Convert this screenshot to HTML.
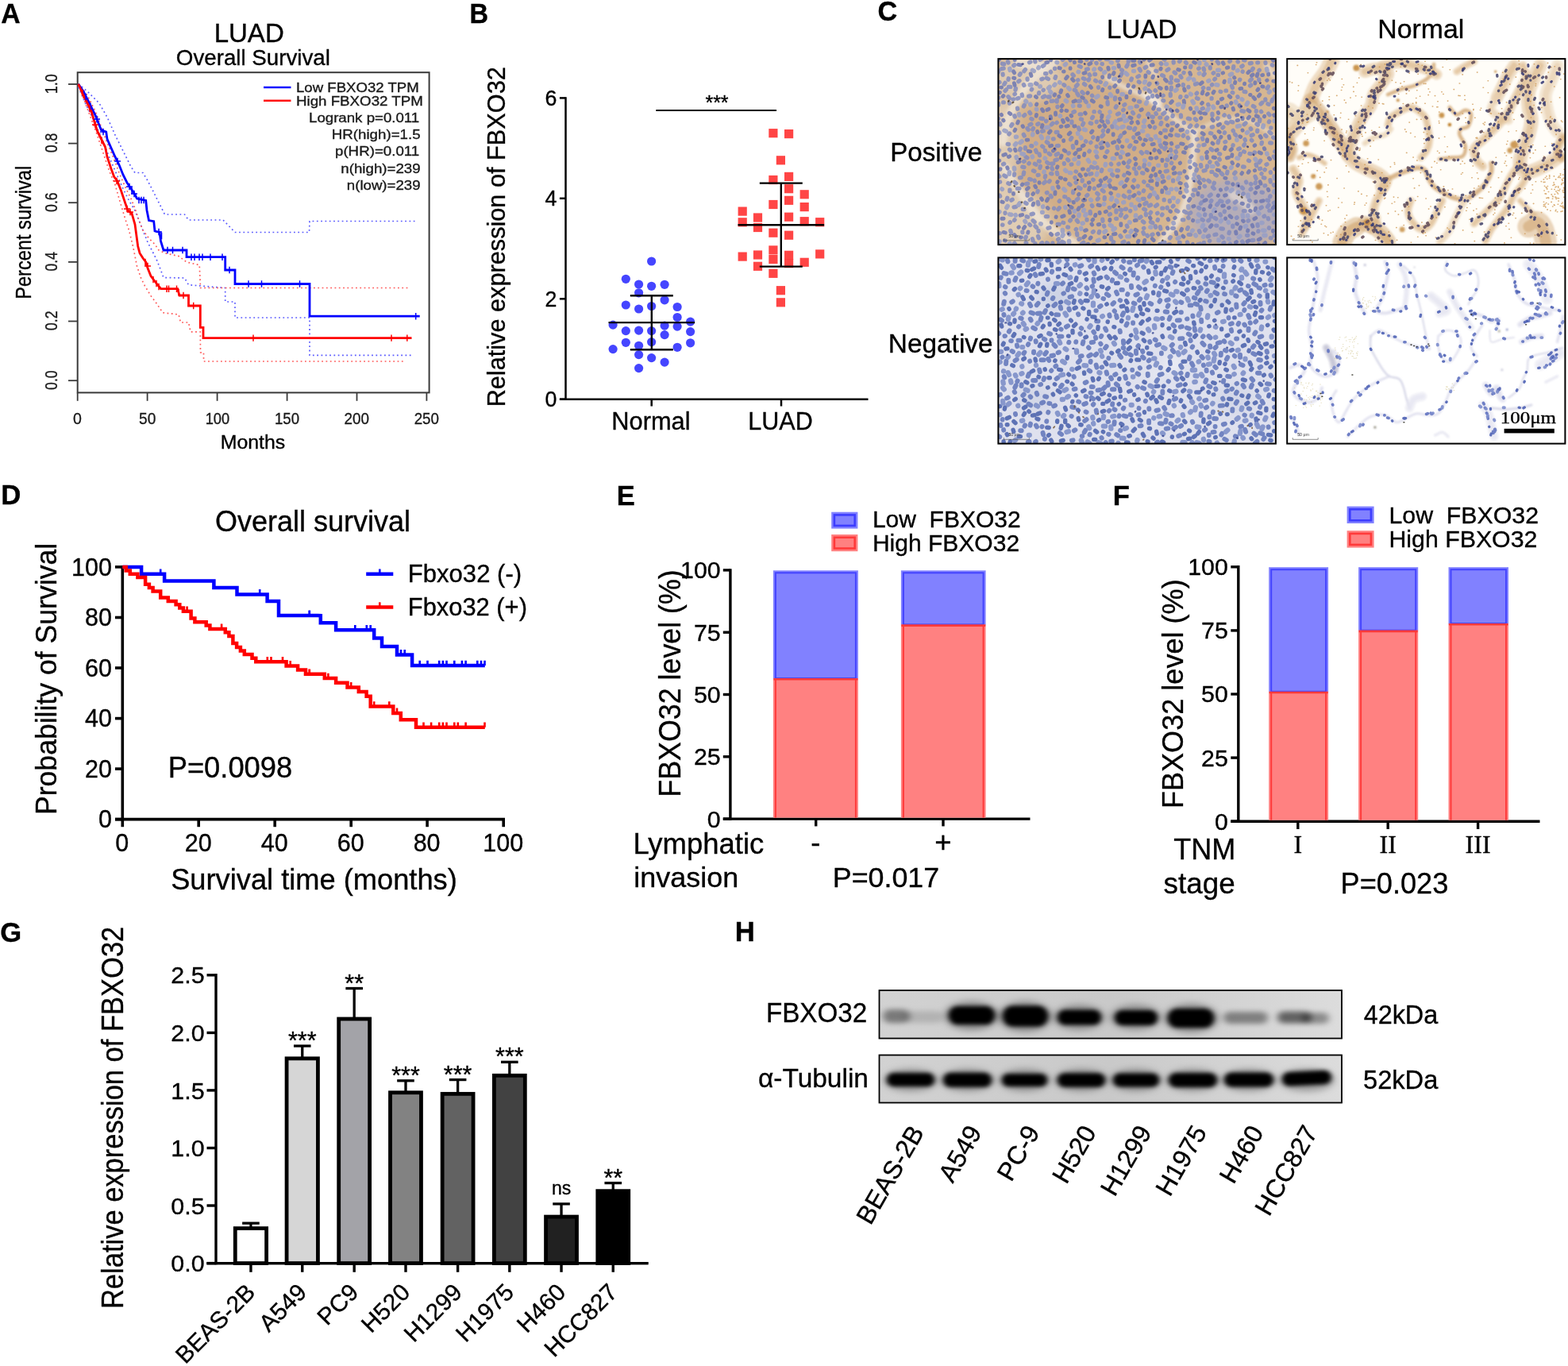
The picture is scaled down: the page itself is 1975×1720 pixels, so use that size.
<!DOCTYPE html>
<html lang="en"><head><meta charset="utf-8"><title>FBXO32 in LUAD - figure</title>
<style>
html,body{margin:0;padding:0;background:#fff;}
body{width:1975px;height:1720px;overflow:hidden;}
svg{display:block;}
text{white-space:pre;}
</style></head><body>
<svg width="1975" height="1720" viewBox="0 0 1975 1720" role="img" aria-label="FBXO32 expression in LUAD, panels A to H">
<rect width="1975" height="1720" fill="#fff"/>
<g id="panelA">
<text transform="translate(1.36,28.90) scale(0.9578,1)" font-family='"Liberation Sans", sans-serif' font-size="35.22" font-weight="bold" fill="#000" stroke="#000" stroke-width="0.35" >A</text>
<text transform="translate(269.66,52.60)" font-family='"Liberation Sans", sans-serif' font-size="33.03" font-weight="normal" fill="#000" stroke="#000" stroke-width="0.35" >LUAD</text>
<text transform="translate(221.85,82.00)" font-family='"Liberation Sans", sans-serif' font-size="27.72" font-weight="normal" fill="#000" stroke="#000" stroke-width="0.35" >Overall Survival</text>
<rect x="97.70" y="91.20" width="442.90" height="403.20" fill="none" stroke="#3a3a3a" stroke-width="2.0" />
<line x1="86.00" y1="106.00" x2="97.70" y2="106.00" stroke="#3a3a3a" stroke-width="1.8" stroke-linecap="butt" />
<text transform="translate(72.30,118.36) rotate(-90) scale(0.8450,1)" font-family='"Liberation Sans", sans-serif' font-size="21.45" font-weight="normal" fill="#1a1a1a" stroke="#1a1a1a" stroke-width="0.35">1.0</text>
<line x1="86.00" y1="180.60" x2="97.70" y2="180.60" stroke="#3a3a3a" stroke-width="1.8" stroke-linecap="butt" />
<text transform="translate(72.30,192.31) rotate(-90) scale(0.8257,1)" font-family='"Liberation Sans", sans-serif' font-size="21.45" font-weight="normal" fill="#1a1a1a" stroke="#1a1a1a" stroke-width="0.35">0.8</text>
<line x1="86.00" y1="255.20" x2="97.70" y2="255.20" stroke="#3a3a3a" stroke-width="1.8" stroke-linecap="butt" />
<text transform="translate(72.30,266.91) rotate(-90) scale(0.8257,1)" font-family='"Liberation Sans", sans-serif' font-size="21.45" font-weight="normal" fill="#1a1a1a" stroke="#1a1a1a" stroke-width="0.35">0.6</text>
<line x1="86.00" y1="329.90" x2="97.70" y2="329.90" stroke="#3a3a3a" stroke-width="1.8" stroke-linecap="butt" />
<text transform="translate(72.30,341.60) rotate(-90) scale(0.8194,1)" font-family='"Liberation Sans", sans-serif' font-size="21.45" font-weight="normal" fill="#1a1a1a" stroke="#1a1a1a" stroke-width="0.35">0.4</text>
<line x1="86.00" y1="404.50" x2="97.70" y2="404.50" stroke="#3a3a3a" stroke-width="1.8" stroke-linecap="butt" />
<text transform="translate(72.30,416.21) rotate(-90) scale(0.8320,1)" font-family='"Liberation Sans", sans-serif' font-size="21.45" font-weight="normal" fill="#1a1a1a" stroke="#1a1a1a" stroke-width="0.35">0.2</text>
<line x1="86.00" y1="479.20" x2="97.70" y2="479.20" stroke="#3a3a3a" stroke-width="1.8" stroke-linecap="butt" />
<text transform="translate(72.30,490.91) rotate(-90) scale(0.8225,1)" font-family='"Liberation Sans", sans-serif' font-size="21.45" font-weight="normal" fill="#1a1a1a" stroke="#1a1a1a" stroke-width="0.35">0.0</text>
<line x1="97.70" y1="494.40" x2="97.70" y2="504.80" stroke="#3a3a3a" stroke-width="1.8" stroke-linecap="butt" />
<line x1="185.60" y1="494.40" x2="185.60" y2="504.80" stroke="#3a3a3a" stroke-width="1.8" stroke-linecap="butt" />
<line x1="273.60" y1="494.40" x2="273.60" y2="504.80" stroke="#3a3a3a" stroke-width="1.8" stroke-linecap="butt" />
<line x1="361.60" y1="494.40" x2="361.60" y2="504.80" stroke="#3a3a3a" stroke-width="1.8" stroke-linecap="butt" />
<line x1="449.50" y1="494.40" x2="449.50" y2="504.80" stroke="#3a3a3a" stroke-width="1.8" stroke-linecap="butt" />
<line x1="537.40" y1="494.40" x2="537.40" y2="504.80" stroke="#3a3a3a" stroke-width="1.8" stroke-linecap="butt" />
<text transform="translate(92.12,533.90) scale(0.9647,1)" font-family='"Liberation Sans", sans-serif' font-size="20.30" font-weight="normal" fill="#1a1a1a" stroke="#1a1a1a" stroke-width="0.35" >0</text>
<text transform="translate(175.03,533.90) scale(0.9424,1)" font-family='"Liberation Sans", sans-serif' font-size="20.30" font-weight="normal" fill="#1a1a1a" stroke="#1a1a1a" stroke-width="0.35" >50</text>
<text transform="translate(258.63,533.90) scale(0.9029,1)" font-family='"Liberation Sans", sans-serif' font-size="20.30" font-weight="normal" fill="#1a1a1a" stroke="#1a1a1a" stroke-width="0.35" >100</text>
<text transform="translate(345.90,533.90) scale(0.9187,1)" font-family='"Liberation Sans", sans-serif' font-size="20.30" font-weight="normal" fill="#1a1a1a" stroke="#1a1a1a" stroke-width="0.35" >150</text>
<text transform="translate(433.56,533.90) scale(0.9291,1)" font-family='"Liberation Sans", sans-serif' font-size="20.30" font-weight="normal" fill="#1a1a1a" stroke="#1a1a1a" stroke-width="0.35" >200</text>
<text transform="translate(521.66,533.90) scale(0.9260,1)" font-family='"Liberation Sans", sans-serif' font-size="20.30" font-weight="normal" fill="#1a1a1a" stroke="#1a1a1a" stroke-width="0.35" >250</text>
<text transform="translate(277.71,564.90) scale(1.0275,1)" font-family='"Liberation Sans", sans-serif' font-size="24.20" font-weight="normal" fill="#000" stroke="#000" stroke-width="0.35" >Months</text>
<text transform="translate(38.60,376.79) rotate(-90) scale(0.8762,1)" font-family='"Liberation Sans", sans-serif' font-size="26.96" font-weight="normal" fill="#000" stroke="#000" stroke-width="0.35">Percent survival</text>
<line x1="332.00" y1="110.00" x2="366.50" y2="110.00" stroke="#1414ff" stroke-width="2.4" stroke-linecap="butt" />
<line x1="332.00" y1="126.80" x2="366.50" y2="126.80" stroke="#ff1414" stroke-width="2.4" stroke-linecap="butt" />
<text transform="translate(373.01,115.50) scale(1.1420,1)" font-family='"Liberation Sans", sans-serif' font-size="16.30" font-weight="normal" fill="#1a1a1a" stroke="#1a1a1a" stroke-width="0.35" >Low FBXO32 TPM</text>
<text transform="translate(373.00,132.70) scale(1.1486,1)" font-family='"Liberation Sans", sans-serif' font-size="16.30" font-weight="normal" fill="#1a1a1a" stroke="#1a1a1a" stroke-width="0.35" >High FBXO32 TPM</text>
<text transform="translate(389.01,154.40) scale(1.1459,1)" font-family='"Liberation Sans", sans-serif' font-size="16.30" font-weight="normal" fill="#1a1a1a" stroke="#1a1a1a" stroke-width="0.35" >Logrank p=0.011</text>
<text transform="translate(417.80,175.40) scale(1.1474,1)" font-family='"Liberation Sans", sans-serif' font-size="16.30" font-weight="normal" fill="#1a1a1a" stroke="#1a1a1a" stroke-width="0.35" >HR(high)=1.5</text>
<text transform="translate(421.98,196.40) scale(1.1488,1)" font-family='"Liberation Sans", sans-serif' font-size="16.30" font-weight="normal" fill="#1a1a1a" stroke="#1a1a1a" stroke-width="0.35" >p(HR)=0.011</text>
<text transform="translate(429.28,217.80) scale(1.1476,1)" font-family='"Liberation Sans", sans-serif' font-size="16.30" font-weight="normal" fill="#1a1a1a" stroke="#1a1a1a" stroke-width="0.35" >n(high)=239</text>
<text transform="translate(436.79,238.80) scale(1.1450,1)" font-family='"Liberation Sans", sans-serif' font-size="16.30" font-weight="normal" fill="#1a1a1a" stroke="#1a1a1a" stroke-width="0.35" >n(low)=239</text>
<path d="M98.7 105.7 L110.0 115.0 L125.0 130.0 L135.0 147.5 L145.0 170.0 L155.0 190.0 L165.0 210.0 L170.0 217.5 L180.0 217.5 L186.0 227.5 L192.5 240.0 L200.0 255.0 L207.5 270.0 L232.5 270.0 L237.5 277.0 L281.0 277.0 L296.0 292.5 L389.5 292.5 L390.0 278.5 L522.5 278.5" fill="none" stroke="#5a5aff" stroke-width="1.7" stroke-dasharray="1.8 3.5" stroke-linejoin="round"/>
<path d="M98.7 110.0 L107.5 130.0 L117.5 150.0 L127.5 172.5 L137.5 197.5 L145.0 215.0 L155.0 237.5 L162.5 252.5 L170.0 265.0 L175.0 277.5 L180.0 290.0 L186.0 305.0 L192.5 317.5 L197.5 327.5 L202.5 340.0 L206.0 349.5 L232.5 350.0 L237.5 358.7 L283.7 362.5 L283.7 380.0 L296.0 380.0 L296.0 400.0 L390.0 400.0 L390.0 447.3 L518.0 447.3" fill="none" stroke="#5a5aff" stroke-width="1.7" stroke-dasharray="1.8 3.5" stroke-linejoin="round"/>
<path d="M98.7 105.7 L110.0 120.0 L120.0 140.0 L127.5 160.0 L135.0 180.0 L142.5 197.5 L150.0 217.5 L157.5 235.0 L165.0 250.0 L170.0 262.5 L175.0 277.5 L180.0 290.0 L187.5 300.0 L195.0 307.5 L200.0 315.0 L207.5 318.7 L225.0 322.5 L235.0 330.0 L251.2 333.7 L252.5 362.5 L513.7 362.5" fill="none" stroke="#ff5a5a" stroke-width="1.7" stroke-dasharray="1.8 3.5" stroke-linejoin="round"/>
<path d="M98.7 107.5 L107.5 130.0 L115.0 150.0 L122.5 170.0 L130.0 192.5 L137.5 215.0 L145.0 232.5 L150.0 250.0 L157.5 275.0 L162.5 290.0 L167.5 310.0 L172.5 335.0 L177.5 350.0 L182.5 360.0 L190.0 372.5 L197.5 382.5 L205.0 393.7 L225.0 396.0 L227.5 406.0 L237.5 406.0 L240.0 417.8 L252.3 417.8 L252.5 443.8 L256.5 443.8 L256.5 455.0 L510.3 455.0" fill="none" stroke="#ff5a5a" stroke-width="1.7" stroke-dasharray="1.8 3.5" stroke-linejoin="round"/>
<path d="M98.7 105.7 L105.0 115.0 L112.5 130.0 L120.0 145.0 L125.0 157.5 L127.5 163.7 L133.7 166.0 L135.0 175.0 L145.0 197.5 L150.0 207.5 L155.0 220.0 L160.0 230.0 L165.0 237.5 L170.0 245.0 L172.5 250.0 L183.7 252.5 L185.0 265.0 L187.5 277.5 L193.7 278.7 L195.0 291.0 L201.0 292.5 L202.5 303.7 L206.0 315.0 L235.0 315.0 L235.0 323.7 L283.7 323.7 L283.7 340.0 L296.0 340.0 L296.0 357.5 L390.0 357.5 L390.0 398.2 L528.7 398.2" fill="none" stroke="#0000ff" stroke-width="2.8" stroke-linejoin="miter"/>
<path d="M98.7 105.7 L105.0 120.0 L110.0 130.0 L115.0 140.0 L118.7 152.5 L122.5 165.0 L127.5 175.0 L132.5 185.0 L135.0 197.5 L140.0 212.5 L143.7 222.5 L147.5 227.5 L152.5 240.0 L157.5 255.0 L161.0 265.0 L166.0 268.7 L170.0 282.5 L172.0 297.5 L173.7 310.0 L176.0 318.7 L180.0 325.0 L183.7 330.0 L186.0 337.5 L190.0 347.5 L193.7 352.5 L197.5 357.5 L202.5 363.5 L223.7 363.7 L226.0 372.0 L237.5 372.0 L237.5 385.0 L252.3 385.0 L252.3 412.3 L256.0 412.3 L256.0 425.6 L518.5 425.6" fill="none" stroke="#ff0000" stroke-width="2.8" stroke-linejoin="miter"/>
<path d="M211.0 310.8V319.2M217.5 310.8V319.2M230.0 310.8V319.2M241.0 319.5V327.9M245.0 319.5V327.9M251.0 319.5V327.9M255.0 319.5V327.9M265.0 319.5V327.9M280.0 319.5V327.9M289.0 335.8V344.2M313.0 353.3V361.7M329.5 353.3V361.7M377.5 353.3V361.7M523.7 394.0V402.4M108.0 117.8V126.2M114.0 129.8V138.2M122.0 145.8V154.2M130.0 161.8V170.2M148.0 198.8V207.2M163.0 230.8V239.2M166.0 235.8V244.2M169.0 239.8V248.2M175.0 247.8V256.2M178.0 247.8V256.2M181.0 247.8V256.2M200.0 287.8V296.2M203.5 292.8V301.2" fill="none" stroke="#0000ff" stroke-width="1.5" />
<path d="M210.0 359.5V367.9M212.5 359.5V367.9M222.5 359.5V367.9M225.0 363.8V372.2M231.0 367.8V376.2M243.7 380.8V389.2M319.0 421.4V429.8M493.0 421.4V429.8M512.8 421.4V429.8M104.0 112.8V121.2M113.0 132.8V141.2M120.0 152.8V161.2M128.0 172.8V181.2M147.0 223.8V232.2M160.0 258.8V267.2M164.0 262.8V271.2M183.0 325.8V334.2M186.0 330.8V339.2M193.0 347.8V356.2M197.0 352.8V361.2M200.0 356.8V365.2" fill="none" stroke="#ff0000" stroke-width="1.5" />
<path d="M118.0 150.0H126.0M126.0 166.0H134.0M144.0 203.0H152.0M159.0 235.0H167.0M165.0 244.0H173.0M196.0 292.0H204.0" fill="none" stroke="#0000ff" stroke-width="1.4" />
<path d="M116.0 157.0H124.0M143.0 228.0H151.0M156.0 263.0H164.0M160.0 267.0H168.0M182.0 335.0H190.0" fill="none" stroke="#ff0000" stroke-width="1.4" />
</g>
<g id="panelB">
<text transform="translate(591.38,28.70) scale(0.9418,1)" font-family='"Liberation Sans", sans-serif' font-size="34.64" font-weight="bold" fill="#000" stroke="#000" stroke-width="0.35" >B</text>
<line x1="712.50" y1="122.20" x2="712.50" y2="503.90" stroke="#000" stroke-width="2.5" stroke-linecap="butt" />
<line x1="704.90" y1="502.70" x2="1093.50" y2="502.70" stroke="#000" stroke-width="2.5" stroke-linecap="butt" />
<line x1="704.90" y1="123.40" x2="712.50" y2="123.40" stroke="#000" stroke-width="2.5" stroke-linecap="butt" />
<text transform="translate(701.40,132.90)" text-anchor="end" font-family='"Liberation Sans", sans-serif' font-size="26.80" font-weight="normal" fill="#000" stroke="#000" stroke-width="0.35">6</text>
<line x1="704.90" y1="249.80" x2="712.50" y2="249.80" stroke="#000" stroke-width="2.5" stroke-linecap="butt" />
<text transform="translate(701.40,259.30)" text-anchor="end" font-family='"Liberation Sans", sans-serif' font-size="26.80" font-weight="normal" fill="#000" stroke="#000" stroke-width="0.35">4</text>
<line x1="704.90" y1="376.30" x2="712.50" y2="376.30" stroke="#000" stroke-width="2.5" stroke-linecap="butt" />
<text transform="translate(701.40,385.80)" text-anchor="end" font-family='"Liberation Sans", sans-serif' font-size="26.80" font-weight="normal" fill="#000" stroke="#000" stroke-width="0.35">2</text>
<line x1="704.90" y1="502.70" x2="712.50" y2="502.70" stroke="#000" stroke-width="2.5" stroke-linecap="butt" />
<text transform="translate(701.40,512.20)" text-anchor="end" font-family='"Liberation Sans", sans-serif' font-size="26.80" font-weight="normal" fill="#000" stroke="#000" stroke-width="0.35">0</text>
<line x1="820.70" y1="502.70" x2="820.70" y2="511.50" stroke="#000" stroke-width="2.5" stroke-linecap="butt" />
<line x1="984.00" y1="502.70" x2="984.00" y2="511.50" stroke="#000" stroke-width="2.5" stroke-linecap="butt" />
<text transform="translate(770.34,540.50)" font-family='"Liberation Sans", sans-serif' font-size="30.80" font-weight="normal" fill="#000" stroke="#000" stroke-width="0.35" >Normal</text>
<text transform="translate(942.36,540.50)" font-family='"Liberation Sans", sans-serif' font-size="30.51" font-weight="normal" fill="#000" stroke="#000" stroke-width="0.35" >LUAD</text>
<text transform="translate(635.70,512.36) rotate(-90) scale(0.9631,1)" font-family='"Liberation Sans", sans-serif' font-size="31.88" font-weight="normal" fill="#000" stroke="#000" stroke-width="0.35">Relative expression of FBXO32</text>
<line x1="826.30" y1="139.00" x2="978.00" y2="139.00" stroke="#000" stroke-width="2.2" stroke-linecap="butt" />
<text transform="translate(903.00,137.50)" text-anchor="middle" font-family='"Liberation Sans", sans-serif' font-size="25.00" font-weight="normal" fill="#000" stroke="#000" stroke-width="0.35">***</text>
<g fill="#ff3b3b" fill-opacity="0.95">
<rect x="968.3" y="162.1" width="11.2" height="11.2"/>
<rect x="988.0" y="163.0" width="11.2" height="11.2"/>
<rect x="977.8" y="196.2" width="11.2" height="11.2"/>
<rect x="988.0" y="216.8" width="11.2" height="11.2"/>
<rect x="968.3" y="220.9" width="11.2" height="11.2"/>
<rect x="988.0" y="232.1" width="11.2" height="11.2"/>
<rect x="1007.6" y="239.2" width="11.2" height="11.2"/>
<rect x="988.0" y="246.7" width="11.2" height="11.2"/>
<rect x="968.3" y="251.9" width="11.2" height="11.2"/>
<rect x="1007.6" y="255.0" width="11.2" height="11.2"/>
<rect x="929.6" y="260.5" width="11.2" height="11.2"/>
<rect x="948.9" y="268.4" width="11.2" height="11.2"/>
<rect x="988.0" y="267.6" width="11.2" height="11.2"/>
<rect x="929.6" y="274.2" width="11.2" height="11.2"/>
<rect x="1007.6" y="273.1" width="11.2" height="11.2"/>
<rect x="1027.1" y="274.1" width="11.2" height="11.2"/>
<rect x="948.9" y="280.9" width="11.2" height="11.2"/>
<rect x="968.3" y="287.6" width="11.2" height="11.2"/>
<rect x="988.0" y="290.6" width="11.2" height="11.2"/>
<rect x="968.3" y="309.3" width="11.2" height="11.2"/>
<rect x="948.9" y="315.4" width="11.2" height="11.2"/>
<rect x="929.6" y="317.5" width="11.2" height="11.2"/>
<rect x="988.0" y="315.7" width="11.2" height="11.2"/>
<rect x="1027.1" y="314.3" width="11.2" height="11.2"/>
<rect x="968.3" y="321.0" width="11.2" height="11.2"/>
<rect x="988.0" y="326.0" width="11.2" height="11.2"/>
<rect x="1007.6" y="324.7" width="11.2" height="11.2"/>
<rect x="948.9" y="329.7" width="11.2" height="11.2"/>
<rect x="968.3" y="338.7" width="11.2" height="11.2"/>
<rect x="977.8" y="360.1" width="11.2" height="11.2"/>
<rect x="977.8" y="375.2" width="11.2" height="11.2"/>
</g>
<g fill="#3b3bff" fill-opacity="0.95">
<circle cx="820.6" cy="329.0" r="5.6"/>
<circle cx="788.3" cy="351.3" r="5.6"/>
<circle cx="804.6" cy="358.0" r="5.6"/>
<circle cx="820.6" cy="360.3" r="5.6"/>
<circle cx="837.1" cy="358.3" r="5.6"/>
<circle cx="804.6" cy="368.8" r="5.6"/>
<circle cx="837.1" cy="377.8" r="5.6"/>
<circle cx="788.3" cy="384.0" r="5.6"/>
<circle cx="820.6" cy="385.5" r="5.6"/>
<circle cx="853.1" cy="386.5" r="5.6"/>
<circle cx="804.6" cy="389.0" r="5.6"/>
<circle cx="853.1" cy="399.5" r="5.6"/>
<circle cx="869.6" cy="405.1" r="5.6"/>
<circle cx="772.1" cy="409.1" r="5.6"/>
<circle cx="837.1" cy="410.1" r="5.6"/>
<circle cx="853.1" cy="411.1" r="5.6"/>
<circle cx="788.3" cy="416.6" r="5.6"/>
<circle cx="804.6" cy="416.1" r="5.6"/>
<circle cx="820.6" cy="416.6" r="5.6"/>
<circle cx="869.6" cy="417.6" r="5.6"/>
<circle cx="837.1" cy="421.6" r="5.6"/>
<circle cx="788.3" cy="431.3" r="5.6"/>
<circle cx="820.6" cy="430.6" r="5.6"/>
<circle cx="869.6" cy="431.8" r="5.6"/>
<circle cx="804.6" cy="435.3" r="5.6"/>
<circle cx="853.1" cy="437.3" r="5.6"/>
<circle cx="772.1" cy="439.6" r="5.6"/>
<circle cx="804.6" cy="446.6" r="5.6"/>
<circle cx="820.6" cy="450.6" r="5.6"/>
<circle cx="837.1" cy="456.1" r="5.6"/>
<circle cx="804.6" cy="463.6" r="5.6"/>
</g>
<line x1="983.80" y1="230.60" x2="983.80" y2="335.60" stroke="#000" stroke-width="2.4" stroke-linecap="butt" />
<line x1="956.80" y1="230.60" x2="1010.80" y2="230.60" stroke="#000" stroke-width="2.4" stroke-linecap="butt" />
<line x1="956.80" y1="335.60" x2="1010.80" y2="335.60" stroke="#000" stroke-width="2.4" stroke-linecap="butt" />
<line x1="929.50" y1="283.20" x2="1038.10" y2="283.20" stroke="#000" stroke-width="2.4" stroke-linecap="butt" />
<line x1="820.80" y1="372.30" x2="820.80" y2="440.30" stroke="#000" stroke-width="2.4" stroke-linecap="butt" />
<line x1="793.80" y1="372.30" x2="847.80" y2="372.30" stroke="#000" stroke-width="2.4" stroke-linecap="butt" />
<line x1="793.80" y1="440.30" x2="847.80" y2="440.30" stroke="#000" stroke-width="2.4" stroke-linecap="butt" />
<line x1="766.50" y1="406.10" x2="875.10" y2="406.10" stroke="#000" stroke-width="2.4" stroke-linecap="butt" />
</g>
<g id="panelC">
<defs><clipPath id="cC1"><rect x="1257.4" y="74.1" width="349.5" height="234.0"/></clipPath><clipPath id="cC2"><rect x="1621.2" y="74.1" width="350.2" height="234.0"/></clipPath><clipPath id="cC3"><rect x="1257.4" y="324.4" width="349.5" height="234.2"/></clipPath><clipPath id="cC4"><rect x="1621.2" y="324.4" width="350.2" height="234.2"/></clipPath><filter id="bl05"><feGaussianBlur stdDeviation="0.65"/></filter><filter id="bl1"><feGaussianBlur stdDeviation="1.3"/></filter><filter id="bl2"><feGaussianBlur stdDeviation="2"/></filter><filter id="bl6" x="-30%" y="-30%" width="160%" height="160%"><feGaussianBlur stdDeviation="7"/></filter></defs>
<text transform="translate(1105.60,26.20)" text-anchor="start" font-family='"Liberation Sans", sans-serif' font-size="34.20" font-weight="bold" fill="#000" stroke="#000" stroke-width="0.35">C</text>
<text transform="translate(1394.05,47.60)" font-family='"Liberation Sans", sans-serif' font-size="33.11" font-weight="normal" fill="#000" stroke="#000" stroke-width="0.35" >LUAD</text>
<text transform="translate(1735.29,47.60)" font-family='"Liberation Sans", sans-serif' font-size="33.82" font-weight="normal" fill="#000" stroke="#000" stroke-width="0.35" >Normal</text>
<text transform="translate(1121.25,202.50)" font-family='"Liberation Sans", sans-serif' font-size="33.13" font-weight="normal" fill="#000" stroke="#000" stroke-width="0.35" >Positive</text>
<text transform="translate(1118.83,443.60)" font-family='"Liberation Sans", sans-serif' font-size="33.38" font-weight="normal" fill="#000" stroke="#000" stroke-width="0.35" >Negative</text>
<g clip-path="url(#cC1)">
<rect x="1257.40" y="74.10" width="349.50" height="234.00" fill="#d6b691" stroke="none" stroke-width="0" />
<g filter="url(#bl6)">
<ellipse cx="1557" cy="269" rx="60" ry="45" fill="#a9a9c6" opacity="0.75"/>
<ellipse cx="1377" cy="194" rx="110" ry="85" fill="#cda780" opacity="0.6"/>
<ellipse cx="1277" cy="279" rx="45" ry="40" fill="#e2d3bd" opacity="0.8"/>
<ellipse cx="1292" cy="99" rx="45" ry="28" fill="#e0d0ba" opacity="0.8"/>
<ellipse cx="1262" cy="184" rx="22" ry="60" fill="#e4d6c2" opacity="0.7"/>
</g>
<g filter="url(#bl2)">
<path d="M1329.5 77.2C1326.4 79.4 1316.8 85.2 1311.0 90.2C1305.1 95.1 1299.9 99.7 1294.4 106.8C1288.8 113.9 1282.2 124.4 1277.7 132.7C1273.3 141.0 1270.0 149.0 1267.6 156.7C1265.1 164.4 1263.7 175.2 1262.9 178.9" fill="none" stroke="#efe6da" stroke-width="11.25" stroke-linecap="round" stroke-linejoin="round" opacity="0.76" />
<path d="M1266.6 212.2C1268.5 215.2 1273.4 223.9 1277.7 230.6C1282.0 237.4 1287.6 245.7 1292.5 252.8C1297.4 259.9 1301.1 266.7 1307.3 273.1C1313.5 279.6 1321.8 286.1 1329.5 291.6C1337.2 297.2 1349.5 303.9 1353.5 306.4" fill="none" stroke="#efe6da" stroke-width="11.25" stroke-linecap="round" stroke-linejoin="round" opacity="0.76" />
<path d="M1394.2 97.6C1397.8 99.6 1408.3 105.6 1416.3 109.6C1424.3 113.6 1434.5 117.1 1442.2 121.6C1449.9 126.1 1455.1 130.8 1462.5 136.4C1469.9 141.9 1479.6 149.8 1486.6 154.9C1493.5 159.9 1501.2 164.9 1504.1 166.9" fill="none" stroke="#eee6dc" stroke-width="6.25" stroke-linecap="round" stroke-linejoin="round" opacity="0.7200000000000001" />
<path d="M1504.1 166.9C1508.0 164.9 1518.7 157.8 1527.2 154.9C1535.7 151.9 1545.7 149.0 1554.9 149.3C1564.2 149.6 1574.0 152.9 1582.7 156.7C1591.3 160.6 1602.7 169.8 1606.7 172.4" fill="none" stroke="#eadfce" stroke-width="5.0" stroke-linecap="round" stroke-linejoin="round" opacity="0.68" />
<path d="M1504.1 166.9C1503.8 172.0 1503.0 187.7 1502.3 197.4C1501.5 207.1 1500.9 215.8 1499.5 225.1C1498.1 234.3 1496.6 244.2 1493.9 252.8C1491.3 261.4 1487.8 269.7 1483.8 276.8C1479.8 283.9 1473.8 290.1 1469.9 295.3C1466.1 300.6 1462.2 306.1 1460.7 308.3" fill="none" stroke="#f0e9df" stroke-width="8.75" stroke-linecap="round" stroke-linejoin="round" opacity="0.76" />
<path d="M1445.9 119.7 L1458.8 129.0" fill="none" stroke="#f6f1ea" stroke-width="11.25" stroke-linecap="round" stroke-linejoin="round" opacity="0.76" />
<path d="M1553.1 245.4C1555.6 247.0 1564.2 251.6 1567.9 254.7C1571.6 257.7 1574.0 262.4 1575.3 263.9" fill="none" stroke="#e9e0d6" stroke-width="12.5" stroke-linecap="round" stroke-linejoin="round" opacity="0.6400000000000001" />
<path d="M1283.3 79.1 L1311.0 82.8" fill="none" stroke="#f1e9de" stroke-width="12.5" stroke-linecap="round" stroke-linejoin="round" opacity="0.7200000000000001" />
<path d="M1445.9 79.1 L1455.1 95.7" fill="none" stroke="#efe6da" stroke-width="6.25" stroke-linecap="round" stroke-linejoin="round" opacity="0.6400000000000001" />
<path d="M1595.6 82.8 L1606.7 97.6" fill="none" stroke="#efe6da" stroke-width="7.5" stroke-linecap="round" stroke-linejoin="round" opacity="0.6400000000000001" />
</g>
<g filter="url(#bl05)" opacity="0.88">
<path d="M1407.2 184.7l0.6 2.2M1584.6 78.8l-0.8 0.0M1308.2 220.4l-1.1 0.1M1354.0 223.6l0.3 0.5M1534.0 148.7l-0.5 0.8M1507.1 189.4l2.0 0.4M1425.4 98.9l-0.7 1.9M1512.5 207.6l0.4 2.1M1573.5 252.0l0.8 0.7M1369.1 73.1l-0.2 2.1M1313.3 99.2l-1.4 0.5M1593.3 213.6l-0.3 0.4M1499.7 158.1l-1.4 1.7M1391.3 248.5l-0.1 2.4M1523.7 303.3l-0.2 0.3M1559.1 231.9l-0.0 1.3M1323.6 218.6l1.4 0.2M1411.0 296.8l1.0 1.3M1454.7 160.3l-0.4 0.6M1487.4 144.9l0.1 2.3M1399.4 299.0l0.2 2.3M1483.6 184.6l-1.0 0.4M1508.3 175.2l-0.9 0.3M1412.0 170.5l-1.3 1.9M1358.5 236.1l2.5 1.2M1321.2 193.2l1.6 1.3M1349.8 173.5l-1.3 2.2M1599.9 226.6l0.4 2.5M1334.7 252.9l-0.5 0.6M1469.9 201.1l0.9 0.5M1493.8 232.1l1.1 2.6M1358.5 160.8l0.9 2.5M1369.0 276.3l-0.0 0.7M1447.0 113.9l1.7 1.5M1304.0 306.6l-0.1 0.6M1312.7 305.8l-1.3 0.9M1299.1 250.7l-1.9 1.0M1524.2 84.6l0.1 1.4M1266.0 267.9l0.1 0.7M1411.1 264.0l1.4 0.4M1402.7 304.6l-0.9 2.3M1565.5 210.0l1.7 0.2M1558.8 121.7l0.3 0.6M1541.8 305.6l-0.8 0.4M1502.4 245.2l0.5 0.8M1445.7 233.5l0.5 0.1M1592.6 272.1l-0.6 0.4M1596.9 130.8l1.2 0.6M1524.4 167.7l1.5 0.3M1516.4 305.4l0.1 1.2M1466.9 141.9l-2.0 1.7M1446.5 143.4l-0.8 1.0M1465.9 74.5l1.2 0.5M1525.2 270.7l0.3 2.2M1466.2 251.5l0.0 0.4M1567.1 115.4l1.8 0.3M1340.3 205.7l0.1 0.7M1276.7 125.0l-0.7 0.1M1356.9 117.8l1.3 2.1M1599.6 179.9l1.9 0.3M1495.4 305.0l0.7 1.8M1361.4 150.0l1.2 0.3M1318.3 178.9l1.7 1.1M1468.2 185.8l-1.3 1.8M1344.6 200.7l1.1 1.2M1598.5 286.7l-0.2 0.6M1526.8 106.6l-0.4 0.3M1589.8 129.3l-1.8 1.6M1290.3 132.2l-0.9 1.8M1429.7 161.4l-1.1 2.2M1509.6 222.5l1.3 2.2M1543.7 178.4l-0.8 0.4M1326.5 127.2l-2.5 0.1M1596.0 206.8l-1.1 0.4M1375.5 74.3l0.0 1.0M1553.1 182.8l-0.1 0.3M1308.7 116.7l-0.2 1.2M1468.7 207.4l-0.1 1.5M1457.1 104.5l0.5 0.7M1464.8 262.2l-1.0 0.0M1383.3 249.9l-1.0 1.1M1388.4 179.3l-2.1 1.7M1439.9 292.4l0.8 2.0M1272.4 279.8l-0.5 0.6M1526.9 143.2l0.1 2.2M1597.5 109.0l-1.5 2.1M1374.9 218.7l-2.3 0.6M1423.1 247.5l-0.8 1.7M1432.3 133.8l-1.2 0.0M1575.9 237.8l-0.8 0.7M1274.9 156.5l-1.2 1.9M1569.0 155.0l-1.9 1.7M1293.1 272.8l1.5 0.4M1334.3 261.8l-1.5 1.8M1506.1 239.1l-2.5 0.1M1385.0 140.8l0.3 0.3M1527.5 235.7l1.8 1.8M1542.6 166.8l-0.3 0.6M1350.0 152.8l-0.1 2.0M1511.6 306.9l-2.6 0.9M1412.8 92.9l-1.3 2.5M1318.7 204.4l1.7 1.2M1296.3 205.5l-0.4 0.5M1575.2 161.9l0.5 0.7M1314.3 164.9l-1.9 0.4M1600.3 216.7l0.2 0.7M1386.2 73.8l-0.8 1.0M1443.7 84.2l-1.5 1.0M1473.2 252.5l0.2 1.4M1597.2 274.7l0.3 1.2M1593.7 170.2l1.2 1.3M1564.7 304.1l0.8 1.4M1542.4 266.0l-0.2 0.7M1584.9 290.9l-0.1 0.5M1294.5 231.1l-2.0 0.4M1349.9 206.9l-0.6 0.2M1406.2 133.8l-0.9 1.4M1496.3 286.5l-0.8 1.8M1507.4 123.6l1.7 0.7M1493.4 78.4l1.0 1.1M1553.8 83.7l-0.3 2.3M1553.1 164.4l0.3 0.4M1331.3 154.3l-0.5 0.4M1399.3 206.4l0.4 0.5M1389.6 164.2l-0.3 0.7M1505.3 149.7l1.5 1.5M1514.0 276.4l1.4 0.8M1525.9 252.5l-0.7 1.3M1600.1 246.8l-0.5 1.0M1593.7 233.7l-0.7 0.2M1257.7 123.0l-0.2 0.3M1552.8 284.1l0.0 1.5M1537.0 115.3l0.9 0.2M1416.1 220.3l-0.3 0.5M1569.5 228.9l0.3 0.8M1522.6 297.1l-1.4 0.8M1525.0 187.5l1.9 1.4M1589.1 218.6l-0.2 0.3M1462.8 154.4l-0.8 2.0M1457.6 257.9l-2.1 1.6M1455.9 142.6l0.4 0.8M1464.0 270.1l-0.5 0.7M1301.4 214.9l1.5 0.8M1423.7 265.4l-0.1 0.3M1388.3 239.5l1.9 1.5M1510.2 86.0l-0.6 0.4M1589.1 242.2l1.4 0.1M1360.1 300.7l-1.2 0.6M1471.9 87.1l-1.9 1.3M1513.3 255.0l-0.9 1.3M1534.5 94.4l-0.5 0.0M1450.1 236.9l0.9 0.6M1323.2 246.4l1.1 1.4M1542.3 144.8l-0.4 0.5M1262.3 80.3l2.4 0.4M1319.1 242.5l-0.7 0.3M1530.5 99.2l-0.8 0.8M1394.8 190.6l-0.7 0.8M1389.6 169.9l-1.7 1.8M1545.2 237.4l-0.7 0.5M1290.2 203.0l-0.7 0.4M1578.2 169.8l-2.0 0.7M1568.0 175.6l0.4 1.1M1461.6 148.1l-0.8 0.1M1465.2 120.2l-0.6 0.3M1549.5 307.1l-1.1 1.3M1314.3 113.2l-0.2 0.3M1444.9 296.2l0.7 1.0M1373.2 155.0l1.5 0.5M1556.0 217.1l-1.3 1.5M1405.9 265.0l-0.0 2.0M1312.6 184.0l1.3 1.0M1578.3 133.5l1.7 1.0M1476.6 287.3l1.8 0.1M1587.7 202.3l-1.5 2.3M1477.6 226.9l-0.0 1.0M1477.3 145.2l-0.3 1.2M1521.9 227.4l1.6 1.2M1605.7 190.8l0.9 0.5M1288.2 263.5l1.8 0.2M1271.4 129.5l0.2 0.6M1329.6 96.6l-0.6 1.7M1357.2 106.6l-1.8 1.8M1545.2 230.1l1.9 0.1M1582.1 207.0l0.5 1.9M1437.3 191.6l1.3 1.5M1269.2 181.4l1.4 0.3M1463.9 221.5l0.6 1.6M1316.6 228.9l-1.9 1.7M1310.4 209.3l-0.5 2.2M1605.0 296.6l2.1 0.9M1415.9 304.3l-1.9 1.1M1312.2 74.0l-2.0 1.1M1478.1 77.4l0.1 1.7M1331.3 217.2l0.5 2.2M1438.6 217.7l1.3 0.4M1400.6 219.5l1.3 1.2M1477.7 155.2l-1.7 0.2M1604.3 197.0l1.4 2.1M1428.5 226.9l-0.4 0.5M1308.0 290.5l0.1 0.9M1595.8 252.1l1.8 0.6M1398.5 269.6l-1.1 0.6M1578.9 302.4l-2.1 0.3M1589.4 179.4l-0.4 1.7M1522.0 111.4l0.6 0.0M1333.5 183.5l-2.3 0.1M1431.0 216.9l0.3 1.9M1449.7 258.0l-2.4 1.1M1580.1 191.9l0.6 0.1M1378.3 237.1l-0.1 0.3M1446.2 90.7l1.0 0.8M1275.2 251.3l-1.4 0.8M1409.3 206.4l-0.4 0.3M1455.8 89.2l1.1 0.4M1298.9 156.3l-2.0 0.8M1576.3 176.3l0.6 0.6M1474.2 118.2l0.1 2.5M1397.6 261.5l-0.3 0.1M1529.4 230.4l-0.4 0.7M1504.6 206.8l1.4 1.1M1371.0 213.6l-0.4 0.4M1393.4 74.4l2.3 0.3M1303.5 75.2l0.4 2.7M1491.7 266.2l2.2 1.3M1421.5 160.8l2.1 0.5M1544.5 154.3l1.9 0.7M1435.0 211.4l-0.2 0.2M1287.2 119.0l0.3 1.6M1526.1 123.7l-0.0 0.5M1408.2 76.1l-0.5 0.5M1278.0 81.6l-1.2 1.0M1355.6 288.5l-0.4 0.5M1369.8 245.5l-1.2 1.0M1507.7 157.9l-0.7 0.8M1423.9 183.0l-1.4 1.7M1355.1 229.7l0.2 0.3M1340.4 73.4l-2.0 1.8M1466.6 164.2l1.6 0.0M1308.4 203.0l0.9 0.2M1322.2 227.8l-0.8 1.0M1557.0 253.9l-1.6 1.1M1259.6 229.1l-1.8 0.7M1264.7 206.2l-1.1 0.6M1308.0 155.7l-1.2 0.8M1490.7 170.4l-0.5 0.7M1316.4 189.4l0.2 1.2M1581.0 222.3l1.0 2.4M1270.5 109.4l2.3 0.0M1367.0 127.1l1.2 1.5M1449.6 267.4l-0.8 1.2M1379.6 101.4l1.1 0.7M1332.1 282.3l2.1 0.2M1285.3 187.1l-0.8 1.8M1277.7 219.0l-0.2 1.5M1294.2 243.8l-0.2 2.6M1421.4 75.4l-0.2 2.4M1440.8 263.2l1.8 0.9M1372.3 190.1l-0.4 0.6M1501.1 182.6l-2.5 1.2M1259.3 155.3l0.6 1.6M1356.5 293.7l0.3 2.3M1486.3 76.5l-0.8 1.0M1440.7 228.9l0.4 0.3M1507.8 105.3l-2.3 0.8M1258.6 166.8l0.2 0.7M1264.3 128.9l-0.6 0.0M1327.6 262.2l-0.1 0.3M1384.7 291.5l-0.5 1.6M1381.3 153.2l-0.1 0.5M1531.9 295.2l-2.0 0.3M1582.3 139.5l-0.1 0.8M1489.4 276.8l1.4 0.0M1304.0 284.8l1.6 1.7M1297.7 121.0l-2.1 0.1M1284.0 237.3l-2.7 0.1M1576.3 79.4l-2.0 0.4M1521.7 131.4l0.4 1.0M1374.0 179.4l-0.3 0.2M1539.0 297.7l1.2 1.3M1518.2 214.4l-2.1 0.7M1439.4 278.8l1.5 1.3M1331.3 126.0l-0.1 2.1M1377.0 172.8l-0.3 0.3M1359.3 83.2l2.0 1.1M1550.6 153.3l2.1 0.6M1346.6 231.6l1.4 1.2M1371.7 99.7l-0.7 1.2M1339.9 106.7l0.9 0.7M1583.8 164.1l-0.2 1.5M1290.8 144.6l-1.1 1.0M1301.5 161.4l-0.7 1.7M1525.2 245.1l-2.0 1.6M1480.9 190.6l0.5 0.9M1549.5 76.9l-0.7 0.5M1362.0 143.8l-1.9 0.1M1277.9 229.2l2.0 1.7M1524.0 203.8l-0.3 0.5M1434.3 243.0l0.6 0.4M1285.3 92.8l-1.0 1.5M1565.2 82.9l-1.3 0.9M1299.7 112.2l-0.4 0.7M1296.7 282.5l1.0 1.0M1332.6 294.5l-1.4 0.6M1522.8 277.1l-1.0 0.7M1578.3 86.2l-1.3 2.0M1418.8 272.4l-1.6 1.5M1496.7 273.9l0.4 0.6M1566.6 190.8l0.8 0.4M1464.5 305.1l2.4 0.0M1422.0 241.1l0.8 0.2M1357.9 250.1l-1.8 1.7M1490.4 106.5l-0.2 1.2M1317.4 272.6l2.2 0.0M1517.8 270.0l-0.2 0.7M1475.2 96.9l0.2 2.3M1316.5 92.6l1.4 0.1M1474.5 188.3l0.3 1.1M1566.6 75.7l1.4 0.3M1416.9 131.5l-1.0 0.8M1597.7 143.1l1.3 1.6M1420.4 209.9l0.6 0.4M1547.9 146.3l0.6 1.3M1602.8 125.2l-0.9 2.3M1292.2 305.5l0.6 0.3M1479.1 91.0l1.5 1.3M1307.2 240.5l-0.4 1.2M1326.0 155.3l-1.7 1.7M1540.9 160.0l-0.9 0.9M1405.6 275.3l1.0 0.1M1428.9 186.2l-0.6 1.5M1509.7 261.5l1.2 0.8M1600.1 265.2l-1.2 0.0M1598.7 152.8l-0.4 0.8M1565.2 90.0l-0.1 0.3M1440.7 239.8l-0.4 0.9M1510.5 290.7l0.6 1.7M1303.3 206.3l1.7 1.0M1434.5 127.9l1.2 0.2M1470.4 215.3l-2.3 0.5M1381.2 196.8l0.7 1.2M1351.3 183.6l0.4 2.4M1434.3 103.0l0.9 0.6M1516.1 86.0l0.5 2.1M1481.3 197.0l-1.5 2.1M1458.4 276.4l-0.4 1.0M1481.7 265.1l2.1 1.2M1340.7 247.7l1.1 0.1M1270.3 98.8l-0.3 1.5M1381.1 184.5l0.1 0.4M1383.5 109.8l0.1 0.5M1435.5 77.5l0.6 1.4M1572.5 202.1l1.0 0.5M1373.1 266.4l0.3 2.4M1528.7 91.7l-0.5 0.5M1606.3 254.7l-1.9 0.7M1381.8 243.4l1.4 1.1M1281.5 136.1l0.2 1.1M1394.9 152.2l0.7 1.9M1378.0 140.7l0.3 0.0M1547.3 253.3l-1.3 0.9M1333.5 300.8l-0.9 0.8M1455.3 284.8l0.4 1.4M1576.4 99.7l-1.9 2.0M1375.3 258.5l0.6 1.1M1269.4 77.5l0.6 1.5M1563.9 139.6l2.7 0.6M1564.3 236.0l1.2 1.3M1380.8 79.2l0.3 0.5M1266.0 104.2l-1.2 2.1M1562.3 193.5l-0.4 1.7M1437.0 273.1l-1.7 1.1M1533.2 77.5l1.6 2.1M1322.2 122.0l-1.9 0.0M1575.8 107.1l-1.3 0.9M1304.5 189.1l1.0 2.4M1536.8 253.0l2.3 0.7M1439.2 250.3l1.9 0.0M1419.3 284.0l0.6 1.6M1375.5 120.3l0.3 0.4M1326.8 206.0l-2.6 0.1M1277.8 306.1l1.5 2.3M1461.5 182.6l1.4 2.4M1264.2 86.2l-2.7 0.4M1548.4 292.3l-0.4 1.4M1606.1 121.1l-0.5 0.6M1263.1 93.1l0.1 1.2M1478.0 259.2l-0.8 0.8M1300.4 300.7l0.7 2.4M1514.2 247.0l-0.1 0.3M1388.7 276.2l0.3 2.1M1474.3 298.7l-0.9 1.2M1603.7 173.0l0.7 0.8M1581.5 229.6l-0.4 1.2M1426.6 141.5l0.9 1.3M1271.5 188.2l1.1 0.9M1422.8 202.6l-1.4 1.8M1364.3 98.7l1.8 0.8M1307.5 297.4l0.9 2.4M1328.6 86.1l-0.0 0.4M1348.5 277.0l-0.8 1.0M1415.1 138.2l-0.4 0.6M1310.9 149.2l2.6 0.3M1291.4 185.6l-0.1 1.7M1516.0 226.6l0.4 0.3M1585.7 100.0l0.2 1.2M1435.1 86.7l1.3 2.2M1604.3 232.7l0.5 0.7M1598.1 258.1l-1.6 2.2M1365.5 105.6l1.4 1.1M1534.8 177.1l-0.7 2.6M1367.5 177.9l0.4 0.3M1346.2 293.6l0.6 1.5M1394.6 181.0l1.1 2.2M1604.8 279.9l-0.5 0.2M1291.6 255.4l1.5 0.9M1535.7 200.0l0.6 1.1M1327.2 174.9l-0.8 0.1M1351.0 93.7l1.3 1.5M1301.3 269.1l-2.2 0.7M1324.8 211.3l0.8 1.8M1440.8 287.2l-0.3 0.2M1315.8 121.1l-2.3 1.2M1269.8 230.8l1.7 0.7M1279.7 260.3l-2.6 0.6M1491.2 154.4l0.1 0.4M1388.0 80.5l0.3 0.1M1292.3 298.3l-0.6 1.5M1464.9 126.4l0.8 0.3M1362.9 115.9l1.5 1.6M1517.2 182.2l-1.2 0.4M1475.7 205.1l-0.2 0.4M1496.4 149.1l2.3 0.7M1599.0 166.2l2.0 1.7M1272.8 290.4l0.8 2.6M1530.6 219.7l1.9 1.2M1303.1 227.3l0.2 0.6M1486.9 95.8l1.0 1.7M1363.3 226.6l-0.1 1.5M1575.4 231.5l0.4 0.4M1434.6 95.7l-1.8 1.0M1269.9 121.7l1.6 2.0M1397.9 110.2l-0.1 0.3M1344.7 286.0l0.9 0.1M1356.3 277.4l1.4 1.9M1376.7 226.2l0.5 0.3M1411.2 197.1l0.3 1.2M1278.4 118.4l-0.4 0.3M1496.1 173.2l0.5 0.8M1374.6 210.1l2.6 1.0M1460.1 137.8l-0.9 0.0M1309.1 194.0l0.4 1.8M1259.0 246.0l0.6 1.1M1587.8 212.3l-1.2 0.3M1593.8 124.9l0.1 1.3M1318.2 98.2l2.3 1.3M1515.3 136.4l-1.2 0.6M1527.6 159.8l-1.3 0.3M1284.0 101.7l-1.2 0.9M1257.1 293.5l2.3 0.2M1387.8 213.7l-0.5 1.8M1586.3 88.3l-0.4 0.4M1271.6 168.0l-0.7 0.9M1532.4 205.0l1.6 2.1M1520.5 209.0l-0.1 1.6M1298.8 183.6l1.0 0.3M1497.1 295.3l2.5 0.1M1605.3 112.7l0.8 1.3M1359.3 133.2l1.0 0.1M1287.8 291.9l0.1 0.8M1379.6 93.5l-0.8 0.0M1470.2 148.1l-1.2 1.6M1561.3 187.1l-1.6 0.6M1517.1 234.3l0.4 0.4M1526.9 216.4l-0.9 0.0M1364.7 155.1l-1.0 2.1M1322.0 286.7l-2.0 0.5M1296.8 141.4l0.9 1.4M1449.0 245.5l-1.4 2.2M1355.0 215.9l0.5 0.2M1486.9 121.6l-0.2 1.0M1412.3 269.6l-0.8 1.8M1267.5 112.8l-1.5 1.6M1433.3 234.2l-0.3 0.7M1481.2 101.1l2.5 0.5M1289.3 169.3l0.9 1.7M1292.0 197.5l2.0 1.2M1264.9 221.0l2.1 1.3M1507.6 213.1l-0.8 2.0M1289.4 106.5l0.5 1.0M1412.7 88.0l0.9 0.6M1338.9 280.3l0.8 0.2M1602.3 81.8l0.7 0.3M1496.9 109.3l0.1 0.7M1337.9 304.3l2.2 1.2M1258.0 89.1l-0.7 1.9M1409.4 142.9l-1.9 0.9M1390.5 284.2l0.3 0.9M1458.1 268.3l-0.5 0.3M1406.9 214.6l1.7 0.2M1451.6 120.3l0.1 1.1M1534.1 256.3l-1.4 1.7M1570.6 296.3l1.2 0.1M1357.8 100.7l-0.3 0.2M1555.5 169.1l1.4 1.4M1593.9 78.7l0.1 0.8M1537.8 287.8l2.6 0.4M1546.0 216.1l-0.4 2.2M1444.0 255.2l-2.2 1.7M1566.1 243.7l-0.6 0.7M1395.0 128.5l0.2 2.8M1561.8 100.2l-0.3 0.4M1517.2 92.9l-1.2 1.5M1377.3 291.5l-0.9 0.8M1301.1 277.7l2.0 1.8M1591.4 223.7l1.5 0.4M1353.3 113.2l1.6 0.9M1404.6 122.8l-0.2 2.2M1351.8 240.8l-0.2 2.0M1289.7 217.0l-0.5 2.5M1491.1 91.4l-0.1 0.3M1376.5 147.2l-0.9 1.5M1531.7 284.1l1.1 0.1M1586.9 150.2l-0.4 2.6M1427.8 172.9l0.1 0.5M1463.6 94.7l2.0 0.9M1294.0 98.8l0.1 1.6M1346.4 192.7l-0.6 0.4M1298.9 149.5l1.2 0.6M1600.9 160.8l0.0 0.3M1364.8 305.4l-2.1 1.5M1572.6 277.7l-0.6 0.4M1481.8 170.0l2.4 0.6M1291.5 87.5l-1.6 2.1M1449.4 279.5l2.5 1.2M1455.1 113.9l0.5 0.4M1457.4 247.3l0.6 1.8M1316.7 221.4l-0.4 1.9M1475.4 110.2l-0.5 2.7M1283.0 123.5l-1.4 0.5M1345.6 250.7l1.5 2.0M1318.0 152.2l-0.3 0.5M1572.3 258.7l-0.2 0.9M1271.9 239.1l0.0 1.6M1385.9 103.1l0.4 0.2M1323.3 90.4l0.3 0.5M1259.0 103.6l-0.3 0.2M1332.6 193.5l-2.4 1.4M1258.5 189.1l-1.1 2.3M1583.0 156.3l1.4 0.9M1360.5 127.2l-2.5 0.1M1545.2 132.8l0.1 0.7M1286.3 223.6l-1.8 0.3M1536.9 269.7l0.6 1.3M1332.0 166.3l-1.9 0.2M1418.4 263.1l-1.0 0.3M1297.9 78.0l-1.4 0.8M1448.0 105.3l-0.9 1.3M1558.1 273.9l-0.6 0.5M1600.3 299.7l0.7 0.2M1257.0 220.3l1.8 2.0M1583.9 282.5l0.3 1.9M1444.0 191.6l1.4 0.5M1287.8 210.2l2.2 0.4M1412.0 150.5l-2.7 0.5M1485.5 305.5l0.7 0.0M1420.2 81.7l-1.3 2.1M1559.0 77.5l0.3 0.3M1353.5 140.5l-1.6 0.7M1544.0 114.2l0.5 0.0M1398.1 227.0l-1.0 1.3M1446.5 123.1l-1.0 0.5M1331.5 200.9l-2.5 0.8M1538.0 217.8l1.8 1.8M1454.7 129.7l0.4 0.6M1385.3 86.2l1.3 1.2M1518.6 289.0l-0.9 1.2M1567.6 181.7l-0.8 1.3M1448.9 175.3l1.3 0.5M1441.4 207.4l-0.5 2.3M1331.9 134.3l0.1 0.5M1325.9 305.9l0.1 2.1M1443.3 269.1l0.2 1.8M1535.7 193.6l1.0 0.4M1566.3 265.6l1.9 0.1M1294.0 161.6l1.2 1.7M1415.3 246.4l1.6 1.4M1527.1 73.9l-0.8 1.0M1257.6 130.2l-0.0 2.0M1450.5 146.9l1.8 0.5M1589.3 261.1l-1.6 1.0M1494.2 121.4l0.5 0.2M1462.2 79.8l0.6 0.7M1470.2 261.2l0.1 1.1M1428.4 212.1l0.2 0.5M1486.7 218.1l-1.4 0.1M1475.0 104.2l-1.2 0.0M1551.4 108.0l1.0 2.5M1304.7 105.0l1.2 0.7M1452.0 295.1l-1.1 0.6M1499.9 83.2l-0.3 1.5M1515.8 110.5l-0.4 0.3M1381.9 210.7l0.3 0.9M1278.1 276.8l-0.5 0.6M1279.4 111.4l-0.4 1.8M1370.4 86.9l-2.0 0.4M1573.9 193.5l1.4 0.2M1366.6 233.5l-0.1 0.4M1530.1 274.6l1.6 1.0M1307.2 254.4l0.6 2.7M1434.8 145.9l-0.5 0.7M1318.5 305.8l1.4 0.7M1277.8 145.7l0.5 1.3M1588.4 140.3l0.4 0.5M1268.8 249.2l-0.6 2.0M1552.2 116.4l0.6 0.3M1257.6 149.4l-0.5 0.1M1507.7 117.1l-0.7 0.7M1333.6 306.5l0.1 2.5M1461.3 285.7l0.5 2.3M1372.1 93.9l0.7 0.9M1514.5 173.9l0.5 1.4M1296.6 225.4l1.8 0.6M1262.6 283.1l0.4 0.1M1400.8 158.8l0.3 1.2M1314.9 82.4l-1.5 1.0M1499.7 267.9l-1.9 1.2" fill="none" stroke="#848dbd" stroke-width="5.3" stroke-linecap="round" stroke-linejoin="round" opacity="1.0" />
<path d="M1587.4 300.6l-2.2 1.2M1539.5 134.3l-1.6 0.5M1363.9 258.4l-0.9 0.9M1366.7 142.0l0.5 0.8M1450.3 221.0l-0.9 1.5M1388.7 185.8l-1.8 0.5M1453.2 211.9l-0.7 2.2M1548.2 120.9l1.6 1.5M1580.7 182.9l-0.6 0.4M1452.3 81.8l-2.2 0.2M1451.3 300.7l1.9 1.9M1542.8 224.1l1.2 0.2M1586.8 119.2l-1.4 1.8M1407.7 222.0l-0.6 0.1M1468.0 172.5l0.8 0.4M1396.0 164.0l-0.6 1.6M1388.9 112.6l-0.4 1.4M1564.6 217.7l-0.7 1.1M1585.6 307.8l-0.4 0.5M1420.1 225.5l-1.2 2.0M1372.0 229.8l-0.7 0.3M1385.0 267.5l0.2 1.1M1543.4 185.2l-0.9 2.3M1533.2 188.6l-1.3 0.7M1510.1 229.1l1.6 1.8M1466.2 228.3l-2.0 0.9M1257.0 73.6l1.6 1.5M1559.6 151.4l-1.5 0.2M1298.2 92.9l0.7 2.5M1385.9 232.9l-2.5 1.0M1476.4 127.5l-1.7 1.9M1586.1 191.8l2.3 1.2M1478.8 210.9l-1.0 1.7M1282.4 153.1l-0.7 1.9M1551.9 204.5l0.6 1.2M1403.1 91.6l-0.6 1.6M1573.3 215.7l-1.1 1.5M1504.0 259.5l-1.2 0.4M1578.0 293.8l0.9 0.4M1379.9 270.4l-0.4 1.4M1608.0 91.3l-2.6 0.8M1466.9 180.1l2.2 0.8M1311.6 249.9l1.0 1.5M1375.0 282.1l0.6 0.9M1482.4 139.0l0.6 0.7M1543.6 274.9l-0.0 0.6M1332.1 228.7l-0.3 0.7M1429.1 245.5l-1.5 1.4M1312.6 137.7l1.2 2.1M1431.2 277.4l-2.0 0.3M1319.6 78.4l-1.8 0.5M1534.4 246.0l-0.2 0.4M1592.6 146.3l-0.2 0.5M1538.0 172.4l-0.4 0.7M1516.4 263.5l-0.1 0.6M1388.1 145.2l-0.4 2.5M1494.7 222.7l0.7 1.3M1453.8 134.8l-1.1 2.3M1537.5 238.9l0.1 0.3M1483.7 87.6l1.7 0.5M1563.8 111.4l-1.9 0.3M1578.1 94.0l-1.6 1.2M1387.0 151.9l1.7 1.2M1337.0 159.2l-0.8 0.2M1452.5 96.0l-0.6 1.7M1567.6 105.2l-0.1 0.5M1449.7 74.5l-2.0 1.7M1492.9 85.0l-0.5 0.0M1430.1 178.4l1.6 0.2M1288.1 158.7l0.5 0.9M1360.0 77.2l1.7 0.3M1581.7 274.5l-1.8 1.1M1474.2 138.1l1.8 1.7M1324.2 73.1l-0.6 2.7M1346.9 265.7l0.6 2.3M1278.8 163.1l-0.8 1.5M1261.9 254.1l1.4 0.4M1324.3 279.8l0.0 0.5M1366.7 251.9l-2.3 0.3M1590.6 94.5l-1.0 0.1M1498.8 210.8l0.4 0.2M1486.5 205.2l-0.3 0.2M1565.5 277.7l0.7 0.9M1603.8 102.1l1.7 0.2M1367.0 91.6l-2.0 0.7M1359.1 244.3l-0.5 0.7M1276.5 243.5l0.0 0.9M1295.3 236.5l-1.8 1.7M1516.2 160.0l-2.0 0.0M1328.7 118.8l-0.7 1.1M1278.5 188.1l0.6 1.6M1264.1 275.2l-2.3 0.1M1473.9 265.9l0.6 0.5M1367.6 219.8l0.2 0.5M1565.0 163.9l0.1 0.3M1581.6 262.2l-0.6 2.4M1481.2 292.5l0.5 2.3M1540.6 91.8l-0.6 0.2M1435.3 173.7l0.9 1.1M1461.5 167.4l0.5 0.3M1484.6 107.4l-1.5 0.8M1294.8 176.1l-1.7 0.1M1536.5 156.3l-2.1 1.2M1416.7 166.8l-0.9 0.6M1421.4 306.3l-0.5 0.3M1447.8 158.5l0.8 1.2M1397.7 233.5l0.9 1.8M1455.6 219.4l0.1 1.6M1259.3 116.4l-0.1 0.3M1510.8 236.3l0.0 0.4M1370.2 116.8l-0.3 0.4M1440.3 181.9l-0.5 0.4M1463.8 239.7l-0.1 2.1M1526.1 283.6l-1.7 2.0M1498.7 91.5l0.9 2.3M1541.9 210.2l1.5 0.7M1466.3 294.0l-1.1 0.1M1333.9 170.7l1.8 1.3M1528.2 198.0l2.3 0.5M1544.3 245.7l-1.7 0.5M1336.7 113.8l-0.8 2.5M1520.1 196.8l0.2 2.2M1448.8 199.0l1.6 0.2M1398.0 276.5l-0.2 1.2M1491.9 215.6l-0.1 0.4M1558.8 144.7l-1.1 0.3M1561.9 171.8l0.8 0.5M1378.7 308.0l-1.8 0.2M1430.2 289.4l1.9 1.1M1463.9 201.1l-0.0 1.5M1584.8 235.4l-1.9 1.0M1320.9 137.3l-1.9 1.1M1340.1 90.0l-0.6 0.1M1535.1 165.5l1.2 0.9M1442.6 73.6l-1.9 1.5M1356.0 178.4l-0.2 2.1M1480.2 274.2l-0.5 0.4M1580.6 214.6l-0.3 0.1M1604.3 136.4l0.3 0.2M1527.0 180.2l1.0 0.7M1403.9 258.4l-1.3 1.4M1323.2 146.7l0.4 2.3M1480.3 217.8l-1.9 0.5M1375.3 126.6l2.1 1.4M1519.2 251.7l-2.3 1.0M1284.1 203.5l-2.0 0.9M1509.0 243.3l-0.1 1.7M1329.5 142.0l0.1 2.3M1549.0 271.8l1.9 1.7M1500.9 196.5l-1.2 1.4M1395.8 85.2l0.4 2.0M1473.5 169.9l1.8 0.6M1557.8 281.8l0.6 0.3M1383.0 258.1l2.4 0.5M1392.7 122.6l2.0 0.6M1309.0 229.7l0.1 0.7M1277.4 104.7l0.7 2.6M1304.5 121.6l1.0 0.9M1473.7 307.8l-2.4 0.1M1339.6 176.6l0.1 1.0M1418.9 121.3l0.0 1.6M1287.7 270.5l-2.6 0.7M1432.9 153.5l0.5 1.4M1359.8 219.9l1.5 1.8M1574.6 119.4l0.4 0.1M1551.4 187.7l-1.3 1.3M1295.2 190.3l2.6 0.5M1438.3 137.9l-1.3 0.8M1451.1 227.7l-2.5 0.2M1459.5 189.9l1.4 2.0M1283.3 285.9l-0.4 0.3M1590.9 252.8l-2.5 0.5M1589.8 108.8l1.1 0.3M1370.7 307.2l-1.2 0.5M1318.2 129.2l-0.8 0.4M1261.7 110.1l-1.0 0.0M1533.2 214.0l2.2 0.6M1305.8 131.1l-0.3 0.7M1355.0 192.6l-1.2 1.3M1430.3 295.2l-1.5 1.9M1384.8 282.5l-1.6 0.2M1335.2 223.8l1.4 0.4M1562.6 286.1l-0.7 2.0M1529.1 115.3l-1.0 1.6M1263.7 151.2l0.4 0.7M1512.8 148.6l-0.3 0.3M1330.2 272.9l-0.1 0.5M1551.9 194.7l-0.2 1.8M1444.2 213.6l1.0 0.9M1553.1 136.3l0.5 1.8M1584.9 112.2l-1.0 1.3M1470.5 286.8l0.5 1.0M1580.8 103.7l-0.0 1.4M1541.4 259.0l-1.7 0.2M1324.7 183.2l-2.1 0.8M1334.0 85.6l1.3 0.3M1476.3 162.8l-0.9 1.5M1264.1 292.4l2.2 0.6M1266.5 194.3l-2.6 1.0M1382.9 173.5l-0.4 2.7M1434.2 167.9l-2.4 1.1M1428.0 108.7l-0.3 0.5M1534.3 141.6l0.3 0.8M1319.8 250.5l-1.3 2.3M1442.1 176.1l1.3 0.4M1592.4 186.8l0.5 1.0M1290.8 285.6l-1.4 1.8M1453.3 181.4l-2.2 0.4M1258.8 202.2l-2.0 0.2M1502.7 277.4l-0.2 0.4M1350.6 99.7l1.5 1.7M1286.5 298.9l-0.9 0.1M1373.8 79.7l-2.0 1.2M1340.2 189.1l1.7 1.1M1456.9 198.6l-0.8 0.4M1499.4 136.3l0.3 0.8M1603.0 75.3l0.8 1.0M1425.7 153.8l-0.7 0.9M1489.5 163.4l-2.6 0.6M1572.8 303.0l-1.7 1.1M1489.9 297.2l1.0 0.9M1352.2 272.4l-0.4 0.4M1571.9 138.7l2.1 1.4M1451.7 153.1l0.4 0.9M1422.9 147.9l2.1 0.8M1388.6 96.6l0.1 1.0M1347.9 167.2l-1.6 1.7M1596.0 101.0l-0.3 0.2M1571.8 289.8l-0.2 1.1M1303.7 234.3l0.9 1.5M1551.0 129.5l-0.4 0.6M1584.0 93.0l-0.8 2.7M1261.2 144.3l0.3 0.5M1403.8 178.8l-2.2 0.9M1413.4 184.6l0.4 0.2M1409.0 81.9l0.4 2.1M1435.5 114.9l0.0 1.6M1348.1 85.8l-0.0 0.6M1587.2 171.6l1.1 1.8M1263.9 120.7l-0.7 0.8M1344.0 149.4l1.1 1.5M1417.4 233.8l-1.8 1.3M1301.6 243.7l-0.7 0.9M1577.2 283.4l0.7 1.7M1372.4 236.0l-0.7 2.6M1277.8 295.7l1.5 1.8M1607.1 302.6l-0.9 0.9M1362.7 122.6l1.6 0.8M1333.8 121.4l0.3 0.5M1407.1 193.7l-0.9 0.3M1417.2 290.9l-0.5 0.4M1483.3 157.8l-1.0 1.0M1578.8 122.5l1.8 2.1M1429.6 199.5l0.7 0.7M1462.2 86.3l-0.3 0.7M1365.9 193.5l-0.4 1.9M1354.3 126.9l-2.3 1.0M1342.9 139.2l0.9 0.3M1578.7 150.4l-0.3 1.2M1404.9 107.7l-1.2 1.3M1539.7 124.2l-1.4 0.8M1411.9 281.8l-0.0 2.0M1271.6 196.9l-1.2 0.6M1423.6 115.0l-0.3 1.7M1287.9 232.0l-0.6 0.8M1491.2 126.8l0.4 2.6M1457.1 120.5l1.1 1.3M1408.7 176.5l1.2 1.9M1402.2 168.6l0.0 1.4M1376.7 276.3l-0.7 0.8M1604.7 144.7l0.4 1.0M1365.1 183.0l-1.7 0.9M1547.5 198.4l-2.1 0.5M1434.0 303.3l-0.7 1.5M1410.4 124.2l0.4 1.0M1391.6 197.4l0.8 0.4M1410.5 101.3l-0.9 0.9M1341.4 225.7l0.7 0.3M1393.3 223.9l-2.0 1.3M1407.6 114.2l-0.0 1.5M1265.4 302.7l0.9 0.4M1607.8 211.3l-2.2 1.6M1461.1 216.4l-0.2 0.4M1394.0 307.6l-0.9 0.9M1397.5 94.7l-0.4 2.5M1358.9 197.1l0.1 0.7M1338.5 151.3l1.0 2.3M1603.5 290.3l-0.0 1.3M1430.8 206.4l-0.5 0.8M1348.5 260.5l1.6 0.9M1503.9 141.4l0.0 0.9M1360.6 188.0l-2.6 0.7M1520.6 175.7l-0.2 2.3M1366.7 297.3l-1.8 1.7M1276.6 98.2l1.3 0.3M1454.3 188.6l-0.4 0.8M1491.6 112.0l0.6 2.0M1428.9 76.2l-2.3 0.1M1457.4 230.8l-0.0 2.3M1526.8 150.2l1.4 1.7M1313.0 157.6l-0.7 2.6M1552.8 231.9l0.2 0.3M1574.7 265.3l0.5 0.4M1559.4 207.7l-0.5 0.8M1485.9 230.4l1.4 0.4M1344.6 119.7l0.8 1.3M1604.6 260.4l-1.2 1.4M1354.1 158.8l-1.3 0.2M1529.6 171.8l1.0 1.5M1426.5 234.8l1.2 1.5M1565.1 148.5l0.0 1.4M1282.7 81.4l2.7 0.4M1319.3 211.0l-0.3 0.1M1390.9 298.7l0.9 0.1M1514.1 167.6l2.1 1.5M1375.9 165.0l-1.3 1.7M1520.5 191.4l-1.0 0.9M1349.0 145.4l0.6 0.7M1338.2 132.7l-1.0 1.2M1502.4 307.3l0.1 0.4M1323.1 165.2l-1.6 1.9M1332.7 234.7l0.6 1.4M1442.9 95.0l-0.1 1.9M1405.1 294.5l-2.6 0.4M1593.7 305.7l-1.5 1.5M1352.1 254.4l0.2 0.7M1573.5 147.2l-1.3 1.6M1337.1 196.0l-0.9 2.6M1597.3 238.2l0.6 1.4M1564.1 256.2l1.3 0.3M1435.6 258.3l-0.4 0.6M1469.2 110.2l0.1 1.4M1487.6 180.9l2.6 0.4M1386.2 133.8l1.0 0.5M1540.4 78.8l0.8 1.6M1415.2 204.7l0.6 0.8M1556.6 291.8l0.4 2.2M1458.5 294.1l0.6 1.0M1486.7 242.2l-0.1 0.6M1542.3 102.2l-0.4 1.5M1441.8 302.4l-0.7 2.5M1305.5 144.4l-0.3 1.8M1403.0 236.9l2.5 0.4M1503.7 78.3l1.7 0.9M1337.2 139.1l-0.3 0.5M1373.2 108.7l1.2 1.6M1581.5 242.5l-0.5 0.5M1421.1 106.9l-0.3 1.4M1359.1 261.7l-1.2 2.1M1420.3 217.5l2.2 1.1M1475.3 180.3l0.5 0.9M1488.5 288.4l-0.9 1.7M1332.0 209.8l-0.5 1.5M1347.2 74.3l1.0 1.7M1467.6 236.0l1.2 1.5M1598.4 199.0l1.2 1.4M1502.1 165.3l2.2 1.5M1260.0 212.7l-0.3 0.6M1319.4 261.6l0.8 0.7M1597.6 92.8l0.1 1.2M1364.4 212.9l-1.0 0.1M1573.2 90.2l-1.3 1.4M1516.7 142.9l2.0 0.1M1393.4 266.3l-1.2 0.4M1499.0 250.3l-1.4 2.3M1548.1 261.5l-0.5 0.3M1490.5 191.7l1.8 0.5M1428.0 125.7l0.7 0.4M1514.2 103.9l-2.0 1.7M1340.1 271.7l-2.4 1.0M1448.5 273.9l0.6 1.0M1353.3 78.2l0.1 0.5M1268.7 210.8l0.5 1.4M1398.9 243.0l0.6 0.5M1514.4 129.4l-0.7 0.9M1374.1 299.0l-1.0 1.3M1329.0 241.7l-0.1 2.7M1390.8 157.7l1.1 1.7M1555.8 103.3l-0.3 1.3M1524.7 258.8l-0.7 1.7M1587.1 228.7l0.9 2.6M1582.1 253.7l-0.5 0.0M1421.5 194.5l-1.8 0.4M1467.4 100.1l1.9 1.9M1385.4 158.9l-0.6 0.4M1515.0 115.4l-0.7 2.3M1546.9 84.9l-1.5 0.4M1301.7 256.2l-0.6 1.9M1306.7 165.5l0.3 1.2M1386.1 227.2l0.8 1.2M1471.1 275.6l0.6 1.2M1548.0 171.6l0.5 2.3M1276.5 89.9l1.1 1.7M1429.2 82.0l-2.5 0.7M1345.4 158.4l-2.4 0.7M1521.2 118.1l-1.0 0.9M1323.5 294.4l1.2 1.2M1328.3 188.3l-1.8 1.7M1460.7 307.3l-1.1 1.1M1470.5 157.7l0.3 0.2M1534.0 128.6l-0.2 1.3M1460.5 110.5l1.7 0.9M1368.4 289.7l-1.9 0.6M1295.0 292.0l-0.3 1.2M1494.3 185.6l-0.8 1.1M1278.0 74.0l0.2 1.6M1557.4 304.7l-0.9 0.6M1491.0 247.5l0.4 0.3M1344.4 96.6l-1.7 2.2M1582.3 145.9l2.1 0.8M1561.0 132.7l1.2 1.4M1554.6 97.6l0.3 0.4M1510.8 141.2l1.4 0.9M1271.3 142.3l1.5 1.2" fill="none" stroke="#7079b2" stroke-width="4.9" stroke-linecap="round" stroke-linejoin="round" opacity="1.0" />
<path d="M1425.1 290.8l-1.0 1.4M1571.5 166.5l-1.0 0.8M1408.4 245.9l0.3 0.2M1308.4 84.8l-0.5 0.8M1564.2 125.0l0.5 0.4M1509.5 270.0l1.6 1.2M1292.0 127.3l0.7 0.8M1590.1 280.5l-1.2 0.1M1399.2 78.5l1.0 0.4M1493.8 239.0l0.9 1.8M1358.6 204.8l-0.4 1.4M1444.4 128.6l-0.8 1.9M1279.8 180.6l-1.3 1.7M1552.0 238.9l-1.8 1.6M1457.8 225.4l1.0 0.7M1556.6 127.9l0.5 1.3M1430.6 271.0l-0.2 1.1M1265.0 164.3l2.2 1.0M1503.6 100.0l0.3 1.0M1320.2 173.1l-0.5 0.7M1347.4 217.6l1.3 0.2M1271.4 216.8l-0.2 2.4M1300.5 88.4l1.8 1.0M1277.5 211.3l0.2 1.9M1378.4 87.0l-0.5 0.6M1442.4 102.5l-0.9 1.4M1498.5 98.1l-1.9 1.5M1334.7 103.8l0.3 0.2M1365.3 163.0l2.0 0.6M1453.6 242.3l1.0 2.3M1322.1 109.4l-1.5 1.5M1538.5 277.3l-1.1 1.4M1384.3 302.2l-1.9 0.9M1365.3 264.2l-0.7 1.3M1290.9 278.3l0.8 1.2M1382.9 121.0l-2.1 1.5M1595.7 193.0l0.3 1.1M1392.6 291.0l-1.6 1.2M1522.0 137.0l-1.5 1.9M1396.8 146.6l-1.1 1.4M1604.8 270.2l0.3 0.0M1415.5 145.6l-0.0 1.0M1345.7 110.6l1.6 1.7M1419.6 176.9l-0.1 0.5M1412.9 229.8l-1.5 1.2M1442.7 111.2l-0.6 0.6M1419.6 151.4l-2.6 1.0M1422.5 297.7l-2.6 0.0M1415.2 159.3l-2.2 0.9M1423.1 135.7l1.7 0.0M1557.8 175.7l0.1 0.7M1499.5 118.3l0.8 0.5M1313.6 259.9l0.1 0.7M1316.2 199.3l0.3 0.2M1381.9 218.2l-0.5 1.9M1502.0 127.5l1.4 2.1M1558.1 199.1l1.4 0.6M1527.9 134.1l0.8 1.7M1405.1 153.0l-1.3 2.0M1400.4 248.8l-0.9 2.4M1429.6 260.6l0.6 2.2M1358.2 90.4l0.4 0.2M1398.0 140.8l0.1 0.3M1559.6 242.1l-0.5 1.2M1516.9 75.1l-0.0 0.4M1605.5 151.6l-0.2 1.0M1447.6 206.7l-0.1 0.3M1361.3 172.9l0.6 1.1M1406.0 159.8l1.7 1.4M1342.3 126.6l1.3 1.1M1339.1 295.6l-1.0 1.6M1604.9 222.1l0.5 2.5M1468.5 80.5l0.9 0.2M1305.5 137.2l0.1 0.8M1445.9 170.8l-0.4 0.2M1498.7 203.0l-0.2 0.7M1507.2 136.0l0.4 1.9M1433.2 250.9l1.9 1.3M1342.5 80.7l-1.1 0.9M1504.6 219.6l-0.2 0.5M1441.5 159.3l-1.3 0.0M1559.1 88.7l-0.7 0.2M1529.8 263.8l-1.0 1.9M1481.5 237.9l0.8 0.7M1339.9 238.0l1.7 1.9M1441.6 201.9l0.5 0.7M1392.5 206.6l-0.2 1.6M1472.3 223.3l-0.5 0.5M1503.6 225.0l1.6 2.0M1478.0 280.6l0.3 0.6M1477.5 249.3l0.9 0.1M1551.1 210.6l-0.6 0.8M1484.9 223.7l-1.2 2.3M1315.2 216.1l-0.1 0.6M1403.7 85.7l-1.3 0.1M1490.7 133.0l-0.7 2.2M1338.3 289.5l0.1 1.8M1447.1 307.2l-1.2 0.6M1470.0 242.4l2.2 0.4M1594.0 296.4l-1.9 0.0M1279.1 270.6l0.3 0.7M1287.1 178.0l-2.0 1.7M1331.1 78.6l0.5 0.1M1341.7 214.3l1.2 1.1M1398.2 283.3l2.0 1.2M1571.5 129.3l-1.2 2.2M1516.1 297.6l-0.4 0.6M1475.6 238.2l-0.7 0.1M1298.8 106.8l-1.5 0.1M1283.5 143.7l0.4 1.4M1404.8 99.3l-1.9 0.2M1425.0 257.3l-0.0 0.8M1533.7 88.3l1.8 0.0M1415.7 254.6l-0.9 0.3M1535.0 302.0l0.0 0.7M1519.3 80.8l0.5 0.5M1346.5 303.6l0.2 1.5M1555.8 224.0l0.3 0.5M1271.7 269.9l1.9 0.4M1509.0 278.6l-0.6 0.1M1547.2 279.6l0.3 0.7M1571.7 271.1l0.1 1.1M1502.1 290.1l-0.6 0.8M1361.6 287.3l0.2 1.0M1300.2 197.0l0.3 0.8M1547.5 300.8l0.7 0.1M1422.7 279.8l0.4 0.3M1591.3 157.9l-0.5 2.2M1569.3 284.6l-1.1 0.7M1556.3 262.6l-1.2 0.1M1392.3 233.9l-2.0 0.7M1359.1 270.0l-0.3 1.8M1581.1 200.3l0.9 1.2M1551.6 93.2l-2.3 0.9M1313.1 267.3l-0.4 0.0M1485.1 131.3l-1.7 0.5M1561.9 297.4l-1.5 1.3M1412.9 191.2l1.3 1.1M1414.5 118.7l-1.5 0.1M1505.6 295.9l0.7 1.0M1428.4 89.5l-0.7 0.0M1304.7 180.4l0.3 0.3M1378.4 204.9l0.7 0.2M1310.7 281.8l0.5 0.1M1510.8 78.8l0.0 0.9M1441.6 151.8l-0.7 1.7M1398.4 118.8l1.4 1.8M1605.3 240.4l-0.6 1.6M1406.1 252.3l1.0 2.0M1354.0 200.2l-1.0 0.5M1510.1 183.5l-0.2 0.3M1403.3 199.5l-1.9 0.1M1310.3 108.9l-0.5 0.1M1584.5 267.2l1.3 1.8M1353.3 265.5l0.2 0.9M1561.3 158.6l-2.6 0.5M1469.3 134.3l0.6 0.4M1391.7 90.8l-0.9 0.7M1351.5 132.9l0.3 0.6M1393.2 104.9l-1.1 1.8M1459.3 208.3l-0.5 0.0M1510.9 92.3l-0.5 0.2M1482.0 112.8l-1.6 1.3M1417.8 92.0l1.9 1.8M1390.7 256.8l-0.2 0.4M1287.1 193.6l2.4 0.7M1259.0 304.0l-1.2 2.2M1368.2 269.7l-1.2 1.6M1572.0 245.4l0.1 2.4M1475.2 195.2l-1.7 1.7M1448.8 286.0l1.2 0.1M1371.1 133.0l0.1 0.8M1370.4 201.5l1.4 2.0M1280.1 197.7l0.5 1.5M1341.8 260.9l0.2 0.7M1438.6 165.0l1.0 0.0M1280.5 172.3l-1.0 0.1M1531.8 106.8l2.0 0.3M1335.5 145.9l-0.3 0.2M1328.9 106.1l-1.0 1.3M1322.7 115.1l1.2 1.6M1522.9 101.5l-1.0 0.5M1261.8 237.9l0.5 0.4M1495.5 165.9l-0.2 0.3M1565.2 270.7l0.5 2.4M1590.6 290.1l2.4 0.2M1364.2 281.0l-1.0 0.3M1595.5 86.7l0.5 2.1M1300.9 168.7l-0.2 1.2M1549.0 100.2l-0.2 2.8M1528.0 209.5l-1.9 0.0M1297.7 131.2l0.4 0.8M1269.1 259.5l-1.2 2.0M1271.8 86.4l0.4 1.9M1599.4 115.2l-1.0 1.1M1272.0 306.4l-0.4 0.3M1513.7 198.5l0.4 1.3M1357.5 167.6l0.3 0.8M1320.3 160.4l-2.7 0.1M1483.9 252.9l-0.6 1.3M1485.1 299.2l-1.8 1.1M1515.5 283.4l-1.1 2.2M1455.5 171.6l0.5 1.9M1397.7 214.3l2.2 0.2M1311.2 171.4l1.2 2.4M1404.2 287.7l-2.0 1.8M1284.4 255.9l-1.5 2.2M1460.5 176.2l-0.2 2.0M1373.7 251.4l0.7 0.8M1496.7 259.8l0.3 1.8M1380.1 190.7l1.1 1.0M1325.9 236.5l0.2 1.5M1258.8 266.7l-0.8 0.6" fill="none" stroke="#979fc6" stroke-width="5.6" stroke-linecap="round" stroke-linejoin="round" opacity="1.0" />
<path d="M1410.0 129.8l0.0 0.8M1475.2 198.6l-0.1 0.7M1469.4 137.8l-0.2 0.4M1345.6 258.3l0.5 0.4M1542.7 135.9l-0.1 0.9M1477.1 139.0l0.3 0.7M1345.8 294.4l-0.3 0.3M1328.1 186.9l0.4 0.5M1531.7 266.3l-0.7 0.4M1322.5 149.8l-0.3 0.0M1526.6 80.4l0.3 0.4M1365.4 250.4l0.1 0.4M1563.2 133.9l0.5 0.0M1287.7 80.6l0.8 0.0M1357.6 226.6l-0.3 0.1M1571.2 184.7l0.6 0.3M1390.6 179.0l0.4 0.1M1410.0 95.9l-0.9 0.5M1419.8 141.8l-0.3 0.9M1437.7 78.0l0.2 0.4M1508.2 74.7l0.3 0.5M1409.3 260.2l0.3 0.0M1395.9 295.3l-0.6 0.5M1285.1 199.9l-0.9 0.3M1446.2 148.1l0.3 0.7M1559.9 233.6l0.4 0.7M1427.8 296.6l0.2 0.6M1578.7 194.6l0.5 0.4M1587.6 104.5l-0.3 0.2M1366.1 80.4l0.3 0.3M1456.1 104.1l0.3 0.4M1458.7 96.4l0.3 0.4M1461.7 117.7l-0.2 0.5M1461.5 119.9l0.3 0.7M1563.3 147.6l0.3 0.1M1354.5 238.0l-0.4 0.7M1503.7 228.0l0.4 0.1M1487.0 236.6l-0.2 0.9M1471.2 190.5l-0.2 0.2M1449.2 192.6l0.0 1.0" fill="none" stroke="#2c3580" stroke-width="2.6" stroke-linecap="round" stroke-linejoin="round" opacity="0.9" />
<path d="M1274.3 228.3l-0.6 1.0M1277.4 234.0l0.6 0.7M1282.9 241.6l0.7 0.2M1287.3 254.6l-0.6 0.1M1290.8 262.0l-0.4 0.2M1270.6 126.8l-0.5 0.7M1276.4 128.6l-1.1 0.8M1443.4 116.4l-0.6 1.1M1434.5 110.9l0.7 1.1M1560.7 245.2l-0.5 0.4M1563.7 247.7l0.9 1.1M1331.1 285.1l0.4 0.1M1464.5 302.6l-0.3 0.1" fill="none" stroke="#3a2a1a" stroke-width="2.2" stroke-linecap="round" stroke-linejoin="round" opacity="0.85" />
</g>
<text x="1270.4" y="298.5" font-family='"Liberation Sans", sans-serif' font-size="5.2" fill="#333">50 μm</text>
<path d="M1264.4 300.6v2.2h32v-2.2" fill="none" stroke="#444" stroke-width="0.6" />
</g>
<g clip-path="url(#cC2)">
<rect x="1621.20" y="74.10" width="350.20" height="234.00" fill="#fffdf8" stroke="none" stroke-width="0" />
<g filter="url(#bl1)">
<path d="M1677.7 75.6C1676.4 78.0 1673.7 84.7 1670.4 90.1C1667.1 95.5 1661.1 102.1 1657.8 108.2C1654.5 114.2 1652.9 120.2 1650.5 126.2C1648.1 132.3 1646.3 138.9 1643.3 144.3C1640.3 149.7 1635.8 154.6 1632.5 158.8C1629.1 163.0 1624.9 167.8 1623.4 169.6" fill="none" stroke="#dfbe94" stroke-width="19.974692697035433" stroke-linecap="round" stroke-linejoin="round" opacity="0.51" />
<path d="M1677.7 75.6C1676.4 78.0 1673.7 84.7 1670.4 90.1C1667.1 95.5 1661.1 102.1 1657.8 108.2C1654.5 114.2 1652.9 120.2 1650.5 126.2C1648.1 132.3 1646.3 138.9 1643.3 144.3C1640.3 149.7 1635.8 154.6 1632.5 158.8C1629.1 163.0 1624.9 167.8 1623.4 169.6" fill="none" stroke="#dfbe94" stroke-width="9.987346348517717" stroke-linecap="round" stroke-linejoin="round" opacity="0.68" />
<path d="M1650.5 126.2C1652.9 129.2 1660.5 138.3 1665.0 144.3C1669.5 150.3 1674.0 157.0 1677.7 162.4C1681.3 167.8 1684.0 172.6 1686.7 176.8C1689.4 181.1 1692.7 185.9 1693.9 187.7" fill="none" stroke="#d3aa78" stroke-width="17.977223427331886" stroke-linecap="round" stroke-linejoin="round" opacity="0.54" />
<path d="M1650.5 126.2C1652.9 129.2 1660.5 138.3 1665.0 144.3C1669.5 150.3 1674.0 157.0 1677.7 162.4C1681.3 167.8 1684.0 172.6 1686.7 176.8C1689.4 181.1 1692.7 185.9 1693.9 187.7" fill="none" stroke="#d3aa78" stroke-width="8.988611713665943" stroke-linecap="round" stroke-linejoin="round" opacity="0.7200000000000001" />
<path d="M1623.4 140.7C1625.5 141.9 1631.6 147.9 1636.1 147.9C1640.6 147.9 1648.1 141.9 1650.5 140.7" fill="none" stroke="#e9d2b2" stroke-width="23.969631236442517" stroke-linecap="round" stroke-linejoin="round" opacity="0.54" />
<path d="M1623.4 140.7C1625.5 141.9 1631.6 147.9 1636.1 147.9C1640.6 147.9 1648.1 141.9 1650.5 140.7" fill="none" stroke="#e9d2b2" stroke-width="11.984815618221258" stroke-linecap="round" stroke-linejoin="round" opacity="0.7200000000000001" />
<path d="M1719.2 90.1C1721.6 89.5 1728.9 86.2 1733.7 86.5C1738.5 86.8 1746.9 88.9 1748.2 91.9C1749.4 94.9 1743.9 100.0 1740.9 104.5C1737.9 109.1 1732.5 114.2 1730.1 119.0C1727.7 123.8 1728.9 128.6 1726.5 133.5C1724.0 138.3 1718.6 143.1 1715.6 147.9C1712.6 152.7 1710.5 157.6 1708.4 162.4C1706.3 167.2 1704.8 171.4 1703.0 176.8C1701.2 182.3 1698.4 191.9 1697.5 194.9" fill="none" stroke="#dfbe94" stroke-width="15.979754157628344" stroke-linecap="round" stroke-linejoin="round" opacity="0.51" />
<path d="M1719.2 90.1C1721.6 89.5 1728.9 86.2 1733.7 86.5C1738.5 86.8 1746.9 88.9 1748.2 91.9C1749.4 94.9 1743.9 100.0 1740.9 104.5C1737.9 109.1 1732.5 114.2 1730.1 119.0C1727.7 123.8 1728.9 128.6 1726.5 133.5C1724.0 138.3 1718.6 143.1 1715.6 147.9C1712.6 152.7 1710.5 157.6 1708.4 162.4C1706.3 167.2 1704.8 171.4 1703.0 176.8C1701.2 182.3 1698.4 191.9 1697.5 194.9" fill="none" stroke="#dfbe94" stroke-width="7.989877078814172" stroke-linecap="round" stroke-linejoin="round" opacity="0.68" />
<path d="M1748.2 119.0C1751.2 117.8 1760.8 113.6 1766.2 111.8C1771.7 110.0 1775.9 110.0 1780.7 108.2C1785.5 106.3 1791.2 103.6 1795.2 100.9C1799.1 98.2 1802.4 95.2 1804.2 91.9C1806.0 88.6 1805.7 82.8 1806.0 81.0" fill="none" stroke="#d3aa78" stroke-width="5.592913955169921" stroke-linecap="round" stroke-linejoin="round" opacity="0.54" />
<path d="M1748.2 119.0C1751.2 117.8 1760.8 113.6 1766.2 111.8C1771.7 110.0 1775.9 110.0 1780.7 108.2C1785.5 106.3 1791.2 103.6 1795.2 100.9C1799.1 98.2 1802.4 95.2 1804.2 91.9C1806.0 88.6 1805.7 82.8 1806.0 81.0" fill="none" stroke="#d3aa78" stroke-width="2.7964569775849606" stroke-linecap="round" stroke-linejoin="round" opacity="0.7200000000000001" />
<path d="M1740.9 82.8C1744.5 82.2 1756.0 79.2 1762.6 79.2C1769.2 79.2 1774.7 81.3 1780.7 82.8C1786.7 84.4 1793.9 86.5 1798.8 88.3C1803.6 90.1 1807.8 92.8 1809.6 93.7" fill="none" stroke="#dfbe94" stroke-width="13.9822848879248" stroke-linecap="round" stroke-linejoin="round" opacity="0.51" />
<path d="M1740.9 82.8C1744.5 82.2 1756.0 79.2 1762.6 79.2C1769.2 79.2 1774.7 81.3 1780.7 82.8C1786.7 84.4 1793.9 86.5 1798.8 88.3C1803.6 90.1 1807.8 92.8 1809.6 93.7" fill="none" stroke="#dfbe94" stroke-width="6.9911424439624" stroke-linecap="round" stroke-linejoin="round" opacity="0.68" />
<path d="M1697.5 194.9C1699.3 196.7 1704.2 202.8 1708.4 205.8C1712.6 208.8 1718.0 210.6 1722.8 213.0C1727.7 215.4 1733.7 217.8 1737.3 220.2C1740.9 222.6 1743.9 225.0 1744.5 227.5C1745.1 229.9 1741.5 233.5 1740.9 234.7" fill="none" stroke="#dfbe94" stroke-width="17.977223427331886" stroke-linecap="round" stroke-linejoin="round" opacity="0.54" />
<path d="M1697.5 194.9C1699.3 196.7 1704.2 202.8 1708.4 205.8C1712.6 208.8 1718.0 210.6 1722.8 213.0C1727.7 215.4 1733.7 217.8 1737.3 220.2C1740.9 222.6 1743.9 225.0 1744.5 227.5C1745.1 229.9 1741.5 233.5 1740.9 234.7" fill="none" stroke="#dfbe94" stroke-width="8.988611713665943" stroke-linecap="round" stroke-linejoin="round" opacity="0.7200000000000001" />
<path d="M1748.2 157.0C1748.8 155.5 1749.4 150.6 1751.8 147.9C1754.2 145.2 1758.4 142.8 1762.6 140.7C1766.8 138.6 1772.9 135.3 1777.1 135.3C1781.3 135.3 1784.9 138.6 1787.9 140.7C1790.9 142.8 1793.3 144.3 1795.2 147.9C1797.0 151.5 1797.9 157.6 1798.8 162.4C1799.7 167.2 1800.9 172.3 1800.6 176.8C1800.3 181.4 1798.8 185.9 1797.0 189.5C1795.2 193.1 1790.9 197.0 1789.7 198.5" fill="none" stroke="#dfbe94" stroke-width="9.987346348517717" stroke-linecap="round" stroke-linejoin="round" opacity="0.51" />
<path d="M1748.2 157.0C1748.8 155.5 1749.4 150.6 1751.8 147.9C1754.2 145.2 1758.4 142.8 1762.6 140.7C1766.8 138.6 1772.9 135.3 1777.1 135.3C1781.3 135.3 1784.9 138.6 1787.9 140.7C1790.9 142.8 1793.3 144.3 1795.2 147.9C1797.0 151.5 1797.9 157.6 1798.8 162.4C1799.7 167.2 1800.9 172.3 1800.6 176.8C1800.3 181.4 1798.8 185.9 1797.0 189.5C1795.2 193.1 1790.9 197.0 1789.7 198.5" fill="none" stroke="#dfbe94" stroke-width="4.993673174258858" stroke-linecap="round" stroke-linejoin="round" opacity="0.68" />
<path d="M1719.2 180.5C1721.0 179.3 1725.9 175.0 1730.1 173.2C1734.3 171.4 1740.9 171.4 1744.5 169.6C1748.2 167.8 1750.6 163.6 1751.8 162.4" fill="none" stroke="#e9d2b2" stroke-width="7.989877078814172" stroke-linecap="round" stroke-linejoin="round" opacity="0.48" />
<path d="M1719.2 180.5C1721.0 179.3 1725.9 175.0 1730.1 173.2C1734.3 171.4 1740.9 171.4 1744.5 169.6C1748.2 167.8 1750.6 163.6 1751.8 162.4" fill="none" stroke="#e9d2b2" stroke-width="3.994938539407086" stroke-linecap="round" stroke-linejoin="round" opacity="0.6400000000000001" />
<path d="M1744.5 227.5C1746.9 226.3 1754.2 222.3 1759.0 220.2C1763.8 218.1 1768.9 216.3 1773.5 214.8C1778.0 213.3 1782.5 211.2 1786.1 211.2C1789.7 211.2 1793.0 212.7 1795.2 214.8C1797.3 216.9 1797.0 220.5 1798.8 223.8C1800.6 227.2 1803.0 231.7 1806.0 234.7C1809.0 237.7 1812.6 239.5 1816.8 241.9C1821.1 244.3 1826.5 247.6 1831.3 249.2C1836.1 250.7 1840.9 252.2 1845.8 251.0C1850.6 249.8 1856.0 245.2 1860.2 241.9C1864.4 238.6 1868.1 235.3 1871.1 231.1C1874.1 226.9 1877.1 220.8 1878.3 216.6C1879.5 212.4 1878.3 207.6 1878.3 205.8" fill="none" stroke="#d3aa78" stroke-width="7.190889370932754" stroke-linecap="round" stroke-linejoin="round" opacity="0.54" />
<path d="M1744.5 227.5C1746.9 226.3 1754.2 222.3 1759.0 220.2C1763.8 218.1 1768.9 216.3 1773.5 214.8C1778.0 213.3 1782.5 211.2 1786.1 211.2C1789.7 211.2 1793.0 212.7 1795.2 214.8C1797.3 216.9 1797.0 220.5 1798.8 223.8C1800.6 227.2 1803.0 231.7 1806.0 234.7C1809.0 237.7 1812.6 239.5 1816.8 241.9C1821.1 244.3 1826.5 247.6 1831.3 249.2C1836.1 250.7 1840.9 252.2 1845.8 251.0C1850.6 249.8 1856.0 245.2 1860.2 241.9C1864.4 238.6 1868.1 235.3 1871.1 231.1C1874.1 226.9 1877.1 220.8 1878.3 216.6C1879.5 212.4 1878.3 207.6 1878.3 205.8" fill="none" stroke="#d3aa78" stroke-width="3.595444685466377" stroke-linecap="round" stroke-linejoin="round" opacity="0.7200000000000001" />
<path d="M1744.5 234.7C1742.7 237.7 1736.1 247.3 1733.7 252.8C1731.3 258.2 1730.1 263.3 1730.1 267.2C1730.1 271.1 1734.3 272.7 1733.7 276.3C1733.1 279.9 1727.7 286.8 1726.5 288.9" fill="none" stroke="#dfbe94" stroke-width="11.984815618221258" stroke-linecap="round" stroke-linejoin="round" opacity="0.51" />
<path d="M1744.5 234.7C1742.7 237.7 1736.1 247.3 1733.7 252.8C1731.3 258.2 1730.1 263.3 1730.1 267.2C1730.1 271.1 1734.3 272.7 1733.7 276.3C1733.1 279.9 1727.7 286.8 1726.5 288.9" fill="none" stroke="#dfbe94" stroke-width="5.992407809110629" stroke-linecap="round" stroke-linejoin="round" opacity="0.68" />
<path d="M1825.9 135.3C1827.4 136.8 1831.6 143.7 1834.9 144.3C1838.2 144.9 1842.8 138.9 1845.8 138.9C1848.8 138.9 1852.4 141.0 1853.0 144.3C1853.6 147.6 1851.5 155.8 1849.4 158.8C1847.3 161.8 1842.2 160.6 1840.3 162.4C1838.5 164.2 1837.6 166.0 1838.5 169.6C1839.4 173.2 1845.2 179.6 1845.8 184.1C1846.4 188.6 1845.2 194.3 1842.2 196.7C1839.1 199.1 1832.5 197.9 1827.7 198.5C1822.9 199.1 1815.6 200.0 1813.2 200.3" fill="none" stroke="#d3aa78" stroke-width="5.592913955169921" stroke-linecap="round" stroke-linejoin="round" opacity="0.54" />
<path d="M1825.9 135.3C1827.4 136.8 1831.6 143.7 1834.9 144.3C1838.2 144.9 1842.8 138.9 1845.8 138.9C1848.8 138.9 1852.4 141.0 1853.0 144.3C1853.6 147.6 1851.5 155.8 1849.4 158.8C1847.3 161.8 1842.2 160.6 1840.3 162.4C1838.5 164.2 1837.6 166.0 1838.5 169.6C1839.4 173.2 1845.2 179.6 1845.8 184.1C1846.4 188.6 1845.2 194.3 1842.2 196.7C1839.1 199.1 1832.5 197.9 1827.7 198.5C1822.9 199.1 1815.6 200.0 1813.2 200.3" fill="none" stroke="#d3aa78" stroke-width="2.7964569775849606" stroke-linecap="round" stroke-linejoin="round" opacity="0.7200000000000001" />
<path d="M1834.9 90.1C1836.7 88.9 1842.2 85.0 1845.8 82.8C1849.4 80.7 1854.8 78.3 1856.6 77.4" fill="none" stroke="#dfbe94" stroke-width="9.987346348517717" stroke-linecap="round" stroke-linejoin="round" opacity="0.48" />
<path d="M1834.9 90.1C1836.7 88.9 1842.2 85.0 1845.8 82.8C1849.4 80.7 1854.8 78.3 1856.6 77.4" fill="none" stroke="#dfbe94" stroke-width="4.993673174258858" stroke-linecap="round" stroke-linejoin="round" opacity="0.6400000000000001" />
<path d="M1885.5 122.6C1886.7 120.2 1890.4 113.0 1892.8 108.2C1895.2 103.3 1897.6 97.9 1900.0 93.7C1902.4 89.5 1906.0 84.7 1907.2 82.8" fill="none" stroke="#dfbe94" stroke-width="15.979754157628344" stroke-linecap="round" stroke-linejoin="round" opacity="0.51" />
<path d="M1885.5 122.6C1886.7 120.2 1890.4 113.0 1892.8 108.2C1895.2 103.3 1897.6 97.9 1900.0 93.7C1902.4 89.5 1906.0 84.7 1907.2 82.8" fill="none" stroke="#dfbe94" stroke-width="7.989877078814172" stroke-linecap="round" stroke-linejoin="round" opacity="0.68" />
<path d="M1885.5 122.6C1884.3 125.0 1877.7 132.9 1878.3 137.1C1878.9 141.3 1885.5 145.5 1889.1 147.9C1892.8 150.3 1898.2 150.9 1900.0 151.5" fill="none" stroke="#e9d2b2" stroke-width="11.984815618221258" stroke-linecap="round" stroke-linejoin="round" opacity="0.51" />
<path d="M1885.5 122.6C1884.3 125.0 1877.7 132.9 1878.3 137.1C1878.9 141.3 1885.5 145.5 1889.1 147.9C1892.8 150.3 1898.2 150.9 1900.0 151.5" fill="none" stroke="#e9d2b2" stroke-width="5.992407809110629" stroke-linecap="round" stroke-linejoin="round" opacity="0.68" />
<path d="M1918.1 82.8C1918.7 85.3 1922.3 92.5 1921.7 97.3C1921.1 102.1 1916.9 106.9 1914.5 111.8C1912.0 116.6 1909.6 121.4 1907.2 126.2C1904.8 131.1 1903.0 135.9 1900.0 140.7C1897.0 145.5 1892.8 150.9 1889.1 155.2C1885.5 159.4 1881.9 162.4 1878.3 166.0C1874.7 169.6 1871.1 173.2 1867.5 176.8C1863.8 180.5 1857.8 183.5 1856.6 187.7C1855.4 191.9 1858.4 198.5 1860.2 202.2C1862.0 205.8 1866.3 208.2 1867.5 209.4" fill="none" stroke="#dfbe94" stroke-width="11.984815618221258" stroke-linecap="round" stroke-linejoin="round" opacity="0.51" />
<path d="M1918.1 82.8C1918.7 85.3 1922.3 92.5 1921.7 97.3C1921.1 102.1 1916.9 106.9 1914.5 111.8C1912.0 116.6 1909.6 121.4 1907.2 126.2C1904.8 131.1 1903.0 135.9 1900.0 140.7C1897.0 145.5 1892.8 150.9 1889.1 155.2C1885.5 159.4 1881.9 162.4 1878.3 166.0C1874.7 169.6 1871.1 173.2 1867.5 176.8C1863.8 180.5 1857.8 183.5 1856.6 187.7C1855.4 191.9 1858.4 198.5 1860.2 202.2C1862.0 205.8 1866.3 208.2 1867.5 209.4" fill="none" stroke="#dfbe94" stroke-width="5.992407809110629" stroke-linecap="round" stroke-linejoin="round" opacity="0.68" />
<path d="M1939.8 82.8C1938.6 85.3 1934.9 91.9 1932.5 97.3C1930.1 102.7 1926.5 109.4 1925.3 115.4C1924.1 121.4 1924.7 127.4 1925.3 133.5C1925.9 139.5 1928.9 145.5 1928.9 151.5C1928.9 157.6 1927.1 163.6 1925.3 169.6C1923.5 175.6 1919.9 181.7 1918.1 187.7C1916.3 193.7 1913.9 200.9 1914.5 205.8C1915.1 210.6 1918.1 215.4 1921.7 216.6C1925.3 217.8 1931.3 214.8 1936.1 213.0C1941.0 211.2 1946.4 208.2 1950.6 205.8C1954.8 203.4 1959.6 199.7 1961.5 198.5" fill="none" stroke="#dfbe94" stroke-width="17.977223427331886" stroke-linecap="round" stroke-linejoin="round" opacity="0.51" />
<path d="M1939.8 82.8C1938.6 85.3 1934.9 91.9 1932.5 97.3C1930.1 102.7 1926.5 109.4 1925.3 115.4C1924.1 121.4 1924.7 127.4 1925.3 133.5C1925.9 139.5 1928.9 145.5 1928.9 151.5C1928.9 157.6 1927.1 163.6 1925.3 169.6C1923.5 175.6 1919.9 181.7 1918.1 187.7C1916.3 193.7 1913.9 200.9 1914.5 205.8C1915.1 210.6 1918.1 215.4 1921.7 216.6C1925.3 217.8 1931.3 214.8 1936.1 213.0C1941.0 211.2 1946.4 208.2 1950.6 205.8C1954.8 203.4 1959.6 199.7 1961.5 198.5" fill="none" stroke="#dfbe94" stroke-width="8.988611713665943" stroke-linecap="round" stroke-linejoin="round" opacity="0.68" />
<path d="M1961.5 82.8C1960.3 85.9 1956.6 94.9 1954.2 100.9C1951.8 106.9 1947.9 113.0 1947.0 119.0C1946.1 125.0 1947.6 131.1 1948.8 137.1C1950.0 143.1 1952.1 150.3 1954.2 155.2C1956.3 160.0 1960.3 164.2 1961.5 166.0" fill="none" stroke="#e9d2b2" stroke-width="15.979754157628344" stroke-linecap="round" stroke-linejoin="round" opacity="0.51" />
<path d="M1961.5 82.8C1960.3 85.9 1956.6 94.9 1954.2 100.9C1951.8 106.9 1947.9 113.0 1947.0 119.0C1946.1 125.0 1947.6 131.1 1948.8 137.1C1950.0 143.1 1952.1 150.3 1954.2 155.2C1956.3 160.0 1960.3 164.2 1961.5 166.0" fill="none" stroke="#e9d2b2" stroke-width="7.989877078814172" stroke-linecap="round" stroke-linejoin="round" opacity="0.68" />
<path d="M1914.5 205.8C1912.6 208.2 1906.6 215.4 1903.6 220.2C1900.6 225.0 1898.8 229.9 1896.4 234.7C1894.0 239.5 1892.2 244.9 1889.1 249.2C1886.1 253.4 1881.9 256.4 1878.3 260.0C1874.7 263.6 1871.1 267.2 1867.5 270.8C1863.8 274.5 1858.4 279.9 1856.6 281.7" fill="none" stroke="#dfbe94" stroke-width="9.987346348517717" stroke-linecap="round" stroke-linejoin="round" opacity="0.51" />
<path d="M1914.5 205.8C1912.6 208.2 1906.6 215.4 1903.6 220.2C1900.6 225.0 1898.8 229.9 1896.4 234.7C1894.0 239.5 1892.2 244.9 1889.1 249.2C1886.1 253.4 1881.9 256.4 1878.3 260.0C1874.7 263.6 1871.1 267.2 1867.5 270.8C1863.8 274.5 1858.4 279.9 1856.6 281.7" fill="none" stroke="#dfbe94" stroke-width="4.993673174258858" stroke-linecap="round" stroke-linejoin="round" opacity="0.68" />
<path d="M1925.3 216.6C1924.1 219.0 1921.1 226.3 1918.1 231.1C1915.1 235.9 1910.2 240.7 1907.2 245.5C1904.2 250.4 1903.0 255.2 1900.0 260.0C1897.0 264.8 1892.8 269.6 1889.1 274.5C1885.5 279.3 1881.3 284.1 1878.3 288.9C1875.3 293.7 1872.3 301.0 1871.1 303.4" fill="none" stroke="#dfbe94" stroke-width="9.987346348517717" stroke-linecap="round" stroke-linejoin="round" opacity="0.51" />
<path d="M1925.3 216.6C1924.1 219.0 1921.1 226.3 1918.1 231.1C1915.1 235.9 1910.2 240.7 1907.2 245.5C1904.2 250.4 1903.0 255.2 1900.0 260.0C1897.0 264.8 1892.8 269.6 1889.1 274.5C1885.5 279.3 1881.3 284.1 1878.3 288.9C1875.3 293.7 1872.3 301.0 1871.1 303.4" fill="none" stroke="#dfbe94" stroke-width="4.993673174258858" stroke-linecap="round" stroke-linejoin="round" opacity="0.68" />
<path d="M1845.8 251.0C1844.6 253.1 1840.9 259.1 1838.5 263.6C1836.1 268.1 1833.7 273.3 1831.3 278.1C1828.9 282.9 1827.1 288.0 1824.1 292.5C1821.1 297.1 1815.0 303.1 1813.2 305.2" fill="none" stroke="#e9d2b2" stroke-width="9.987346348517717" stroke-linecap="round" stroke-linejoin="round" opacity="0.51" />
<path d="M1845.8 251.0C1844.6 253.1 1840.9 259.1 1838.5 263.6C1836.1 268.1 1833.7 273.3 1831.3 278.1C1828.9 282.9 1827.1 288.0 1824.1 292.5C1821.1 297.1 1815.0 303.1 1813.2 305.2" fill="none" stroke="#e9d2b2" stroke-width="4.993673174258858" stroke-linecap="round" stroke-linejoin="round" opacity="0.68" />
<path d="M1777.1 252.8C1776.5 255.2 1772.9 262.4 1773.5 267.2C1774.1 272.0 1777.7 278.1 1780.7 281.7C1783.7 285.3 1787.9 288.9 1791.5 288.9C1795.2 288.9 1799.4 285.3 1802.4 281.7C1805.4 278.1 1807.2 272.0 1809.6 267.2C1812.0 262.4 1815.6 255.2 1816.8 252.8" fill="none" stroke="#dfbe94" stroke-width="9.987346348517717" stroke-linecap="round" stroke-linejoin="round" opacity="0.51" />
<path d="M1777.1 252.8C1776.5 255.2 1772.9 262.4 1773.5 267.2C1774.1 272.0 1777.7 278.1 1780.7 281.7C1783.7 285.3 1787.9 288.9 1791.5 288.9C1795.2 288.9 1799.4 285.3 1802.4 281.7C1805.4 278.1 1807.2 272.0 1809.6 267.2C1812.0 262.4 1815.6 255.2 1816.8 252.8" fill="none" stroke="#dfbe94" stroke-width="4.993673174258858" stroke-linecap="round" stroke-linejoin="round" opacity="0.68" />
<path d="M1636.1 198.5C1637.9 197.9 1643.3 194.9 1646.9 194.9C1650.5 194.9 1654.2 196.7 1657.8 198.5C1661.4 200.3 1666.8 204.6 1668.6 205.8" fill="none" stroke="#dfbe94" stroke-width="7.190889370932754" stroke-linecap="round" stroke-linejoin="round" opacity="0.51" />
<path d="M1636.1 198.5C1637.9 197.9 1643.3 194.9 1646.9 194.9C1650.5 194.9 1654.2 196.7 1657.8 198.5C1661.4 200.3 1666.8 204.6 1668.6 205.8" fill="none" stroke="#dfbe94" stroke-width="3.595444685466377" stroke-linecap="round" stroke-linejoin="round" opacity="0.68" />
<path d="M1628.8 213.0C1630.1 215.4 1635.5 222.6 1636.1 227.5C1636.7 232.3 1631.9 237.1 1632.5 241.9C1633.1 246.7 1637.3 251.6 1639.7 256.4C1642.1 261.2 1646.3 266.0 1646.9 270.8C1647.5 275.7 1643.9 282.9 1643.3 285.3" fill="none" stroke="#dfbe94" stroke-width="11.984815618221258" stroke-linecap="round" stroke-linejoin="round" opacity="0.51" />
<path d="M1628.8 213.0C1630.1 215.4 1635.5 222.6 1636.1 227.5C1636.7 232.3 1631.9 237.1 1632.5 241.9C1633.1 246.7 1637.3 251.6 1639.7 256.4C1642.1 261.2 1646.3 266.0 1646.9 270.8C1647.5 275.7 1643.9 282.9 1643.3 285.3" fill="none" stroke="#dfbe94" stroke-width="5.992407809110629" stroke-linecap="round" stroke-linejoin="round" opacity="0.68" />
<path d="M1661.4 252.8C1660.2 255.2 1656.6 262.4 1654.2 267.2C1651.7 272.0 1649.3 277.2 1646.9 281.7C1644.5 286.2 1640.9 292.2 1639.7 294.3" fill="none" stroke="#dfbe94" stroke-width="9.987346348517717" stroke-linecap="round" stroke-linejoin="round" opacity="0.51" />
<path d="M1661.4 252.8C1660.2 255.2 1656.6 262.4 1654.2 267.2C1651.7 272.0 1649.3 277.2 1646.9 281.7C1644.5 286.2 1640.9 292.2 1639.7 294.3" fill="none" stroke="#dfbe94" stroke-width="4.993673174258858" stroke-linecap="round" stroke-linejoin="round" opacity="0.68" />
<path d="M1690.3 305.2C1691.5 303.1 1694.5 295.8 1697.5 292.5C1700.6 289.2 1706.6 286.5 1708.4 285.3" fill="none" stroke="#d3aa78" stroke-width="23.969631236442517" stroke-linecap="round" stroke-linejoin="round" opacity="0.51" />
<path d="M1690.3 305.2C1691.5 303.1 1694.5 295.8 1697.5 292.5C1700.6 289.2 1706.6 286.5 1708.4 285.3" fill="none" stroke="#d3aa78" stroke-width="11.984815618221258" stroke-linecap="round" stroke-linejoin="round" opacity="0.68" />
<path d="M1719.2 281.7C1721.0 282.3 1726.5 283.2 1730.1 285.3C1733.7 287.4 1737.9 291.3 1740.9 294.3C1743.9 297.4 1746.9 301.9 1748.2 303.4" fill="none" stroke="#d3aa78" stroke-width="19.974692697035433" stroke-linecap="round" stroke-linejoin="round" opacity="0.51" />
<path d="M1719.2 281.7C1721.0 282.3 1726.5 283.2 1730.1 285.3C1733.7 287.4 1737.9 291.3 1740.9 294.3C1743.9 297.4 1746.9 301.9 1748.2 303.4" fill="none" stroke="#d3aa78" stroke-width="9.987346348517717" stroke-linecap="round" stroke-linejoin="round" opacity="0.68" />
<path d="M1925.3 285.3C1927.1 284.4 1933.1 279.3 1936.1 279.9C1939.2 280.5 1941.6 284.7 1943.4 288.9C1945.2 293.1 1946.4 302.5 1947.0 305.2" fill="none" stroke="#d3aa78" stroke-width="27.9645697758496" stroke-linecap="round" stroke-linejoin="round" opacity="0.48" />
<path d="M1925.3 285.3C1927.1 284.4 1933.1 279.3 1936.1 279.9C1939.2 280.5 1941.6 284.7 1943.4 288.9C1945.2 293.1 1946.4 302.5 1947.0 305.2" fill="none" stroke="#d3aa78" stroke-width="13.9822848879248" stroke-linecap="round" stroke-linejoin="round" opacity="0.6400000000000001" />
<path d="M1914.5 252.8C1916.3 254.6 1922.3 260.6 1925.3 263.6C1928.3 266.6 1931.3 269.6 1932.5 270.8" fill="none" stroke="#dfbe94" stroke-width="7.989877078814172" stroke-linecap="round" stroke-linejoin="round" opacity="0.51" />
<path d="M1914.5 252.8C1916.3 254.6 1922.3 260.6 1925.3 263.6C1928.3 266.6 1931.3 269.6 1932.5 270.8" fill="none" stroke="#dfbe94" stroke-width="3.994938539407086" stroke-linecap="round" stroke-linejoin="round" opacity="0.68" />
<path d="M1968.7 173.2C1967.5 175.6 1961.8 183.5 1961.5 187.7C1961.2 191.9 1966.0 196.7 1966.9 198.5" fill="none" stroke="#d3aa78" stroke-width="11.984815618221258" stroke-linecap="round" stroke-linejoin="round" opacity="0.51" />
<path d="M1968.7 173.2C1967.5 175.6 1961.8 183.5 1961.5 187.7C1961.2 191.9 1966.0 196.7 1966.9 198.5" fill="none" stroke="#d3aa78" stroke-width="5.992407809110629" stroke-linecap="round" stroke-linejoin="round" opacity="0.68" />
<path d="M1623.4 173.2C1624.3 175.6 1628.5 183.5 1628.8 187.7C1629.1 191.9 1625.8 196.7 1625.2 198.5" fill="none" stroke="#d3aa78" stroke-width="11.984815618221258" stroke-linecap="round" stroke-linejoin="round" opacity="0.51" />
<path d="M1623.4 173.2C1624.3 175.6 1628.5 183.5 1628.8 187.7C1629.1 191.9 1625.8 196.7 1625.2 198.5" fill="none" stroke="#d3aa78" stroke-width="5.992407809110629" stroke-linecap="round" stroke-linejoin="round" opacity="0.68" />
<circle cx="1708.4" cy="85.6" r="4.0" fill="#c48a3c" opacity="0.9"/>
<circle cx="1815.9" cy="145.2" r="3.4" fill="#c48a3c" opacity="0.9"/>
<circle cx="1825.9" cy="157.0" r="2.3" fill="#b87418" opacity="0.95"/>
<circle cx="1760.8" cy="126.2" r="2.0" fill="#c48a3c" opacity="0.9"/>
<circle cx="1645.1" cy="180.5" r="3.8" fill="#c48a3c" opacity="0.85"/>
<circle cx="1661.4" cy="234.7" r="4.3" fill="#c48a3c" opacity="0.85"/>
<circle cx="1654.2" cy="222.0" r="3.1" fill="#c48a3c" opacity="0.85"/>
<circle cx="1641.5" cy="265.4" r="5.2" fill="#c48a3c" opacity="0.85"/>
<circle cx="1907.2" cy="182.3" r="4.9" fill="#c48a3c" opacity="0.85"/>
<circle cx="1901.8" cy="189.5" r="3.4" fill="#c48a3c" opacity="0.85"/>
<circle cx="1766.2" cy="288.9" r="3.4" fill="#c48a3c" opacity="0.8"/>
<circle cx="1721.9" cy="279.9" r="4.3" fill="#c48a3c" opacity="0.85"/>
<circle cx="1672.2" cy="140.7" r="1.8" fill="#c48a3c" opacity="0.9"/>
<circle cx="1883.7" cy="90.1" r="1.6" fill="#c48a3c" opacity="0.9"/>
</g>
<path d="M1635.0 114.2h0.4M1747.2 234.2h0.4M1850.9 188.6h0.4M1906.8 150.5h0.4M1744.5 249.2h0.4M1859.0 173.6h0.4M1932.3 80.8h0.4M1809.1 274.1h0.4M1928.7 119.6h0.4M1903.6 198.5h0.4M1948.3 151.0h0.4M1853.8 223.8h0.4M1967.5 153.5h0.4M1757.9 103.7h0.4M1860.5 91.1h0.4M1918.3 108.6h0.4M1688.5 295.4h0.4M1795.9 250.0h0.4M1742.6 131.0h0.4M1750.5 303.0h0.4M1689.0 284.9h0.4M1930.0 232.8h0.4M1714.7 244.4h0.4M1937.7 212.4h0.4M1698.7 216.4h0.4M1955.7 211.9h0.4M1674.1 121.7h0.4M1841.9 85.8h0.4M1622.4 161.6h0.4M1711.8 189.4h0.4M1647.6 204.7h0.4M1857.7 148.3h0.4M1824.9 197.1h0.4M1897.3 208.6h0.4M1844.6 205.7h0.4M1909.1 97.1h0.4M1661.7 275.8h0.4M1913.0 76.6h0.4M1933.9 216.2h0.4M1920.6 237.6h0.4M1753.2 101.2h0.4M1888.8 239.6h0.4M1786.0 137.6h0.4M1749.0 292.1h0.4M1783.6 123.5h0.4M1966.1 302.0h0.4M1683.6 120.4h0.4M1876.6 164.6h0.4M1787.3 233.6h0.4M1717.3 212.8h0.4M1693.2 126.1h0.4M1812.3 174.1h0.4M1934.1 108.0h0.4M1941.6 135.5h0.4M1741.6 99.4h0.4M1732.3 302.5h0.4M1748.3 268.9h0.4M1962.6 236.3h0.4M1686.3 174.9h0.4M1680.3 132.7h0.4M1738.8 113.2h0.4M1859.1 196.1h0.4M1723.5 133.9h0.4M1671.6 101.3h0.4M1775.0 92.1h0.4M1804.3 134.0h0.4M1891.4 136.7h0.4M1920.6 294.3h0.4M1946.3 127.6h0.4M1946.1 184.3h0.4M1930.6 182.5h0.4M1810.7 134.8h0.4M1886.2 160.1h0.4M1930.3 239.0h0.4M1771.6 81.9h0.4M1715.7 171.6h0.4M1751.2 210.1h0.4M1623.8 183.3h0.4M1933.4 296.1h0.4M1862.2 234.2h0.4M1832.3 306.8h0.4M1897.6 181.6h0.4M1794.9 292.9h0.4M1814.5 213.7h0.4M1729.3 229.0h0.4M1792.4 293.9h0.4M1970.8 306.1h0.4M1953.7 84.8h0.4M1647.4 153.5h0.4M1910.4 204.4h0.4M1711.6 98.1h0.4M1709.2 104.3h0.4M1672.1 247.7h0.4M1689.4 113.5h0.4M1838.2 105.0h0.4M1912.7 225.7h0.4M1928.2 243.3h0.4M1876.9 136.8h0.4M1769.5 162.9h0.4M1758.7 286.6h0.4M1774.1 260.3h0.4M1842.0 93.9h0.4M1695.4 208.9h0.4M1897.4 128.9h0.4M1709.1 162.3h0.4M1782.1 172.3h0.4M1944.7 216.0h0.4M1719.0 154.6h0.4M1799.1 112.0h0.4M1758.7 89.8h0.4M1851.0 276.2h0.4M1935.5 213.4h0.4M1756.2 204.8h0.4M1815.8 115.7h0.4M1810.5 190.2h0.4M1690.8 177.6h0.4M1913.7 223.7h0.4M1736.8 130.1h0.4M1841.9 203.1h0.4M1725.9 184.1h0.4M1763.9 220.4h0.4M1928.4 161.3h0.4M1809.7 205.3h0.4M1854.8 131.3h0.4M1708.1 289.0h0.4M1672.7 232.9h0.4M1712.7 188.8h0.4M1779.4 130.2h0.4M1683.4 297.1h0.4M1635.4 107.8h0.4M1879.8 160.9h0.4M1690.0 255.0h0.4M1964.4 122.9h0.4M1868.6 166.8h0.4M1970.1 213.3h0.4M1934.2 228.8h0.4M1667.9 177.3h0.4M1868.1 110.2h0.4M1652.7 304.9h0.4M1944.2 225.9h0.4M1644.1 237.6h0.4M1967.0 256.5h0.4M1871.5 176.9h0.4M1842.5 289.9h0.4M1796.2 92.0h0.4M1672.6 295.9h0.4M1869.5 292.0h0.4M1673.6 99.2h0.4M1860.3 174.2h0.4M1783.5 128.8h0.4M1888.3 256.2h0.4M1875.2 174.6h0.4M1793.2 166.6h0.4M1784.3 150.4h0.4M1785.6 298.2h0.4M1901.6 106.1h0.4M1855.9 265.1h0.4M1742.3 281.2h0.4M1950.1 91.1h0.4M1840.1 163.1h0.4M1784.7 202.1h0.4M1921.9 221.2h0.4M1931.9 132.5h0.4M1900.0 165.7h0.4M1685.6 261.3h0.4M1823.4 127.1h0.4M1933.7 188.9h0.4M1857.1 303.6h0.4M1736.0 201.0h0.4M1812.6 141.0h0.4M1808.3 299.1h0.4M1865.3 136.3h0.4M1860.4 217.7h0.4M1750.6 230.6h0.4M1753.1 256.2h0.4M1757.3 266.1h0.4M1725.7 114.6h0.4M1736.9 103.9h0.4M1927.2 306.0h0.4M1767.2 130.5h0.4M1929.7 272.4h0.4M1707.2 145.7h0.4M1795.5 105.4h0.4M1695.5 167.0h0.4M1663.7 108.3h0.4M1832.9 144.6h0.4M1941.3 298.0h0.4M1855.7 138.6h0.4M1887.0 153.4h0.4M1925.5 173.1h0.4M1863.3 249.1h0.4M1867.1 249.5h0.4M1741.4 110.0h0.4M1750.5 297.4h0.4M1634.8 140.3h0.4M1729.9 177.0h0.4M1925.7 114.6h0.4M1658.3 78.8h0.4M1740.5 243.5h0.4M1779.9 224.8h0.4M1800.9 158.4h0.4M1764.1 84.2h0.4M1954.1 244.9h0.4M1656.0 121.8h0.4M1895.2 192.6h0.4M1883.2 249.3h0.4M1672.7 265.8h0.4M1692.2 106.8h0.4M1882.7 264.1h0.4M1727.6 164.2h0.4M1878.1 143.1h0.4M1777.2 305.2h0.4M1667.2 293.8h0.4M1931.5 306.2h0.4M1707.5 120.8h0.4M1774.6 114.4h0.4M1944.6 207.3h0.4M1915.7 188.9h0.4M1795.9 296.7h0.4M1665.6 127.1h0.4M1920.8 211.6h0.4M1894.8 305.9h0.4M1891.3 216.4h0.4M1884.1 198.3h0.4M1698.4 150.3h0.4M1944.6 197.0h0.4M1633.2 223.7h0.4M1968.6 220.1h0.4M1793.7 180.6h0.4M1842.0 217.5h0.4M1792.4 284.6h0.4M1931.4 256.4h0.4M1875.1 241.7h0.4M1690.8 188.7h0.4M1715.0 122.3h0.4M1953.4 128.3h0.4M1906.3 268.4h0.4M1763.2 80.4h0.4M1683.9 224.6h0.4M1869.5 157.1h0.4M1831.1 112.6h0.4M1851.5 256.3h0.4M1895.0 205.5h0.4M1822.1 75.2h0.4M1714.9 169.1h0.4M1647.2 91.8h0.4M1956.0 233.5h0.4M1818.2 234.9h0.4M1925.1 222.2h0.4M1771.0 165.9h0.4M1960.6 296.3h0.4M1675.0 264.8h0.4M1846.2 154.5h0.4M1864.3 138.5h0.4M1882.1 204.5h0.4M1826.1 87.8h0.4M1937.1 296.8h0.4M1887.5 142.8h0.4M1874.1 101.8h0.4M1812.6 154.9h0.4M1786.4 142.0h0.4M1646.7 175.8h0.4M1704.8 115.4h0.4M1737.6 103.6h0.4M1629.7 300.9h0.4M1641.3 282.2h0.4M1768.4 102.7h0.4M1771.6 192.5h0.4M1641.4 200.8h0.4M1624.5 144.1h0.4M1870.0 270.9h0.4M1684.1 169.2h0.4M1952.5 147.9h0.4M1663.1 132.0h0.4M1924.0 154.8h0.4M1854.2 292.5h0.4M1838.8 120.6h0.4M1789.7 150.3h0.4M1789.2 217.6h0.4M1962.5 234.7h0.4M1799.4 263.1h0.4M1798.9 119.6h0.4M1855.8 137.5h0.4M1696.0 165.0h0.4M1791.1 82.2h0.4M1747.8 297.9h0.4M1799.8 160.2h0.4M1781.4 236.9h0.4M1797.4 168.8h0.4M1824.5 138.7h0.4M1860.2 173.2h0.4M1868.1 155.6h0.4M1844.7 120.3h0.4M1791.2 189.1h0.4M1627.3 104.1h0.4M1782.6 252.5h0.4M1905.1 270.7h0.4M1903.2 299.3h0.4M1690.3 109.8h0.4M1670.3 258.8h0.4M1688.1 148.3h0.4M1670.3 285.8h0.4M1695.0 129.4h0.4M1829.3 238.0h0.4M1635.4 209.4h0.4M1806.8 203.4h0.4M1801.8 260.0h0.4M1908.9 274.7h0.4M1737.4 84.4h0.4M1786.2 80.9h0.4M1844.0 186.2h0.4M1882.5 268.3h0.4M1877.5 235.8h0.4M1738.1 243.4h0.4M1845.0 125.6h0.4M1925.2 184.5h0.4M1807.3 120.6h0.4M1912.0 184.8h0.4M1880.9 270.3h0.4M1803.1 210.6h0.4M1783.6 129.9h0.4M1900.8 288.6h0.4M1634.1 82.4h0.4M1785.9 93.3h0.4M1775.0 154.1h0.4M1706.0 254.9h0.4M1824.9 288.8h0.4M1689.8 163.1h0.4M1837.2 254.2h0.4M1771.3 117.9h0.4M1756.5 206.7h0.4M1959.4 225.9h0.4M1916.6 268.4h0.4M1771.5 192.2h0.4M1912.8 242.7h0.4M1761.4 118.5h0.4M1877.2 142.6h0.4M1714.4 133.0h0.4M1861.6 224.9h0.4M1948.9 211.6h0.4M1790.7 280.1h0.4M1670.3 211.5h0.4M1966.4 152.1h0.4M1675.1 101.1h0.4M1631.5 244.8h0.4M1765.9 265.3h0.4M1913.4 80.8h0.4M1728.9 136.0h0.4M1714.0 81.4h0.4M1710.9 153.6h0.4M1779.9 198.1h0.4M1965.6 99.8h0.4M1668.8 284.5h0.4M1722.4 199.8h0.4M1728.4 282.7h0.4M1947.9 207.2h0.4M1654.8 161.0h0.4M1867.6 206.2h0.4M1719.8 166.9h0.4M1643.5 168.5h0.4M1909.7 164.7h0.4M1784.6 113.7h0.4M1870.6 171.6h0.4M1756.4 254.3h0.4M1725.5 92.7h0.4M1846.0 246.2h0.4M1640.5 154.9h0.4M1931.1 192.9h0.4M1764.0 104.9h0.4M1722.5 211.1h0.4M1941.2 228.6h0.4M1959.9 169.4h0.4M1646.0 153.9h0.4M1749.8 88.0h0.4M1650.4 286.3h0.4M1934.3 105.6h0.4M1650.6 302.5h0.4M1680.1 144.8h0.4M1700.8 123.1h0.4M1632.8 182.0h0.4M1892.6 91.2h0.4M1793.4 105.4h0.4M1896.8 284.8h0.4M1927.2 198.7h0.4M1671.4 241.3h0.4M1646.3 254.8h0.4M1726.5 282.0h0.4M1721.4 246.6h0.4M1794.8 130.3h0.4M1793.3 174.7h0.4M1676.3 201.6h0.4M1807.7 237.3h0.4M1740.5 217.5h0.4M1691.1 196.0h0.4M1705.6 257.2h0.4M1688.6 142.3h0.4M1646.3 144.2h0.4M1810.8 127.7h0.4M1664.1 282.2h0.4M1730.3 124.9h0.4M1761.2 270.1h0.4M1882.4 284.4h0.4M1812.3 152.5h0.4M1796.9 88.3h0.4M1860.1 269.6h0.4M1941.4 267.6h0.4M1847.7 261.5h0.4M1723.7 205.3h0.4M1678.9 292.2h0.4M1800.7 115.7h0.4M1965.3 218.8h0.4M1696.1 271.1h0.4M1840.4 219.3h0.4M1928.2 148.1h0.4M1718.9 207.2h0.4M1692.9 237.0h0.4M1788.4 121.2h0.4M1665.5 112.4h0.4M1822.9 287.1h0.4M1900.0 271.8h0.4M1819.7 260.8h0.4M1737.2 160.2h0.4M1937.2 134.8h0.4M1839.5 206.5h0.4M1640.2 206.2h0.4M1900.1 281.2h0.4M1768.0 283.5h0.4M1635.2 285.3h0.4M1859.5 263.0h0.4M1778.2 211.2h0.4M1910.0 126.6h0.4M1685.9 249.7h0.4M1927.6 127.6h0.4M1812.7 192.6h0.4M1730.4 270.5h0.4M1720.7 255.8h0.4M1765.8 108.7h0.4M1957.6 109.0h0.4M1657.5 81.5h0.4M1744.3 80.9h0.4M1676.1 293.3h0.4M1710.7 240.9h0.4M1696.4 77.8h0.4M1624.4 103.0h0.4M1954.6 180.8h0.4M1709.1 85.6h0.4M1845.8 148.2h0.4M1684.9 176.2h0.4M1870.1 154.1h0.4M1817.8 118.5h0.4M1817.1 84.5h0.4M1943.9 290.4h0.4M1822.9 184.8h0.4M1760.6 248.7h0.4M1823.8 239.5h0.4M1776.6 167.6h0.4M1874.2 116.8h0.4M1741.3 130.6h0.4M1693.8 275.3h0.4M1730.9 245.9h0.4M1638.9 289.5h0.4M1785.5 247.5h0.4M1659.0 214.9h0.4M1905.2 141.9h0.4M1654.4 163.7h0.4M1890.4 251.7h0.4M1644.4 150.0h0.4M1941.4 141.8h0.4M1652.0 276.4h0.4M1908.0 178.2h0.4M1865.1 249.2h0.4M1913.9 118.7h0.4M1876.7 289.2h0.4M1897.2 196.0h0.4M1759.4 302.3h0.4M1968.5 261.6h0.4M1798.7 282.2h0.4M1927.1 191.9h0.4M1668.0 216.9h0.4M1669.0 152.5h0.4M1820.3 191.3h0.4M1846.7 265.3h0.4M1952.9 146.8h0.4M1954.9 149.6h0.4M1743.6 250.3h0.4M1962.4 192.5h0.4M1899.6 266.6h0.4M1731.9 218.1h0.4M1949.3 79.4h0.4M1665.3 277.4h0.4M1819.5 172.2h0.4M1898.7 177.8h0.4M1670.5 156.0h0.4M1887.3 223.8h0.4M1794.8 77.3h0.4M1969.6 93.1h0.4M1719.0 258.2h0.4M1949.1 234.5h0.4M1755.3 248.1h0.4M1855.1 209.0h0.4M1896.0 203.1h0.4M1809.7 134.7h0.4M1893.2 99.6h0.4M1655.2 220.9h0.4M1638.1 277.9h0.4M1689.2 183.2h0.4M1712.7 186.7h0.4M1837.0 120.4h0.4M1811.7 300.7h0.4M1674.1 125.5h0.4M1690.1 99.5h0.4M1626.3 297.4h0.4M1958.0 83.8h0.4M1912.7 209.2h0.4M1694.4 279.7h0.4M1662.5 223.4h0.4M1856.6 237.0h0.4M1704.6 109.4h0.4M1842.1 143.0h0.4M1833.2 246.5h0.4M1944.3 254.3h0.4M1969.9 239.2h0.4M1959.0 235.7h0.4M1967.2 230.7h0.4M1946.1 243.9h0.4M1955.4 247.0h0.4M1948.9 263.9h0.4M1957.9 238.5h0.4M1963.6 222.0h0.4M1968.4 259.4h0.4M1950.3 241.5h0.4M1944.4 257.5h0.4M1969.8 248.3h0.4M1969.9 242.4h0.4M1966.9 259.9h0.4M1968.5 241.8h0.4M1957.2 221.9h0.4M1969.2 224.4h0.4M1959.1 248.6h0.4M1948.1 236.7h0.4M1951.5 220.7h0.4M1954.2 238.2h0.4M1962.9 253.1h0.4M1969.1 261.2h0.4M1950.3 248.9h0.4M1962.2 257.3h0.4M1947.2 235.9h0.4M1960.0 235.0h0.4M1968.2 239.7h0.4M1962.6 223.4h0.4M1967.7 265.9h0.4M1969.5 236.3h0.4M1966.0 266.4h0.4M1946.3 223.7h0.4M1961.4 266.7h0.4M1944.2 259.6h0.4M1961.3 242.6h0.4M1947.2 244.1h0.4M1956.9 229.7h0.4M1967.8 255.0h0.4M1947.9 249.4h0.4M1959.6 264.3h0.4M1970.0 262.0h0.4M1944.9 240.0h0.4M1947.5 255.5h0.4M1945.6 259.2h0.4M1960.1 250.4h0.4M1969.0 261.1h0.4M1963.2 249.7h0.4M1958.2 244.6h0.4M1944.2 229.4h0.4M1962.1 239.7h0.4M1955.6 260.0h0.4M1953.9 254.4h0.4M1965.2 259.3h0.4M1949.7 248.8h0.4M1956.0 247.8h0.4M1945.7 229.2h0.4M1950.0 257.1h0.4M1964.6 238.2h0.4M1959.8 240.9h0.4M1957.9 232.8h0.4M1952.7 265.2h0.4M1967.4 225.9h0.4M1946.6 260.9h0.4M1955.4 250.3h0.4M1959.7 248.6h0.4M1967.9 227.4h0.4M1966.7 232.4h0.4M1945.4 234.2h0.4M1957.3 257.9h0.4M1959.1 265.8h0.4M1948.5 238.1h0.4M1958.9 248.0h0.4M1962.3 244.0h0.4M1946.1 257.0h0.4M1964.9 223.6h0.4M1965.4 220.5h0.4M1961.9 249.5h0.4M1951.4 224.4h0.4M1950.4 249.6h0.4M1957.9 258.5h0.4M1948.0 249.4h0.4M1951.6 222.2h0.4M1948.5 225.4h0.4M1947.7 222.0h0.4M1969.8 237.1h0.4M1963.9 240.1h0.4M1957.2 232.1h0.4M1969.0 230.2h0.4" fill="none" stroke="#cf9a55" stroke-width="1.6" stroke-linecap="round" stroke-linejoin="round" opacity="0.8" />
<g filter="url(#bl05)">
<path d="M1875.2 292.3l-0.8 1.6M1918.8 118.9l-0.3 0.9M1803.3 171.2l1.0 1.4M1710.5 198.2l1.4 0.8M1932.9 273.9l0.4 0.2M1772.1 89.4l1.8 0.7M1943.4 202.1l0.4 -0.3M1840.6 260.6l-1.1 1.5M1629.2 181.3l0.2 0.4M1895.2 236.8l-0.2 0.5M1938.4 94.7l-0.3 0.4M1927.7 136.7l0.6 1.0M1883.7 255.1l-1.5 1.3M1744.9 239.1l-0.3 0.3M1713.8 83.1l0.5 0.2M1916.8 111.4l-1.5 1.3M1645.8 125.0l0.7 0.6M1647.5 149.1l-1.0 1.0M1863.4 273.0l-1.3 0.4M1749.5 148.4l1.0 -0.8M1885.9 96.2l-0.2 -1.7M1731.4 116.7l-0.8 0.6M1634.3 139.8l1.4 -0.4M1642.1 289.2l-0.3 0.9M1831.1 284.9l-0.4 2.1M1730.9 264.6l-0.7 0.6M1628.8 234.1l0.2 1.5M1928.0 265.1l0.3 1.6M1929.6 170.3l-0.7 1.1M1816.4 297.7l-0.7 0.2M1785.2 89.0l0.6 0.3M1672.8 132.9l0.9 0.8M1715.8 144.2l-0.6 1.6M1901.7 127.4l-0.3 2.1M1737.4 284.3l1.7 0.2M1878.4 128.5l-0.3 0.2M1812.1 269.9l0.2 -1.1M1799.0 175.1l0.5 0.8M1958.4 151.3l-0.4 1.3M1648.2 265.9l0.5 0.7M1852.3 201.4l1.2 1.3M1716.7 138.2l-1.1 1.1M1798.9 88.4l1.7 -0.3M1948.4 291.7l0.8 1.0M1640.1 142.5l1.4 -1.6M1795.6 189.1l0.0 0.5M1848.5 253.1l0.4 -0.4M1924.9 222.8l0.9 0.1M1911.7 213.6l-1.2 1.0M1921.7 177.1l0.1 1.3M1921.8 114.9l0.2 1.1M1729.2 84.4l1.5 -1.1M1895.6 147.7l1.1 0.4M1687.1 192.4l1.2 1.4M1887.1 244.4l-0.1 2.1M1927.4 153.9l0.6 1.3M1771.9 89.3l1.5 0.7M1740.8 102.5l1.3 0.2M1913.8 176.7l-1.0 1.4M1954.6 202.0l1.4 -0.6M1807.2 92.4l1.0 0.5M1716.3 158.6l-0.6 1.4M1941.2 210.5l0.9 -0.2M1875.5 162.8l-0.6 2.0M1694.2 192.9l-0.0 0.6M1764.2 141.6l0.8 -1.0M1856.7 200.8l1.8 0.7M1763.4 216.0l1.7 -0.8M1701.9 176.2l-0.8 0.8M1871.3 229.0l-0.1 -1.8M1898.2 142.2l-0.2 1.9M1852.3 202.3l0.5 0.1M1938.1 135.7l1.0 1.9M1642.8 237.3l0.1 2.1M1673.8 86.9l-1.7 0.9M1707.2 202.6l1.9 0.3M1660.9 146.1l0.7 1.6M1736.0 268.9l-0.4 0.5M1655.1 116.1l-0.3 0.7M1747.4 81.5l1.9 0.3M1750.4 79.9l1.3 -0.2M1731.9 289.3l1.5 0.7M1910.5 87.3l0.6 -0.7M1733.5 268.3l0.5 1.2M1792.8 189.6l-0.2 1.1M1913.2 108.1l-1.0 0.8M1771.9 255.4l0.1 0.3M1840.4 248.9l0.7 -0.0M1868.5 234.6l0.9 -1.0M1706.8 178.0l0.2 1.5M1921.2 262.1l0.5 1.2M1713.0 282.3l0.6 -1.1M1918.4 167.6l-0.6 1.0M1638.5 257.9l0.4 1.0M1625.8 143.4l1.0 0.4M1916.5 210.6l0.5 0.3M1887.5 114.5l0.2 -0.4M1886.9 281.5l-0.6 0.4M1871.5 295.4l-0.1 1.4M1910.1 188.7l-0.7 1.8M1691.4 300.3l1.1 -1.5M1707.8 141.4l-1.3 1.5M1622.2 133.5l0.9 0.9M1664.3 197.5l1.1 0.0M1744.6 90.7l-0.2 1.1M1810.9 235.8l1.0 0.9M1677.2 160.7l0.1 0.7M1631.1 230.2l-0.7 0.7M1776.3 250.2l0.6 2.0M1731.7 120.2l-1.7 1.3M1925.0 124.6l-0.1 2.0M1936.1 215.0l1.0 -0.4M1866.6 281.6l-1.6 0.5M1723.4 288.5l-0.2 0.5M1627.5 145.2l0.7 0.2M1878.2 170.7l-1.7 0.6M1740.7 227.3l1.2 -0.4M1948.1 282.3l0.5 0.9M1943.6 97.0l-0.9 0.9M1841.4 245.7l1.3 -0.3M1795.8 215.6l1.4 0.0M1644.8 281.0l-0.5 0.8M1728.4 267.8l-0.5 0.6M1812.5 239.1l1.4 1.7M1901.4 225.3l-0.5 1.4M1716.1 282.0l0.6 -0.2M1658.1 136.7l0.2 0.4M1737.8 89.7l1.1 0.9M1738.3 172.3l0.9 -1.0M1955.4 293.4l-0.1 0.5M1929.3 213.2l-0.1 0.9M1802.9 85.3l-0.3 -1.2M1688.5 170.8l1.5 0.9M1731.1 114.0l-0.4 0.8M1927.4 134.9l-0.1 1.5M1902.1 139.6l-0.9 1.2M1705.9 191.8l0.0 1.7M1825.6 137.6l1.0 1.0M1870.9 270.9l-0.8 0.9M1624.3 172.4l0.0 0.3M1783.7 89.7l0.6 0.3M1743.5 229.6l0.9 0.0M1749.9 82.2l0.9 -0.4M1883.9 150.7l-0.1 0.4M1944.6 130.5l0.9 1.5M1730.5 121.6l-0.0 1.2M1893.7 102.5l1.3 -1.2M1724.3 176.9l0.8 -0.1M1625.7 179.2l0.8 1.9M1685.2 187.3l0.2 0.3M1901.2 258.7l-1.2 1.6M1813.4 252.5l0.2 -0.7M1790.5 211.4l0.5 0.1M1659.7 149.3l0.4 1.8M1719.1 150.9l-0.7 1.0M1885.1 147.5l1.5 0.5M1656.0 139.1l-0.1 0.8M1649.8 268.2l0.0 1.8M1875.1 219.7l1.7 -1.2M1622.3 194.6l-0.3 0.6M1849.7 153.7l0.2 1.1M1640.2 141.1l-0.7 0.9M1869.3 300.2l-1.1 1.7M1923.0 97.8l-0.8 1.2M1892.3 273.8l-0.4 2.1M1810.1 252.3l0.8 -0.6M1874.4 297.7l-0.8 0.8M1877.6 156.1l-1.0 0.6M1914.5 208.8l0.0 1.6M1719.7 138.3l-0.7 1.0M1774.7 267.7l0.3 1.4M1735.2 272.6l0.8 1.1M1933.4 123.5l-0.9 1.9M1672.0 150.8l0.6 1.1M1931.8 153.1l0.3 0.3M1753.3 303.4l0.3 2.1M1822.0 201.9l-1.4 -0.2M1634.1 249.6l1.0 1.1M1734.0 283.8l0.5 0.2M1951.8 84.0l-0.7 0.9M1868.3 236.8l0.5 -1.4M1634.5 259.5l0.3 1.5M1895.7 242.8l-0.1 1.2M1876.9 167.9l-0.6 0.3M1901.8 269.7l-1.5 0.8M1807.9 261.5l-0.0 -1.1M1629.9 165.9l-0.9 0.6M1870.6 269.9l-1.8 1.0M1746.3 85.7l0.3 -0.1M1657.3 261.3l-0.8 1.4M1724.8 271.0l2.0 0.0M1906.1 245.6l-0.3 0.7M1634.9 222.9l1.7 1.0M1913.5 124.9l-1.2 1.3M1914.6 211.2l-1.7 0.8M1746.8 143.8l-0.3 -1.6M1797.6 218.0l0.6 1.8M1815.6 200.1l-0.9 0.3M1760.3 113.5l0.8 -0.7M1679.4 175.2l1.5 0.7M1861.5 196.8l-0.1 1.0M1751.0 81.1l0.7 -0.3M1963.2 163.6l1.0 0.9M1801.7 220.1l0.0 2.1M1793.2 87.3l1.0 0.8M1712.8 166.1l-0.1 0.4M1713.1 160.8l-0.1 0.5M1952.8 161.1l0.6 1.0M1649.2 284.0l-0.3 0.5M1753.3 84.3l0.9 -0.1M1812.0 299.7l-1.6 0.6M1773.7 214.6l1.2 -1.2M1791.7 199.0l-0.1 0.5M1667.9 155.4l0.9 0.5M1617.6 178.9l-0.3 0.9M1916.4 108.0l-0.6 1.2M1697.2 299.4l0.5 -1.4M1842.9 87.3l1.4 -1.3M1890.9 279.8l-0.4 0.3M1669.3 166.3l2.0 0.9M1840.0 162.5l-0.7 0.5M1723.5 91.2l0.5 0.1M1895.7 147.7l0.9 1.0M1664.5 153.7l0.9 2.0M1896.3 89.7l0.8 -1.4M1925.2 95.1l0.2 0.5M1851.7 242.9l0.5 -0.8M1927.8 100.8l0.0 0.4M1912.6 86.6l0.7 -0.3M1682.4 149.4l0.2 1.5M1635.7 154.4l-0.5 0.3M1744.7 244.0l-1.1 1.6M1883.6 206.6l0.8 -1.4M1899.7 143.6l-0.3 0.2M1749.8 296.5l0.3 0.4M1727.8 283.7l1.2 -0.3M1641.2 283.9l-0.5 0.4M1890.6 244.7l-0.0 0.8M1872.6 139.4l1.7 0.7M1622.0 217.3l0.2 0.4M1669.4 143.3l0.2 1.4M1660.6 273.2l-0.3 0.7M1739.0 291.4l0.4 1.9M1805.2 90.2l0.3 0.4M1800.3 160.4l-0.5 1.8M1855.1 247.2l0.1 -0.3M1924.2 152.2l0.8 1.6M1765.4 80.7l1.0 0.0M1638.1 160.3l-1.7 0.8M1704.8 176.6l-0.5 1.1M1667.2 90.1l-1.2 1.1M1643.8 274.0l-0.1 1.1M1743.1 224.9l-1.0 1.5M1706.5 202.7l1.3 0.4M1776.5 274.4l0.4 0.3M1928.5 184.7l-0.1 0.4M1701.2 159.0l0.4 1.6M1774.4 274.5l1.3 1.5M1705.9 290.4l1.0 -1.4M1887.5 157.3l-0.7 1.8M1772.4 77.2l1.0 0.8M1928.1 273.7l0.5 -0.5M1797.3 224.8l0.4 0.2M1927.8 95.3l-0.7 0.8M1730.0 217.2l1.9 0.6M1854.2 275.5l-0.7 0.5M1838.7 259.8l-0.4 0.4M1953.7 211.1l0.9 -0.0" fill="none" stroke="#4b4a70" stroke-width="3.3" stroke-linecap="round" stroke-linejoin="round" opacity="0.9" />
<path d="M1924.3 107.4l-0.0 0.5M1618.9 141.4l1.0 0.8M1896.2 253.4l-0.1 0.8M1637.8 258.6l1.7 1.1M1665.5 105.4l-0.2 1.3M1832.0 201.6l-0.9 -0.3M1729.3 167.5l2.1 -0.7M1908.3 240.6l-0.8 0.6M1921.0 89.8l0.3 0.3M1952.7 152.9l0.5 1.2M1764.2 74.2l1.3 0.3M1774.6 271.9l0.3 1.9M1907.5 218.1l-0.5 0.2M1799.5 174.1l-0.5 1.1M1930.4 218.2l0.3 0.0M1734.4 110.9l-0.3 0.2M1666.5 111.7l-0.9 1.1M1919.2 168.1l0.4 2.0M1862.1 193.3l-0.3 0.9M1729.6 290.0l0.9 1.6M1715.9 298.9l1.0 -0.8M1775.9 286.9l1.7 0.1M1938.0 284.0l0.9 1.0M1673.9 92.7l-0.9 1.9M1964.2 86.0l0.1 1.7M1655.2 202.0l1.4 0.3M1928.4 266.2l0.5 0.4M1689.9 176.1l0.4 0.4M1686.4 178.9l1.2 0.5M1971.2 187.7l-0.2 0.5M1884.6 258.4l-0.6 0.5M1655.0 122.3l-1.2 1.0M1709.7 290.4l0.7 -1.6M1917.7 87.9l-0.2 2.1M1834.8 271.7l-0.8 1.5M1960.9 194.2l2.0 -0.2M1900.7 137.4l-0.3 0.8M1719.9 212.6l2.1 0.5M1921.8 225.0l-0.3 0.3M1891.9 143.0l-0.8 0.4M1748.0 86.9l-0.6 0.5M1735.8 114.0l-0.2 1.6M1836.2 150.4l0.9 -1.1M1883.0 256.7l-0.7 1.5M1894.0 116.4l0.6 -1.0M1742.6 94.5l1.1 0.4M1896.4 149.2l-0.1 0.7M1916.8 144.9l1.1 1.7M1723.3 278.3l-1.7 1.4M1964.0 196.9l0.6 0.5M1729.0 217.0l0.6 1.1M1694.3 196.2l0.2 0.9M1925.1 109.2l-0.4 0.3M1640.6 151.7l0.3 -0.4M1654.1 142.2l-0.0 0.8M1628.9 222.8l0.3 0.4M1744.1 89.5l-0.7 1.1M1783.7 86.6l1.0 0.3M1719.3 217.1l0.7 0.8M1652.5 258.1l-0.5 1.3M1929.6 137.1l-0.5 0.9M1709.5 186.5l-0.6 1.0M1866.2 165.4l-1.1 0.7M1640.2 291.2l-0.1 0.7M1720.3 285.7l1.5 0.2M1818.8 245.3l0.9 0.0M1943.7 124.7l-0.6 1.1M1663.4 99.0l-1.2 1.0M1720.5 142.9l-0.8 1.0M1731.4 127.9l-0.5 1.2M1736.0 299.2l0.5 0.7M1889.5 241.3l-0.6 1.5M1711.1 166.1l-1.1 1.0M1745.7 224.8l1.3 0.3M1797.8 281.0l0.5 -0.3M1693.2 288.7l0.9 -2.0M1640.5 193.0l1.0 -1.3M1649.2 129.0l0.5 0.7M1708.6 176.9l-0.5 1.7M1880.2 204.6l-0.0 -0.3M1854.8 79.0l1.6 -0.8M1922.3 96.0l-0.0 1.1M1769.1 83.0l0.7 0.3M1805.1 92.7l1.1 1.0M1710.5 289.5l0.6 0.4M1769.0 257.8l0.6 2.0M1950.2 156.7l0.6 1.8M1640.0 264.7l0.2 0.5M1727.1 275.2l0.7 1.6M1772.0 133.1l1.5 -0.8M1856.0 242.0l0.2 -0.5M1679.1 181.7l0.7 1.0M1728.5 216.2l0.7 1.1M1666.2 150.8l0.4 0.7M1791.7 291.7l0.8 -0.7M1944.9 199.1l0.4 -0.2M1731.6 285.8l-0.1 0.4M1903.5 133.0l0.2 2.0M1918.7 109.2l-0.2 0.9M1732.3 169.3l1.0 -1.0M1675.4 160.7l0.6 0.4M1746.0 94.3l1.3 1.0M1660.1 200.7l2.1 -0.1M1720.9 145.7l-0.4 1.7M1732.2 91.5l1.4 -0.7M1876.0 138.7l-0.5 1.1M1702.9 176.3l-1.4 1.6M1927.0 224.9l-0.4 0.7M1929.5 140.4l-0.2 0.4M1726.3 89.8l1.0 -0.4M1895.8 114.6l1.8 -1.2M1701.2 172.8l-1.5 1.6M1876.8 260.3l-1.3 1.2M1922.0 265.1l1.2 0.9M1948.6 208.8l0.3 -0.1M1788.1 137.9l0.3 1.3M1794.4 286.2l1.1 -1.2M1843.3 178.7l0.6 0.4M1743.7 102.9l-0.5 0.6M1855.4 245.3l1.4 -0.3M1743.8 225.5l1.1 0.9M1898.0 229.8l-1.6 1.3M1694.0 295.5l0.2 -1.6M1633.3 242.7l1.4 1.2M1742.7 99.6l-1.3 1.4M1652.8 144.7l-0.5 1.0M1676.7 73.0l-1.4 1.4M1678.8 166.4l1.6 1.1M1664.1 108.3l0.2 1.0M1794.4 84.4l1.3 0.2M1803.8 228.2l0.4 0.2M1855.7 190.3l0.7 0.9M1918.5 189.5l0.3 1.1M1626.0 168.7l-0.5 0.7M1676.0 92.5l-0.4 0.4M1965.2 189.9l1.1 0.9M1740.3 108.7l-1.5 0.9M1896.5 96.6l1.1 -1.2M1670.3 168.4l0.3 0.3M1728.3 264.0l0.1 0.9M1648.6 134.5l0.6 1.1M1917.1 100.6l-0.2 0.7M1907.2 220.4l-1.1 1.1M1679.7 161.6l1.3 1.1M1699.8 176.9l-0.6 0.6M1743.7 105.6l-1.3 1.7M1738.8 113.3l-1.7 1.1M1864.0 179.0l-1.3 1.3M1646.1 265.8l0.8 1.1M1771.4 112.6l0.3 -0.3M1772.4 255.5l0.1 1.7M1831.3 279.7l-0.2 1.2M1778.4 286.1l0.4 0.3M1803.1 274.8l1.0 -1.4M1888.8 276.1l-0.7 0.8M1715.1 273.6l0.5 -1.1M1965.1 176.0l-0.5 0.4M1626.5 187.1l-0.2 0.4M1738.8 237.2l-0.0 0.7M1726.3 120.8l-0.1 0.5M1911.6 129.1l0.0 0.7M1920.0 194.2l-0.4 0.6M1637.9 220.2l0.3 0.3M1688.9 171.3l0.6 1.8M1798.3 283.8l1.3 -0.9M1692.3 301.1l0.8 -1.0M1773.4 211.2l1.6 0.5M1920.0 207.0l1.9 0.8M1731.9 229.1l-0.4 0.2M1933.4 96.8l-1.8 1.3M1727.9 113.8l-0.2 1.2M1795.8 147.5l1.2 1.3M1947.6 96.9l-0.0 1.0M1913.8 237.9l-1.7 1.2M1818.5 238.7l0.5 1.3M1756.5 146.4l0.4 -0.8M1837.2 267.7l-1.2 1.1M1937.2 295.5l1.0 0.9M1679.3 91.8l-1.0 1.8" fill="none" stroke="#66525c" stroke-width="3.6" stroke-linecap="round" stroke-linejoin="round" opacity="0.9" />
<path d="M1961.1 183.9l-0.3 1.1M1797.7 175.0l-1.1 1.1M1921.9 169.8l0.4 1.7M1778.6 209.7l2.0 0.4M1826.4 291.3l-0.6 0.7M1679.0 310.6l1.5 -1.2M1836.7 201.0l-0.3 0.6M1696.7 199.8l0.1 0.5M1657.2 116.8l-1.0 1.2M1655.2 199.2l1.2 1.4M1809.6 265.0l1.0 -1.9M1913.0 190.3l-1.0 1.5M1655.2 258.1l-0.8 0.8M1899.5 99.5l0.4 -0.6M1763.2 136.3l1.3 -0.0M1733.5 99.4l0.5 0.4M1882.5 156.0l-0.9 2.0M1870.9 176.5l-0.8 0.6M1669.4 163.8l0.2 0.3M1943.6 103.1l-1.6 1.3M1698.0 183.5l0.0 0.4M1633.7 231.0l0.3 2.1M1840.0 182.0l0.6 2.1M1882.3 282.6l-0.6 0.7M1726.5 142.9l-0.3 0.7M1741.6 295.2l2.0 0.3M1689.8 181.0l0.0 1.5M1639.5 146.2l0.5 -0.3M1922.6 216.8l0.9 -0.2M1784.5 106.6l0.6 -0.4M1681.9 79.2l-0.2 0.7M1705.4 290.6l0.1 -0.7M1947.2 152.3l-0.2 0.7M1729.8 121.3l-0.0 1.1M1776.2 137.5l1.2 0.8M1919.8 214.2l0.2 0.3M1716.7 83.8l1.1 -0.7M1655.9 103.2l-0.7 1.1M1966.0 194.7l0.1 1.1M1746.8 160.8l0.9 -1.8M1838.1 267.5l-1.3 1.6M1639.7 247.2l0.4 0.8M1748.2 85.9l1.6 0.4M1910.8 209.2l-1.1 1.9M1623.9 191.0l-0.1 2.1M1915.8 193.8l-0.1 0.5M1719.0 160.6l-0.1 0.3M1932.5 276.4l0.5 -0.2M1858.4 186.5l-0.3 0.2M1887.4 126.8l0.6 -0.5M1795.0 161.7l0.2 0.6M1655.5 135.0l0.3 0.5M1926.5 189.1l-0.1 0.9M1917.3 92.3l1.4 1.3M1904.4 245.9l-0.2 0.7M1887.5 160.6l-0.7 0.8M1825.6 244.6l1.1 0.1M1845.2 252.1l-0.3 1.0M1906.3 125.5l-0.4 0.4M1961.1 91.4l0.2 1.9M1748.0 167.8l0.8 -0.6M1804.5 90.3l1.6 1.2M1618.0 169.6l0.0 0.3M1842.3 88.9l0.7 -1.5M1659.3 142.7l1.0 0.5M1801.4 93.0l0.8 -0.2M1646.5 132.2l0.1 1.7M1923.8 174.2l-0.5 0.5M1724.7 204.3l1.5 0.2M1647.4 131.8l-0.3 1.5M1654.3 279.5l-0.1 0.3M1729.3 281.9l-0.7 1.6M1907.7 240.9l-0.9 1.7M1738.7 224.1l0.4 0.9M1838.6 252.3l1.8 -0.9M1925.5 153.7l-0.2 0.4M1752.9 152.3l0.7 -1.6M1645.3 264.6l0.6 1.4M1688.1 301.7l0.2 -0.5M1954.3 102.5l-0.6 0.7M1708.6 210.0l2.1 0.5M1893.4 275.6l-0.4 0.6M1803.4 272.3l0.5 -0.9M1623.2 188.4l0.0 0.7M1643.2 195.8l1.1 0.1M1646.3 280.9l0.0 1.9M1952.0 192.4l0.2 -0.3M1777.1 214.1l1.9 0.5M1921.6 255.6l0.9 0.4M1756.1 121.3l0.9 -0.1M1803.1 233.5l0.5 0.5M1873.1 229.8l-0.0 -1.1M1927.2 115.5l-0.5 1.9M1735.8 252.8l-0.7 0.8M1696.3 189.7l0.2 0.9M1889.7 107.8l1.6 -1.0M1959.7 164.0l0.6 0.3M1937.4 83.1l-1.0 1.8M1648.7 281.2l-0.0 1.2M1826.9 245.4l0.3 0.2M1734.4 292.1l1.5 0.8M1695.6 302.3l0.4 -0.2M1702.3 163.4l0.2 0.9M1913.7 202.9l-0.1 0.6M1931.4 142.8l-0.6 0.7M1642.5 160.9l-1.1 0.8M1854.0 277.6l-0.6 0.8M1942.0 292.9l-0.5 1.4M1850.6 142.1l0.3 0.5M1740.4 303.9l0.5 0.6M1744.7 228.1l1.6 -1.1M1901.8 261.1l-1.4 1.6M1754.5 77.5l2.1 -0.1M1924.8 81.4l0.2 2.1M1860.2 180.7l-0.2 0.5M1888.6 129.1l0.0 0.7M1762.9 220.8l0.9 -0.1M1623.0 185.4l-0.1 0.6M1924.6 212.5l-0.6 1.7M1633.9 161.9l-0.5 0.6M1667.4 147.0l1.7 0.8M1963.8 92.1l0.3 1.8M1724.2 121.1l-0.3 0.3M1740.4 238.0l-1.1 1.7M1832.3 142.2l0.4 0.6M1915.3 185.8l-0.3 0.8M1945.4 128.8l0.0 1.0M1862.6 182.6l-0.7 0.3M1784.1 78.1l1.9 -0.5M1891.2 103.7l0.2 -1.1M1946.2 213.2l1.9 -0.3M1737.2 237.2l-0.4 0.6M1908.8 122.0l-0.3 0.6M1906.9 260.6l-0.3 0.4M1696.7 186.1l-0.4 0.9M1673.7 85.5l-0.4 0.3M1743.1 281.5l0.5 0.3M1783.9 136.9l1.9 1.0M1705.6 295.8l1.0 -1.3M1895.8 98.7l1.2 -1.7M1765.1 80.3l1.4 -0.2M1901.6 225.6l-0.5 0.8M1635.7 153.6l-0.2 2.2M1887.7 279.6l-0.2 1.5M1957.2 181.8l-1.6 1.3M1957.8 187.1l-0.2 1.0M1732.2 122.6l-0.1 1.9M1939.9 129.5l-0.2 0.7M1785.9 284.2l0.9 0.2" fill="none" stroke="#3b3f78" stroke-width="3.0" stroke-linecap="round" stroke-linejoin="round" opacity="0.9" />
</g>
<text x="1634.2" y="298.5" font-family='"Liberation Sans", sans-serif' font-size="5.2" fill="#333">50 μm</text>
<path d="M1628.2 300.6v2.2h32v-2.2" fill="none" stroke="#444" stroke-width="0.6" />
</g>
<g clip-path="url(#cC3)">
<rect x="1257.40" y="324.40" width="349.50" height="234.20" fill="#dfe1ee" stroke="none" stroke-width="0" />
<g filter="url(#bl6)">
<ellipse cx="1477" cy="458" rx="13" ry="9" fill="#eef0f6" opacity="0.9"/>
<ellipse cx="1455" cy="471" rx="7" ry="6" fill="#eef0f6" opacity="0.8"/>
<ellipse cx="1361" cy="481" rx="7" ry="6" fill="#eceef5" opacity="0.8"/>
<ellipse cx="1413" cy="438" rx="11" ry="7" fill="#e6e9f2" opacity="0.7"/>
<ellipse cx="1328" cy="373" rx="22" ry="17" fill="#c2c9e0" opacity="0.6"/>
<ellipse cx="1527" cy="373" rx="28" ry="18" fill="#c4cbe2" opacity="0.5"/>
<ellipse cx="1305" cy="503" rx="22" ry="17" fill="#c7cde2" opacity="0.5"/>
<ellipse cx="1555" cy="503" rx="24" ry="18" fill="#c9cfe4" opacity="0.5"/>
<ellipse cx="1490" cy="531" rx="18" ry="11" fill="#e3e6ef" opacity="0.6"/>
</g>
<g filter="url(#bl05)" opacity="0.9">
<path d="M1512.8 520.4l-0.3 2.8M1403.7 531.2l-0.3 2.9M1417.3 503.7l-0.5 0.1M1405.5 471.2l-1.3 0.7M1277.7 493.2l0.5 0.8M1270.3 352.7l0.1 2.1M1488.1 535.9l-1.4 0.9M1558.1 505.5l-1.4 2.3M1297.0 382.7l1.2 2.4M1312.6 537.0l-0.2 0.3M1405.8 483.4l2.2 1.9M1508.6 355.0l0.6 0.5M1481.2 501.7l-2.3 1.0M1564.0 536.7l-1.7 0.6M1326.4 375.0l-0.6 1.2M1600.5 387.0l-0.9 2.6M1426.2 465.8l0.0 0.3M1417.3 473.8l0.7 2.6M1522.3 486.1l2.1 1.1M1296.6 556.1l-1.8 0.4M1396.1 546.7l0.6 0.2M1290.4 443.5l-1.0 1.6M1602.7 338.6l2.2 1.8M1321.3 507.9l1.1 0.2M1350.1 512.5l2.8 0.6M1434.0 435.2l-0.7 0.8M1319.6 368.3l-0.8 2.3M1274.5 442.0l1.5 0.9M1546.1 473.8l2.9 0.4M1359.9 342.5l-0.1 0.5M1301.2 412.7l2.8 1.5M1562.0 446.7l0.1 3.1M1427.8 381.6l1.7 0.8M1320.2 451.9l1.1 2.0M1574.6 406.3l0.2 0.5M1461.9 462.7l-0.2 0.6M1422.1 330.3l1.4 0.0M1260.3 534.8l0.3 1.3M1572.3 397.0l1.2 2.8M1586.1 372.4l0.6 0.4M1513.4 448.9l1.5 1.8M1503.9 374.9l1.6 0.6M1481.0 537.9l-2.6 1.8M1414.9 429.3l0.2 3.0M1519.6 465.7l0.1 1.4M1377.4 508.8l-0.6 0.7M1329.5 383.0l-2.2 1.9M1454.9 359.7l-0.1 0.4M1589.4 390.3l-0.8 1.0M1393.9 370.3l2.6 1.8M1262.7 527.9l-0.1 0.7M1374.1 446.6l-2.8 1.6M1551.4 389.9l-0.5 0.4M1459.8 369.1l-0.5 2.6M1266.1 423.1l-0.7 0.1M1519.3 478.2l-1.0 2.8M1284.8 428.6l-2.3 0.0M1377.4 351.5l0.4 3.2M1581.4 418.4l-1.2 2.1M1433.0 333.5l-1.0 0.8M1498.6 449.3l-0.8 2.7M1523.4 524.5l-0.1 0.9M1542.9 326.8l-2.3 1.1M1432.4 470.4l1.8 1.0M1579.5 435.3l-1.6 2.0M1374.7 500.6l2.5 1.8M1411.0 542.0l0.5 0.1M1403.5 515.3l1.0 0.7M1304.6 429.1l0.2 1.4M1434.0 361.2l2.0 1.7M1392.1 413.5l1.2 2.5M1531.7 436.8l-1.4 1.3M1345.8 362.0l-0.9 3.1M1585.5 362.2l1.6 0.7M1545.8 492.2l-1.4 0.7M1351.6 554.3l-1.8 0.3M1350.1 373.3l-2.7 0.7M1410.2 447.2l1.9 2.6M1367.5 499.1l1.0 0.3M1589.3 423.5l-2.7 0.9M1462.9 444.5l0.0 0.8M1477.5 342.1l-0.8 2.0M1518.3 357.4l0.9 0.3M1578.2 445.0l2.7 1.4M1393.6 468.4l0.6 2.4M1437.6 536.0l-2.1 0.3M1345.1 410.3l-2.2 1.3M1601.4 359.0l-0.9 0.1M1443.0 504.7l-0.2 0.5M1346.4 430.8l-0.2 0.5M1404.0 342.7l2.1 1.8M1522.4 423.1l2.2 2.3M1430.9 441.8l0.2 3.2M1466.2 513.2l1.1 1.6M1360.6 324.6l-1.1 0.4M1316.9 391.0l-1.3 2.6M1316.0 552.4l-0.2 0.6M1439.0 441.8l0.4 1.1M1406.1 397.2l0.7 2.7M1298.1 425.6l-0.4 1.4M1409.7 523.4l-0.3 0.9M1262.7 449.7l-0.4 0.2M1371.0 437.5l0.6 0.6M1542.9 533.7l-2.1 0.7M1280.9 434.4l0.3 1.8M1318.0 443.5l-1.8 2.4M1367.9 507.9l-2.7 1.1M1324.5 428.3l-0.0 0.4M1473.7 399.4l-1.0 2.6M1518.4 540.8l-1.4 0.8M1320.4 518.9l-0.2 0.5M1454.7 427.6l1.1 0.7M1377.7 343.4l0.7 1.6M1552.0 489.5l-0.6 0.5M1539.2 545.7l-0.9 1.9M1349.5 524.0l0.3 0.1M1415.5 523.5l3.1 0.8M1352.5 474.0l0.3 0.7M1427.9 343.4l-0.4 3.1M1529.2 527.0l2.9 0.3M1525.6 355.2l3.2 0.7M1364.4 430.2l-0.7 2.7M1327.1 447.5l-2.7 0.5M1445.7 470.6l0.1 2.4M1499.4 428.1l0.3 1.1M1477.5 409.2l1.6 1.4M1300.5 360.4l0.8 0.5M1368.5 362.4l0.7 1.0M1607.4 512.2l-2.4 0.6M1391.9 487.4l-2.2 2.1M1530.6 536.9l0.0 0.4M1335.7 386.4l0.5 2.2M1533.8 351.6l0.5 0.3M1529.7 543.9l-2.2 0.3M1588.3 461.8l-1.7 1.0M1419.7 407.3l-1.2 2.4M1387.4 422.8l-0.6 1.2M1458.9 516.3l-2.5 0.6M1495.5 401.5l-0.5 0.1M1291.1 535.4l-0.6 1.2M1412.4 364.9l1.5 0.0M1321.1 419.9l2.0 0.7M1309.1 465.4l0.7 2.9M1385.4 491.0l-2.9 0.4M1377.2 430.8l-2.5 0.4M1339.0 356.4l-1.2 1.0M1554.8 447.9l0.7 0.6M1562.1 327.7l1.3 1.1M1447.3 514.2l0.1 1.0M1337.4 423.6l-3.4 0.2M1346.4 388.6l0.6 1.8M1325.2 341.5l-0.4 1.2M1509.6 367.2l-1.7 2.6M1415.1 394.0l-1.4 2.9M1563.4 364.8l-2.2 0.9M1354.4 541.3l-1.6 1.0M1567.9 368.3l2.5 2.2M1289.7 496.6l-1.4 1.4M1587.5 381.0l0.1 2.2M1295.4 508.5l2.8 1.8M1389.4 376.0l0.7 0.2M1279.6 485.2l-1.3 2.8M1518.1 379.0l1.6 0.6M1496.2 328.3l1.7 1.0M1579.4 545.6l2.4 2.0M1271.6 416.3l-0.8 1.3M1269.0 327.9l0.5 1.6M1467.6 392.5l2.6 0.3M1344.3 332.9l-1.0 1.0M1330.3 460.7l-0.9 0.7M1379.9 424.6l0.4 1.4M1380.4 391.1l0.4 0.0M1324.4 466.5l-0.3 0.3M1587.3 545.3l3.1 1.2M1360.1 453.9l-2.2 2.3M1257.3 548.9l1.9 1.2M1520.1 512.6l-1.2 0.9M1423.6 522.1l0.8 0.2M1495.9 364.9l-1.0 0.6M1397.3 396.3l0.4 1.8M1382.1 371.8l0.7 1.2M1565.5 484.9l1.5 2.4M1375.2 334.5l-1.9 1.3M1423.7 338.9l-0.6 1.2M1400.8 555.5l-1.6 0.1M1512.1 362.0l0.7 1.2M1495.8 470.9l-0.5 2.2M1260.8 349.2l-0.3 0.7M1471.4 539.4l-2.7 0.4M1399.1 475.4l0.9 1.8M1501.0 457.3l1.5 3.0M1604.7 491.8l2.0 0.7M1264.9 379.7l-0.7 3.1M1376.1 360.2l-0.5 0.4M1464.3 492.8l-0.0 2.2M1281.7 479.4l-0.4 1.0M1531.2 489.4l0.3 1.1M1264.4 395.9l0.2 1.0M1543.0 441.0l1.7 0.6M1367.5 518.5l1.1 0.4M1296.0 470.7l-1.3 3.1M1415.1 328.4l0.4 0.5M1460.7 533.1l2.9 0.4M1460.1 433.7l-3.2 1.0M1488.9 411.2l-2.2 0.5M1584.1 334.7l0.9 1.6M1532.9 326.5l-0.5 1.0M1476.9 433.8l-1.3 1.4M1551.8 407.3l-2.0 0.7M1334.8 545.2l2.3 1.8M1520.8 365.5l-1.0 1.6M1373.7 454.6l-0.2 1.5M1485.9 403.2l-3.1 0.2M1386.2 432.6l0.4 0.7M1542.3 552.8l2.5 1.4M1340.0 369.3l-0.6 0.3M1388.1 462.3l-0.5 0.2M1285.2 542.2l1.5 0.1M1526.8 468.6l0.4 1.2M1557.8 493.7l-0.9 1.7M1329.1 510.5l-1.9 0.9M1392.8 557.1l-0.3 0.4M1265.8 369.1l0.4 0.5M1502.3 397.5l0.2 1.1M1515.6 423.3l-0.7 0.8M1546.3 449.8l-1.4 2.6M1514.4 431.9l2.2 2.4M1304.9 535.6l1.1 1.9M1297.1 454.6l0.1 0.4M1578.1 350.6l1.2 0.4M1416.6 443.7l1.9 1.4M1351.8 363.6l1.9 0.6M1380.7 516.6l0.6 3.0M1316.1 499.2l2.2 0.5M1508.7 325.2l-0.4 0.2M1568.2 540.9l1.0 2.8M1373.5 494.6l1.2 0.0M1332.3 475.7l-1.7 1.3M1269.8 500.6l-1.7 0.9M1278.7 326.3l-0.1 2.6M1553.5 326.9l0.8 1.1M1420.8 482.9l0.8 0.4M1513.1 402.7l0.2 2.4M1370.0 324.5l1.5 3.0M1519.3 503.8l-2.1 0.5M1567.5 390.0l-0.3 0.9M1512.2 386.9l0.5 2.8M1304.4 479.0l-3.3 0.0M1362.4 334.2l-2.4 1.1M1448.1 430.1l0.3 0.9M1319.9 351.4l0.1 0.5M1387.4 551.0l0.4 0.7M1337.7 484.8l-1.8 2.4M1543.9 354.8l-0.0 0.4M1432.9 370.3l-2.5 1.2M1448.4 381.8l1.9 1.0M1540.7 334.9l-0.1 0.5M1400.9 490.3l2.6 0.0M1406.2 547.2l2.0 1.1M1556.2 372.4l1.4 0.5M1473.3 335.9l2.0 0.9M1487.1 460.2l1.5 2.5M1371.6 466.4l1.6 1.1M1448.0 461.8l-1.3 0.7M1458.0 478.0l-1.4 2.2M1541.3 478.9l-0.4 1.9M1462.4 361.3l-0.3 0.6M1494.9 412.7l3.1 1.0M1257.7 419.3l0.5 0.6M1504.6 413.2l0.5 3.0M1583.4 555.9l-2.4 1.9M1587.2 512.1l-0.2 0.8M1447.1 529.6l0.0 2.8M1522.4 555.7l1.2 0.4M1541.7 429.4l0.7 0.9M1362.7 448.2l-2.0 0.5M1265.9 361.1l0.6 0.4M1593.7 358.8l-1.3 0.4M1360.4 420.0l0.4 0.7M1313.5 544.8l0.6 2.5M1576.4 476.7l1.8 2.1M1410.6 416.1l0.3 2.0M1550.8 415.1l0.4 1.9M1295.3 433.2l-0.5 0.9M1401.3 508.2l-0.2 1.5M1275.8 379.4l-1.6 1.0M1505.4 382.5l2.6 0.9M1530.3 461.7l1.5 1.4M1396.4 450.8l-0.1 0.4M1487.6 469.7l-0.5 0.3M1327.5 434.0l2.0 2.1M1297.7 401.5l1.0 1.8M1500.5 384.4l-1.9 0.0M1496.8 420.5l2.0 1.1M1572.6 413.8l-0.1 2.3M1558.0 482.8l-0.4 0.3M1584.0 469.7l2.5 0.1M1311.5 399.8l-0.9 3.1M1298.0 533.6l-0.5 2.1M1474.4 533.3l1.2 0.7M1606.9 477.6l-0.4 0.4M1314.2 506.5l-2.1 1.0M1343.4 325.8l0.7 1.3M1589.6 505.1l1.3 2.5M1393.6 348.6l1.4 1.4M1471.6 480.1l0.4 0.2M1280.7 452.6l-2.2 1.6M1486.1 548.3l-1.9 0.7M1486.8 484.4l-3.0 1.1M1310.1 394.5l-3.2 0.3M1501.8 530.8l0.5 1.1M1524.6 328.1l-0.6 0.2M1524.1 435.4l0.1 1.9M1406.0 367.6l1.1 2.5M1547.5 399.8l0.1 0.7M1396.2 530.7l-0.7 0.3M1528.0 518.4l-0.3 1.3M1361.8 413.2l0.5 0.5M1393.7 436.1l-1.6 2.1M1440.2 336.1l0.4 0.5M1330.3 396.3l2.8 0.1M1287.2 327.7l1.9 0.8M1502.2 436.3l-0.6 1.0M1557.2 383.4l0.3 3.4M1381.1 404.3l2.2 0.2M1358.0 395.3l0.4 0.9M1458.2 556.5l-1.2 0.6M1314.7 453.2l-3.2 0.0M1463.7 323.9l2.0 1.2M1374.8 487.0l1.9 0.1M1386.7 385.1l-1.7 1.1M1572.0 360.1l0.7 0.2M1415.4 438.0l-0.8 0.0M1358.1 505.7l1.1 0.3M1607.6 531.5l-2.4 0.7M1464.4 400.9l-0.7 0.1M1336.2 414.5l0.5 0.2M1480.3 354.9l-0.2 0.3M1285.2 400.5l1.5 0.6M1283.4 411.1l-0.4 0.4M1355.3 430.1l-0.1 0.8M1476.8 523.2l-1.9 0.2M1471.8 377.3l-2.5 0.7M1427.1 406.2l-0.0 0.8M1292.5 365.9l1.2 0.2M1279.5 350.1l-1.1 2.7M1307.7 381.9l-2.0 2.3M1397.3 516.9l-0.6 0.6M1436.3 376.3l-1.4 1.9M1438.8 327.6l-3.1 1.1M1592.6 551.2l-1.3 1.9M1576.9 484.7l-1.1 2.7M1424.9 359.7l0.2 2.3M1368.5 481.1l-1.8 0.9M1315.2 476.1l-0.7 2.0M1540.1 501.7l0.5 1.0M1567.8 381.0l-1.4 1.8M1464.4 353.0l-0.5 1.1M1420.4 370.1l-0.3 0.7M1476.8 440.9l1.6 2.2M1537.9 444.7l-0.2 2.6M1439.0 488.4l2.1 0.9M1403.1 381.1l-1.7 1.7M1418.7 352.5l0.8 0.4M1433.2 349.8l-0.3 0.8M1597.6 537.3l0.1 0.7M1302.1 442.7l-0.1 1.5M1311.1 484.0l-0.9 0.3M1297.7 499.3l0.6 0.7M1567.3 408.5l0.7 1.0M1480.9 475.9l1.6 1.7M1536.8 431.2l-3.1 0.8M1415.4 513.5l-0.7 1.1M1395.5 482.0l0.4 3.1M1412.5 336.2l2.1 1.4M1463.7 471.0l-3.1 0.9M1572.7 514.4l1.5 0.4M1354.6 489.7l-1.9 0.4M1260.3 402.4l1.7 1.3M1434.6 513.8l-0.1 0.5M1305.7 494.9l0.6 1.7M1367.2 541.7l-1.5 2.5M1334.0 443.5l-1.4 0.7M1595.9 483.2l3.0 0.4M1522.7 547.5l0.1 0.8M1471.5 384.4l-0.8 1.6M1439.1 449.3l1.6 1.6M1372.8 546.7l-0.3 0.7M1432.6 486.9l0.4 0.4M1423.3 446.3l1.6 0.9M1595.5 442.0l0.5 1.6M1406.6 325.2l0.3 0.4M1381.2 445.6l-1.6 1.6M1534.6 393.0l-1.7 1.0M1260.0 496.8l-2.3 0.7M1278.9 520.9l0.2 1.1M1264.1 541.1l0.1 0.6M1303.7 345.2l1.0 1.7M1555.9 549.3l1.4 0.5M1273.1 429.1l0.9 0.1M1557.1 426.5l1.0 0.0M1562.9 459.0l2.7 1.0M1484.1 324.7l-0.7 1.6M1308.8 332.9l-0.7 3.1M1307.4 356.7l-0.2 0.8M1401.1 352.4l-0.4 1.2M1318.3 530.1l-0.1 0.7M1435.7 463.0l0.3 0.5M1264.7 474.1l0.5 1.3M1368.6 528.2l-2.4 1.8M1286.7 484.3l-0.1 1.7M1552.4 515.2l-0.1 2.1M1600.5 472.3l0.6 1.3M1461.3 378.2l-0.8 1.6M1314.9 426.7l1.5 0.9M1434.8 522.1l-1.4 0.3M1489.4 426.1l-3.3 0.3M1380.6 459.6l0.9 3.1M1377.3 417.7l0.9 1.1M1468.7 528.8l-0.6 2.8M1363.3 549.1l-0.6 0.1M1298.4 393.5l2.8 1.1M1264.5 344.1l3.2 0.7M1447.7 453.5l-1.0 0.9M1530.3 368.2l2.9 1.7M1567.4 522.5l0.5 0.3M1585.2 453.0l2.8 0.5M1515.8 459.6l0.2 0.6M1560.3 406.8l-0.8 1.5M1530.0 335.8l0.3 2.1M1487.9 393.2l-0.5 0.0M1403.6 391.5l0.4 0.4M1267.4 454.8l-0.3 3.3M1540.1 510.6l-3.4 0.3M1360.7 379.2l1.4 1.7M1428.9 326.7l0.0 0.6M1304.8 555.8l-0.7 0.5M1582.2 404.5l-1.0 1.0M1579.3 357.2l2.9 1.8M1542.1 370.1l1.0 0.2M1410.7 378.0l0.5 0.3M1487.2 380.4l1.2 0.6" fill="none" stroke="#667abc" stroke-width="5.9" stroke-linecap="round" stroke-linejoin="round" opacity="1.0" />
<path d="M1431.8 453.0l2.9 0.1M1587.0 483.0l1.6 1.5M1392.2 456.0l1.6 2.7M1416.8 344.5l0.6 0.4M1546.2 379.4l1.6 1.5M1604.2 415.1l0.9 1.4M1402.9 411.7l0.9 0.2M1440.3 428.0l1.3 1.4M1396.7 504.2l-2.5 1.6M1289.4 424.5l0.6 0.2M1369.1 401.8l-0.1 0.3M1479.9 416.7l-0.3 1.0M1604.3 502.6l1.0 0.2M1598.2 344.2l-0.5 0.6M1358.2 526.6l0.5 2.1M1496.8 355.3l-0.5 0.6M1452.6 368.0l0.2 1.3M1487.7 357.4l2.5 0.7M1573.5 325.9l0.1 1.5M1424.5 492.0l-2.8 1.1M1595.6 432.8l-2.2 0.6M1447.5 539.4l1.0 0.3M1411.9 533.5l1.9 1.3M1321.4 547.5l-0.9 0.8M1435.9 386.6l0.7 3.0M1592.3 472.1l-0.7 0.5M1271.6 407.6l0.9 0.1M1336.6 380.3l-1.1 0.5M1359.4 462.8l-3.1 1.4M1441.0 480.9l1.2 0.6M1287.8 373.8l1.5 2.9M1291.8 480.8l2.0 1.1M1424.6 453.6l-0.5 0.9M1487.7 503.9l-0.5 1.3M1536.3 455.7l-0.3 1.9M1458.9 486.1l-3.1 0.3M1545.6 508.8l-0.3 1.2M1599.8 554.3l1.3 0.3M1348.6 403.1l0.7 0.7M1328.2 361.8l-1.3 2.7M1522.1 493.6l0.4 0.4M1333.2 348.6l-0.6 0.1M1538.7 413.9l0.0 0.9M1269.0 534.8l-0.7 0.0M1302.6 338.0l-2.8 1.4M1574.2 456.2l1.3 3.1M1581.8 506.9l-1.4 0.7M1333.6 465.3l2.9 0.6M1488.7 369.3l2.6 1.7M1431.2 397.4l0.8 0.3M1451.6 350.5l-0.3 0.6M1491.7 491.0l-1.8 1.6M1457.1 391.2l1.0 0.1M1566.4 422.9l-0.1 0.3M1561.9 417.0l-1.0 0.6M1529.9 403.4l-0.3 0.1M1270.9 388.6l0.3 0.7M1345.5 423.1l0.7 0.1M1295.8 517.8l0.6 0.6M1488.5 475.8l1.8 1.6M1324.3 332.2l0.1 2.1M1316.1 464.8l0.2 0.7M1596.0 456.9l-1.3 0.5M1289.7 503.8l1.3 0.6M1418.5 557.0l2.6 0.2M1512.0 377.5l-0.8 0.8M1523.2 410.7l-0.4 0.1M1324.1 394.7l0.7 0.6M1313.4 344.6l-3.2 0.4M1439.0 404.9l-2.1 2.6M1348.1 338.2l0.9 1.4M1419.2 388.3l0.9 3.1M1410.0 459.7l1.1 1.8M1552.3 440.5l-1.8 0.7M1540.7 362.5l0.4 0.2M1520.8 442.4l1.1 0.5M1598.4 496.9l-0.6 2.0M1572.0 427.7l0.5 1.6M1462.7 343.5l-0.3 1.8M1560.9 355.4l2.4 2.2M1546.2 521.6l-0.7 0.1M1476.4 549.9l-0.1 0.5M1537.0 520.7l0.4 0.5M1425.9 527.7l1.0 2.3M1341.6 513.3l0.9 2.6M1413.0 403.4l-0.5 1.2M1276.9 530.6l2.1 2.1M1494.3 338.3l1.8 1.1M1554.7 335.8l-0.5 1.3M1394.7 323.4l0.3 2.8M1574.1 374.8l-2.4 2.3M1401.3 329.2l-1.4 1.4M1442.5 364.1l-0.5 0.1M1418.5 378.5l1.4 2.5M1416.8 465.4l-0.9 0.6M1465.9 486.0l-0.5 0.5M1305.2 367.5l1.0 0.2M1456.2 336.3l-0.9 0.4M1604.3 521.1l-1.2 2.5M1450.3 329.7l1.2 1.8M1604.4 379.9l-0.3 3.3M1389.3 543.5l0.4 0.3M1408.2 356.5l-2.6 0.1M1340.0 345.5l2.7 1.1M1481.1 334.6l0.4 0.1M1274.8 459.9l1.6 0.7M1576.0 551.9l0.7 0.8M1435.3 528.3l1.9 1.4M1323.8 554.2l1.0 1.7M1345.8 471.2l0.9 0.8M1384.3 476.3l-0.8 1.2M1528.9 496.8l-0.7 0.1M1387.3 360.8l1.4 0.4M1563.9 498.0l0.9 0.3M1440.9 381.8l0.2 1.9M1601.1 461.3l-1.1 1.1M1306.0 527.2l1.9 0.7M1452.2 499.5l-2.3 2.1M1350.9 505.4l-0.2 0.7M1490.2 349.9l0.7 1.7M1310.7 433.2l-1.3 2.5M1589.5 342.7l0.9 0.2M1375.9 398.9l3.1 0.4M1397.2 497.4l0.4 0.2M1596.8 336.7l0.3 0.1M1497.6 542.0l1.0 0.7M1265.8 512.9l-0.5 2.3M1506.8 493.9l3.4 0.1M1269.0 438.9l-2.1 0.3M1531.3 550.6l-0.6 0.1M1594.9 514.2l-0.1 2.5M1429.4 540.2l-2.2 2.4M1332.4 491.9l2.7 1.9M1272.4 555.7l-0.8 3.1M1585.4 444.6l2.7 1.0M1360.7 534.8l1.5 0.2M1411.4 499.3l-0.0 0.6M1317.3 339.0l0.9 1.7M1584.0 430.5l1.1 0.7M1584.8 519.7l3.1 0.8M1565.4 477.9l3.0 0.9M1354.9 408.2l-2.4 2.2M1519.3 335.5l-0.5 1.0M1604.8 324.3l1.3 0.3M1328.5 414.7l1.6 0.7M1510.5 543.6l-1.8 2.4M1543.1 458.0l-0.2 0.4M1366.0 491.3l-2.3 1.3M1507.9 442.9l0.5 1.3M1382.6 501.0l1.4 1.3M1606.2 455.5l0.9 0.7M1371.7 392.5l-0.1 3.0M1472.6 413.4l-0.6 0.2M1472.7 491.9l1.3 0.6M1301.6 466.7l-2.4 1.3M1515.1 489.1l-0.6 0.3M1304.0 452.0l0.5 2.3M1285.5 549.6l-2.4 0.3M1287.8 353.1l-1.4 0.2M1503.7 406.0l0.5 2.1M1290.6 520.3l-1.3 2.2M1409.9 476.7l-0.2 0.8M1502.7 334.6l0.9 0.1M1334.5 407.4l-1.6 1.5M1322.4 475.7l-1.4 0.0M1357.7 516.0l0.7 0.8M1595.4 449.8l0.3 0.5M1472.9 504.5l-0.9 3.1M1553.6 346.5l0.6 0.2M1355.3 387.3l-2.1 1.0M1497.5 498.5l2.1 2.7M1399.8 337.4l-0.5 1.5M1328.3 483.8l0.5 0.2M1390.7 517.4l-2.4 0.8M1552.6 531.9l-0.6 0.5M1410.6 489.5l0.5 3.2M1345.0 535.5l1.3 1.2M1310.1 520.0l-3.0 1.1M1268.2 546.5l0.6 1.1M1271.4 525.4l-3.1 1.4M1291.8 512.3l-2.3 1.5M1399.9 444.3l0.7 0.5M1491.6 530.1l1.3 1.5M1279.2 502.3l-1.5 1.2M1259.7 334.4l1.7 2.7M1379.6 542.4l2.1 1.7M1582.0 527.1l0.5 3.0M1314.3 410.4l-1.1 1.6M1331.7 529.7l-0.1 1.5M1503.2 362.7l1.6 0.2M1605.5 404.2l1.5 0.7M1505.2 549.1l-1.8 1.2M1437.6 394.7l2.1 0.8M1506.5 422.0l-1.9 2.1M1423.4 437.6l-2.1 2.1M1491.0 511.2l1.0 1.2M1300.9 485.7l-1.0 0.4M1472.3 464.6l-1.2 1.5M1424.9 422.1l-0.4 0.2M1576.9 464.1l-1.1 1.5M1583.1 491.9l0.2 0.2M1513.5 340.3l-0.6 1.4M1368.3 351.7l0.2 0.4M1464.1 408.7l-0.1 1.0M1367.0 378.5l3.2 0.2M1383.1 411.4l-0.3 3.0M1460.8 330.0l-3.3 0.1M1386.6 349.5l-3.0 1.4M1423.3 548.7l-1.5 0.4M1575.8 365.6l0.6 3.1M1523.7 532.2l-2.1 1.5M1587.3 435.9l1.5 2.2M1506.0 342.2l0.1 1.1M1596.8 409.3l-0.3 0.2M1471.0 357.3l0.5 1.3M1404.1 424.4l1.2 1.5M1355.9 349.8l-0.8 3.2M1351.0 416.5l0.1 2.3M1414.9 385.3l-2.6 0.6M1546.9 422.0l-1.9 0.8M1350.1 483.2l0.9 0.8M1261.1 409.0l0.6 2.1M1586.8 351.7l0.3 0.6M1473.6 455.2l0.5 3.2M1466.7 366.1l2.9 0.8M1364.0 388.0l0.9 0.6M1264.1 555.6l0.1 1.8M1581.5 393.6l-1.0 2.9M1409.1 441.3l-1.4 1.3M1572.9 498.1l-1.0 2.3M1304.8 328.8l-1.9 0.5M1525.6 384.8l-0.4 0.9M1326.2 496.1l0.4 0.9M1547.8 502.2l3.2 0.4M1409.5 508.7l-0.3 0.2M1581.9 340.7l-0.2 2.9M1264.2 432.1l-0.9 1.9M1343.9 480.2l0.6 0.3M1553.5 353.9l-0.6 0.5M1391.8 337.3l-1.4 0.9M1603.0 436.0l-1.9 0.1M1353.2 378.6l-0.7 2.6M1395.3 404.9l-0.1 0.5M1434.2 502.9l-1.4 0.6M1329.1 453.8l-0.3 0.6M1543.9 465.3l1.4 0.7M1368.5 424.1l-1.6 0.8M1463.6 556.0l2.0 1.0M1456.6 543.3l0.6 2.8M1527.8 481.7l2.4 0.8M1311.1 422.5l-2.3 1.1M1376.2 476.4l0.7 2.5M1498.7 552.2l-2.2 0.5M1544.2 485.1l2.3 0.2M1394.2 382.9l-0.4 0.2M1511.1 331.0l2.6 1.5M1441.4 518.7l0.1 0.8M1320.0 400.1l-0.5 0.0M1404.4 501.0l-1.5 0.3M1365.5 469.0l0.2 1.6M1298.7 374.2l1.6 1.9M1492.8 455.1l-2.7 0.1M1390.2 495.4l-2.5 1.1M1438.2 419.0l1.9 1.1M1464.0 422.9l0.6 1.5M1382.2 336.7l1.3 2.3M1456.0 503.7l1.1 2.4M1428.6 496.7l0.1 0.6M1530.4 377.4l-0.5 2.0M1444.7 437.5l0.0 0.5M1468.6 337.9l-1.4 2.8M1423.1 428.5l-2.3 2.5M1447.4 401.7l-1.8 1.2M1314.3 376.3l0.0 0.3M1580.9 386.2l1.5 0.7M1327.7 402.5l1.4 1.1M1535.8 340.8l1.7 0.4M1460.8 499.9l2.7 1.4M1439.4 546.4l1.4 2.4M1474.6 328.6l0.5 1.3M1492.3 546.2l-0.9 0.4M1318.9 433.1l-0.3 2.2M1597.4 547.4l3.3 0.6M1308.0 474.4l0.6 0.4M1341.7 529.1l-0.0 2.5M1277.7 420.7l-1.5 2.3M1533.6 359.0l-1.5 1.7M1259.7 511.5l-3.1 0.2M1321.1 327.5l-2.2 0.3M1516.0 528.0l-0.2 3.4M1320.1 384.9l-0.4 0.3M1555.1 399.9l-0.4 0.0M1349.7 356.6l-2.4 1.1M1539.2 384.0l0.0 0.6M1444.8 496.0l0.6 1.6M1318.7 538.3l2.6 0.2M1278.1 402.9l-0.2 2.5M1276.1 541.3l0.7 2.2M1368.3 344.1l-2.0 0.8M1377.7 553.4l2.1 0.1M1492.6 431.5l0.7 2.5M1344.4 449.5l-0.2 1.8M1384.6 528.7l-1.1 0.6M1489.5 340.7l-1.9 0.3M1446.5 340.8l0.5 2.3M1589.5 399.7l-2.0 0.0M1322.1 407.1l0.1 1.7M1355.2 497.8l0.2 0.2M1571.8 507.2l-2.0 1.5M1445.2 555.7l0.8 0.3M1596.3 370.9l0.0 3.3M1388.8 508.4l0.9 0.0M1544.2 389.1l-0.3 3.4M1368.2 370.3l0.5 0.2M1298.0 346.6l-1.2 1.8M1604.7 542.8l0.0 0.3M1278.5 363.6l-1.2 1.1M1575.2 534.6l-0.7 0.5M1573.3 441.0l-0.3 1.2M1337.0 536.3l-0.8 3.1M1320.1 487.9l-0.5 0.2M1579.7 379.5l-1.8 0.7M1526.3 347.2l-0.7 0.9M1284.9 334.7l-2.1 0.1M1481.6 392.4l-2.7 1.7M1314.0 362.1l1.1 1.6M1567.7 434.6l-2.3 1.0M1575.4 332.8l1.4 2.9M1537.0 473.4l-1.4 0.0M1516.4 324.2l0.8 1.4M1493.2 483.9l-0.7 0.6M1606.5 430.2l0.3 0.9M1446.7 445.0l3.2 0.4M1334.4 338.7l-2.2 0.1M1396.9 423.2l1.8 2.5M1444.6 389.9l1.7 0.6M1452.0 551.2l1.0 0.9M1290.4 451.2l-1.5 1.1M1396.3 362.5l-1.6 1.3M1303.0 522.8l-2.6 0.3M1339.2 554.5l-2.8 0.6M1293.2 340.5l1.6 0.2M1519.1 349.9l0.3 1.1M1499.4 347.6l0.3 3.2" fill="none" stroke="#5066ae" stroke-width="5.4" stroke-linecap="round" stroke-linejoin="round" opacity="1.0" />
<path d="M1501.4 557.1l1.5 1.8M1565.5 551.1l0.4 0.6M1478.6 469.2l2.1 1.4M1343.2 379.9l2.8 1.6M1563.9 349.0l0.2 1.5M1408.5 557.9l0.3 1.1M1403.3 524.0l-2.1 0.5M1553.8 460.8l1.0 1.8M1512.1 414.8l-0.5 1.4M1481.2 366.9l1.4 0.3M1474.8 370.5l2.6 1.0M1584.3 498.6l1.5 1.4M1455.3 342.3l0.5 2.8M1481.4 492.8l-2.4 0.5M1457.0 457.2l-1.2 2.4M1454.4 451.3l-1.1 0.1M1443.8 354.1l-2.3 1.7M1507.7 537.5l2.7 0.3M1338.2 454.8l2.8 1.9M1286.1 342.5l-2.0 1.9M1402.9 431.8l1.0 1.5M1280.0 388.6l-0.3 0.6M1551.3 367.4l-0.0 1.4M1399.2 537.3l0.2 2.4M1388.0 448.3l0.2 0.5M1343.2 490.2l-2.7 1.5M1510.8 394.6l-1.1 2.4M1529.4 451.3l-0.6 3.3M1365.5 460.2l2.6 0.1M1273.0 479.3l0.5 2.3M1495.7 375.9l1.1 2.5M1530.9 411.7l0.5 0.2M1492.5 442.3l-1.8 1.8M1470.8 349.4l-1.0 1.1M1432.6 554.0l-0.4 1.5M1294.9 356.1l-2.0 2.4M1430.3 415.4l0.9 3.0M1310.4 443.8l-2.2 2.5M1568.5 451.7l0.0 0.7M1541.7 404.7l-1.7 0.4M1295.8 547.8l1.0 0.0M1510.7 501.8l-0.4 0.4M1295.3 330.6l-0.4 3.2M1263.1 488.5l1.7 1.8M1390.1 524.1l-0.3 2.1M1446.1 414.4l1.1 1.8M1378.6 327.4l0.0 2.1M1598.1 398.9l-1.2 0.9M1549.8 431.6l1.8 1.2M1564.3 513.5l-0.6 2.3M1483.7 444.1l1.0 2.4M1410.7 348.3l1.5 0.7M1606.7 447.8l-1.7 0.3M1283.4 445.1l-1.8 2.3M1505.9 513.0l-0.6 3.3M1601.7 423.3l-0.0 1.3M1283.0 370.9l-0.4 0.2M1355.9 441.5l0.2 2.2M1464.1 545.3l1.0 1.0M1346.0 543.3l-2.6 0.7M1573.9 386.1l1.5 0.6M1487.1 436.9l-0.2 0.6M1454.0 410.1l0.3 2.6M1507.5 557.3l3.1 0.8M1288.3 529.5l-1.4 0.4M1383.7 557.2l3.0 1.2M1594.4 525.9l-1.1 2.4M1501.2 505.6l0.9 1.1M1478.7 510.6l0.3 0.5M1525.1 372.0l-0.5 0.2M1554.8 555.3l-0.6 3.0M1339.1 471.8l-3.0 0.7M1287.5 470.2l-1.1 0.5M1269.7 469.2l1.3 2.8M1288.2 437.1l-0.9 0.0M1515.8 552.8l0.3 1.3M1569.5 529.5l-1.7 0.4M1305.0 459.8l0.1 0.3M1288.6 393.7l-0.6 0.6M1274.7 343.4l-1.3 0.2M1331.9 520.0l0.8 1.6M1480.2 379.5l1.5 1.5M1556.4 361.9l-0.8 1.3M1527.5 507.8l-0.4 0.7M1529.2 444.7l1.1 2.1M1474.3 449.0l-0.6 0.5M1354.4 333.3l-0.5 0.2M1279.2 553.9l-1.2 1.0M1258.7 442.8l2.4 0.0M1421.1 399.8l-0.1 0.7M1361.8 554.5l1.2 3.0M1334.2 429.9l1.0 2.1M1263.1 504.8l0.3 2.9M1360.4 369.3l-0.2 0.5M1339.1 502.9l-1.3 0.1M1467.6 521.0l2.4 1.0M1512.4 509.9l0.7 1.5M1373.6 410.2l-1.2 1.6M1427.0 474.5l0.3 0.0M1564.1 338.5l-0.8 1.4M1521.3 449.4l0.5 1.4M1293.1 414.0l-1.4 0.8M1430.9 424.1l0.9 1.5M1277.1 394.6l-0.9 1.0M1465.3 437.7l2.2 1.2M1576.8 522.6l-0.2 1.1M1601.7 349.8l-1.7 2.6M1562.4 542.7l-0.5 3.3M1378.0 365.7l-0.3 3.0M1297.6 324.2l0.2 2.5M1484.2 528.8l-1.6 1.3M1566.2 469.4l-0.6 0.9M1448.6 485.7l2.7 1.3M1386.1 441.0l0.7 1.5M1596.0 489.9l-1.9 0.6M1607.6 396.1l-2.3 1.1M1332.1 357.1l-2.1 0.1M1445.0 372.3l-1.1 2.7M1461.2 524.1l-1.5 0.2M1532.9 557.5l0.9 1.9M1350.2 464.9l0.4 0.1M1489.7 522.1l0.3 1.3M1594.2 365.7l-0.2 0.4M1261.3 327.0l1.5 0.3M1287.3 461.3l0.1 0.4M1521.3 397.1l-0.4 2.7M1307.2 406.9l-0.7 0.8M1262.7 389.2l-1.0 0.5M1282.2 510.7l0.1 0.4M1453.2 493.1l-0.3 0.5M1384.4 469.1l1.0 0.4M1590.6 537.4l-1.1 2.7M1474.0 424.0l2.3 1.2M1427.3 387.7l-0.9 3.2M1305.0 510.4l2.2 1.2M1513.1 471.2l1.3 2.1M1583.5 327.5l-1.0 0.4M1453.3 526.2l-0.1 0.3M1562.6 396.0l-0.9 0.1M1388.9 398.0l-0.7 0.4M1594.2 329.6l-0.7 0.0M1271.3 507.9l-1.5 1.4M1392.2 536.6l-2.4 0.1M1341.6 394.5l1.5 2.6M1263.3 480.3l0.5 2.7M1505.8 480.8l-1.4 0.2M1505.1 466.0l-3.3 0.0M1559.6 526.2l-1.9 1.5M1412.8 551.7l2.8 0.2M1589.2 411.5l-0.5 2.7M1531.3 424.7l-0.5 0.1M1270.0 449.2l-0.7 0.8M1259.5 522.1l-0.9 0.0M1288.8 407.1l1.1 1.5M1360.9 358.4l-1.5 1.5M1500.1 518.2l-1.0 1.0M1345.9 499.0l-1.7 1.1M1419.0 539.0l-2.2 0.7M1275.3 334.6l1.6 2.6M1270.4 399.4l-0.5 2.7M1334.2 328.5l-1.5 1.2M1559.8 440.7l-1.2 0.5M1377.1 533.0l0.2 0.8M1291.8 490.8l2.7 0.9M1546.4 541.5l-2.4 2.1M1376.2 525.0l0.3 1.6M1510.2 455.3l-0.6 0.2M1523.9 458.4l-2.2 0.4M1285.3 362.8l-0.5 0.5M1489.5 556.8l2.9 0.4M1603.5 367.7l2.8 1.6M1425.7 510.0l-1.0 0.0M1542.1 345.3l-0.1 3.1M1340.2 523.0l-1.1 1.2M1596.9 379.3l0.3 1.1M1403.1 459.9l-2.9 0.3M1498.1 492.7l1.0 0.3M1455.8 401.4l2.5 0.4M1554.7 471.0l-0.3 0.2M1348.2 349.3l-0.9 0.4M1444.8 327.8l-1.0 1.3M1377.0 381.7l-0.1 3.0M1341.6 439.0l1.7 1.2M1568.3 342.6l2.0 2.7M1505.6 473.2l1.9 0.2M1278.9 472.2l0.6 1.3M1258.1 357.1l0.3 3.1M1286.3 382.2l0.8 0.4M1264.1 467.3l-0.1 0.3M1374.9 373.2l-0.5 0.8M1371.3 537.3l0.9 1.8M1388.3 327.4l-0.4 0.5M1259.7 455.6l-2.5 1.3M1311.2 326.5l-0.6 0.1M1583.0 534.1l1.5 3.1M1369.7 556.4l2.5 1.6" fill="none" stroke="#7e90c8" stroke-width="6.3" stroke-linecap="round" stroke-linejoin="round" opacity="1.0" />
<path d="M1366.2 416.6l0.3 0.7M1381.0 402.4l-0.8 0.3M1533.5 326.0l0.5 0.2M1435.1 438.8l0.1 1.0M1536.5 480.1l-0.0 0.3M1269.1 446.4l-0.4 0.7M1481.6 387.4l-0.4 0.7M1341.4 336.7l-0.5 0.2M1512.5 491.7l0.9 0.5M1585.5 528.1l0.3 0.3M1560.7 455.3l0.5 0.3M1558.1 551.3l0.7 0.6M1267.4 406.4l-1.0 0.0M1330.6 420.3l0.3 0.3M1540.9 326.8l0.4 0.2M1430.3 517.9l-0.5 0.7M1464.6 548.9l0.6 0.1M1591.7 479.5l0.1 0.4M1352.3 438.9l-0.8 0.0M1478.1 498.3l-0.7 0.5M1478.7 542.0l0.4 0.6M1484.4 334.0l0.2 0.5M1381.2 365.2l-0.0 0.6M1373.1 503.8l0.2 0.8M1412.7 537.0l-0.4 0.5M1534.3 359.0l-0.8 0.4M1452.4 419.3l-0.5 0.1M1517.6 537.0l-0.1 0.3M1531.3 408.4l0.4 0.3M1545.3 437.6l0.6 0.1" fill="none" stroke="#2a3c8c" stroke-width="2.4" stroke-linecap="round" stroke-linejoin="round" opacity="0.85" />
<path d="M1486.1 341.2l0.9 1.6M1491.6 343.3l1.1 1.1M1495.4 341.1l0.7 0.0M1353.6 511.2l-0.2 1.6M1359.0 519.1l0.1 0.8M1364.0 524.7l1.1 0.7M1383.1 521.1l-0.1 0.3M1534.2 517.5l0.8 0.1M1539.8 518.3l0.7 0.5M1572.0 535.8l-0.8 0.5M1577.1 538.5l0.0 0.7M1328.3 537.2l-1.3 1.4M1440.6 553.5l-0.6 0.3" fill="none" stroke="#6b4a22" stroke-width="1.8" stroke-linecap="round" stroke-linejoin="round" opacity="0.85" />
</g>
<text x="1270.4" y="549.0" font-family='"Liberation Sans", sans-serif' font-size="5.2" fill="#333">50 μm</text>
<path d="M1264.4 551.1v2.2h32v-2.2" fill="none" stroke="#444" stroke-width="0.6" />
</g>
<g clip-path="url(#cC4)">
<rect x="1621.20" y="324.40" width="350.20" height="234.20" fill="#ffffff" stroke="none" stroke-width="0" />
<g filter="url(#bl1)">
<path d="M1654.2 327.4C1655.1 331.0 1659.3 341.6 1659.6 349.1C1659.9 356.6 1657.2 365.1 1656.0 372.6C1654.8 380.1 1653.6 387.1 1652.3 394.3C1651.1 401.5 1648.7 408.8 1648.7 416.0C1648.7 423.2 1652.0 430.5 1652.3 437.7C1652.6 444.9 1649.3 454.0 1650.5 459.4C1651.7 464.8 1656.0 467.8 1659.6 470.2C1663.2 472.6 1668.3 474.4 1672.2 473.8C1676.1 473.2 1680.7 470.2 1683.1 466.6C1685.5 463.0 1687.3 456.4 1686.7 452.2C1686.1 447.9 1680.7 443.1 1679.5 441.3" fill="none" stroke="#dcdcec" stroke-width="4.112436731742589" stroke-linecap="round" stroke-linejoin="round" opacity="0.54" />
<path d="M1654.2 327.4C1655.1 331.0 1659.3 341.6 1659.6 349.1C1659.9 356.6 1657.2 365.1 1656.0 372.6C1654.8 380.1 1653.6 387.1 1652.3 394.3C1651.1 401.5 1648.7 408.8 1648.7 416.0C1648.7 423.2 1652.0 430.5 1652.3 437.7C1652.6 444.9 1649.3 454.0 1650.5 459.4C1651.7 464.8 1656.0 467.8 1659.6 470.2C1663.2 472.6 1668.3 474.4 1672.2 473.8C1676.1 473.2 1680.7 470.2 1683.1 466.6C1685.5 463.0 1687.3 456.4 1686.7 452.2C1686.1 447.9 1680.7 443.1 1679.5 441.3" fill="none" stroke="#dcdcec" stroke-width="2.0562183658712945" stroke-linecap="round" stroke-linejoin="round" opacity="0.7200000000000001" />
<path d="M1677.7 329.2C1676.7 332.8 1674.0 343.7 1672.2 350.9C1670.4 358.2 1668.3 366.0 1666.8 372.6C1665.3 379.2 1663.8 387.7 1663.2 390.7" fill="none" stroke="#e6e6f1" stroke-width="5.874909616775127" stroke-linecap="round" stroke-linejoin="round" opacity="0.54" />
<path d="M1677.7 329.2C1676.7 332.8 1674.0 343.7 1672.2 350.9C1670.4 358.2 1668.3 366.0 1666.8 372.6C1665.3 379.2 1663.8 387.7 1663.2 390.7" fill="none" stroke="#e6e6f1" stroke-width="2.9374548083875633" stroke-linecap="round" stroke-linejoin="round" opacity="0.7200000000000001" />
<path d="M1704.8 329.2C1705.4 332.2 1708.1 341.3 1708.4 347.3C1708.7 353.3 1706.0 359.7 1706.6 365.4C1707.2 371.1 1709.9 376.8 1712.0 381.7C1714.1 386.5 1718.0 392.2 1719.2 394.3" fill="none" stroke="#dcdcec" stroke-width="5.287418655097614" stroke-linecap="round" stroke-linejoin="round" opacity="0.54" />
<path d="M1704.8 329.2C1705.4 332.2 1708.1 341.3 1708.4 347.3C1708.7 353.3 1706.0 359.7 1706.6 365.4C1707.2 371.1 1709.9 376.8 1712.0 381.7C1714.1 386.5 1718.0 392.2 1719.2 394.3" fill="none" stroke="#dcdcec" stroke-width="2.643709327548807" stroke-linecap="round" stroke-linejoin="round" opacity="0.7200000000000001" />
<path d="M1744.5 329.2C1745.1 331.6 1748.2 338.3 1748.2 343.7C1748.2 349.1 1745.7 356.3 1744.5 361.8C1743.3 367.2 1742.7 371.4 1740.9 376.2C1739.1 381.1 1733.1 387.7 1733.7 390.7C1734.3 393.7 1740.3 394.3 1744.5 394.3C1748.8 394.3 1754.8 391.9 1759.0 390.7C1763.2 389.5 1768.0 387.7 1769.8 387.1" fill="none" stroke="#dcdcec" stroke-width="4.6999276934201015" stroke-linecap="round" stroke-linejoin="round" opacity="0.54" />
<path d="M1744.5 329.2C1745.1 331.6 1748.2 338.3 1748.2 343.7C1748.2 349.1 1745.7 356.3 1744.5 361.8C1743.3 367.2 1742.7 371.4 1740.9 376.2C1739.1 381.1 1733.1 387.7 1733.7 390.7C1734.3 393.7 1740.3 394.3 1744.5 394.3C1748.8 394.3 1754.8 391.9 1759.0 390.7C1763.2 389.5 1768.0 387.7 1769.8 387.1" fill="none" stroke="#dcdcec" stroke-width="2.3499638467100508" stroke-linecap="round" stroke-linejoin="round" opacity="0.7200000000000001" />
<path d="M1762.6 332.8C1763.8 335.3 1768.3 341.9 1769.8 347.3C1771.4 352.7 1771.7 359.4 1771.7 365.4C1771.7 371.4 1770.1 380.4 1769.8 383.5" fill="none" stroke="#e6e6f1" stroke-width="7.343637020968909" stroke-linecap="round" stroke-linejoin="round" opacity="0.54" />
<path d="M1762.6 332.8C1763.8 335.3 1768.3 341.9 1769.8 347.3C1771.4 352.7 1771.7 359.4 1771.7 365.4C1771.7 371.4 1770.1 380.4 1769.8 383.5" fill="none" stroke="#e6e6f1" stroke-width="3.6718185104844543" stroke-linecap="round" stroke-linejoin="round" opacity="0.7200000000000001" />
<path d="M1768.0 334.7C1770.1 337.1 1778.0 343.4 1780.7 349.1C1783.4 354.8 1782.8 362.1 1784.3 369.0C1785.8 375.9 1788.2 384.1 1789.7 390.7C1791.2 397.3 1792.1 402.7 1793.3 408.8C1794.5 414.8 1795.8 421.7 1797.0 426.8C1798.2 432.0 1800.0 437.4 1800.6 439.5" fill="none" stroke="#d0d1e4" stroke-width="2.3499638467100508" stroke-linecap="round" stroke-linejoin="round" opacity="0.54" />
<path d="M1768.0 334.7C1770.1 337.1 1778.0 343.4 1780.7 349.1C1783.4 354.8 1782.8 362.1 1784.3 369.0C1785.8 375.9 1788.2 384.1 1789.7 390.7C1791.2 397.3 1792.1 402.7 1793.3 408.8C1794.5 414.8 1795.8 421.7 1797.0 426.8C1798.2 432.0 1800.0 437.4 1800.6 439.5" fill="none" stroke="#d0d1e4" stroke-width="1.1749819233550254" stroke-linecap="round" stroke-linejoin="round" opacity="0.7200000000000001" />
<path d="M1726.5 423.2C1728.3 422.0 1733.1 416.0 1737.3 416.0C1741.5 416.0 1746.9 420.8 1751.8 423.2C1756.6 425.6 1762.0 428.7 1766.2 430.5C1770.4 432.3 1772.9 432.9 1777.1 434.1C1781.3 435.3 1787.6 436.8 1791.5 437.7C1795.5 438.6 1799.1 439.2 1800.6 439.5" fill="none" stroke="#dcdcec" stroke-width="3.5249457700650764" stroke-linecap="round" stroke-linejoin="round" opacity="0.54" />
<path d="M1726.5 423.2C1728.3 422.0 1733.1 416.0 1737.3 416.0C1741.5 416.0 1746.9 420.8 1751.8 423.2C1756.6 425.6 1762.0 428.7 1766.2 430.5C1770.4 432.3 1772.9 432.9 1777.1 434.1C1781.3 435.3 1787.6 436.8 1791.5 437.7C1795.5 438.6 1799.1 439.2 1800.6 439.5" fill="none" stroke="#dcdcec" stroke-width="1.7624728850325382" stroke-linecap="round" stroke-linejoin="round" opacity="0.7200000000000001" />
<path d="M1726.5 423.2C1726.5 425.6 1725.3 432.9 1726.5 437.7C1727.7 442.5 1731.0 447.3 1733.7 452.2C1736.4 457.0 1740.0 463.0 1742.7 466.6C1745.4 470.2 1746.6 472.0 1750.0 473.8C1753.3 475.7 1759.6 475.0 1762.6 477.5C1765.6 479.9 1766.5 484.1 1768.0 488.3C1769.5 492.5 1770.4 498.5 1771.7 502.8C1772.9 507.0 1774.7 511.8 1775.3 513.6" fill="none" stroke="#d0d1e4" stroke-width="2.9374548083875633" stroke-linecap="round" stroke-linejoin="round" opacity="0.54" />
<path d="M1726.5 423.2C1726.5 425.6 1725.3 432.9 1726.5 437.7C1727.7 442.5 1731.0 447.3 1733.7 452.2C1736.4 457.0 1740.0 463.0 1742.7 466.6C1745.4 470.2 1746.6 472.0 1750.0 473.8C1753.3 475.7 1759.6 475.0 1762.6 477.5C1765.6 479.9 1766.5 484.1 1768.0 488.3C1769.5 492.5 1770.4 498.5 1771.7 502.8C1772.9 507.0 1774.7 511.8 1775.3 513.6" fill="none" stroke="#d0d1e4" stroke-width="1.4687274041937817" stroke-linecap="round" stroke-linejoin="round" opacity="0.7200000000000001" />
<path d="M1750.0 473.8C1747.2 475.0 1738.8 478.4 1733.7 481.1C1728.6 483.8 1724.0 486.5 1719.2 490.1C1714.4 493.7 1708.7 498.2 1704.8 502.8C1700.9 507.3 1698.7 512.4 1695.7 517.2C1692.7 522.0 1689.4 531.1 1686.7 531.7C1684.0 532.3 1681.0 525.7 1679.5 520.8C1678.0 516.0 1677.1 507.6 1677.7 502.8C1678.3 497.9 1682.2 493.7 1683.1 491.9" fill="none" stroke="#dcdcec" stroke-width="3.5249457700650764" stroke-linecap="round" stroke-linejoin="round" opacity="0.54" />
<path d="M1750.0 473.8C1747.2 475.0 1738.8 478.4 1733.7 481.1C1728.6 483.8 1724.0 486.5 1719.2 490.1C1714.4 493.7 1708.7 498.2 1704.8 502.8C1700.9 507.3 1698.7 512.4 1695.7 517.2C1692.7 522.0 1689.4 531.1 1686.7 531.7C1684.0 532.3 1681.0 525.7 1679.5 520.8C1678.0 516.0 1677.1 507.6 1677.7 502.8C1678.3 497.9 1682.2 493.7 1683.1 491.9" fill="none" stroke="#dcdcec" stroke-width="1.7624728850325382" stroke-linecap="round" stroke-linejoin="round" opacity="0.7200000000000001" />
<path d="M1697.5 549.8C1699.9 547.4 1707.2 539.5 1712.0 535.3C1716.8 531.1 1721.0 526.6 1726.5 524.5C1731.9 522.3 1739.1 521.4 1744.5 522.7C1750.0 523.9 1754.5 531.1 1759.0 531.7C1763.5 532.3 1767.4 528.1 1771.7 526.3C1775.9 524.5 1779.8 521.4 1784.3 520.8C1788.8 520.2 1794.2 522.7 1798.8 522.7C1803.3 522.7 1807.8 523.6 1811.4 520.8C1815.0 518.1 1817.7 511.5 1820.5 506.4C1823.2 501.3 1824.7 494.9 1827.7 490.1C1830.7 485.3 1834.9 481.4 1838.5 477.5C1842.2 473.5 1846.1 470.5 1849.4 466.6C1852.7 462.7 1856.9 456.1 1858.4 454.0" fill="none" stroke="#dcdcec" stroke-width="3.5249457700650764" stroke-linecap="round" stroke-linejoin="round" opacity="0.54" />
<path d="M1697.5 549.8C1699.9 547.4 1707.2 539.5 1712.0 535.3C1716.8 531.1 1721.0 526.6 1726.5 524.5C1731.9 522.3 1739.1 521.4 1744.5 522.7C1750.0 523.9 1754.5 531.1 1759.0 531.7C1763.5 532.3 1767.4 528.1 1771.7 526.3C1775.9 524.5 1779.8 521.4 1784.3 520.8C1788.8 520.2 1794.2 522.7 1798.8 522.7C1803.3 522.7 1807.8 523.6 1811.4 520.8C1815.0 518.1 1817.7 511.5 1820.5 506.4C1823.2 501.3 1824.7 494.9 1827.7 490.1C1830.7 485.3 1834.9 481.4 1838.5 477.5C1842.2 473.5 1846.1 470.5 1849.4 466.6C1852.7 462.7 1856.9 456.1 1858.4 454.0" fill="none" stroke="#dcdcec" stroke-width="1.7624728850325382" stroke-linecap="round" stroke-linejoin="round" opacity="0.7200000000000001" />
<path d="M1775.3 513.6C1776.2 511.8 1778.0 505.2 1780.7 502.8C1783.4 500.4 1789.7 499.8 1791.5 499.2" fill="none" stroke="#e6e6f1" stroke-width="11.749819233550253" stroke-linecap="round" stroke-linejoin="round" opacity="0.54" />
<path d="M1775.3 513.6C1776.2 511.8 1778.0 505.2 1780.7 502.8C1783.4 500.4 1789.7 499.8 1791.5 499.2" fill="none" stroke="#e6e6f1" stroke-width="5.874909616775127" stroke-linecap="round" stroke-linejoin="round" opacity="0.7200000000000001" />
<path d="M1802.4 372.6C1804.2 374.1 1809.9 378.6 1813.2 381.7C1816.5 384.7 1822.3 388.6 1822.3 390.7C1822.3 392.8 1814.7 393.7 1813.2 394.3" fill="none" stroke="#e6e6f1" stroke-width="11.749819233550253" stroke-linecap="round" stroke-linejoin="round" opacity="0.57" />
<path d="M1802.4 372.6C1804.2 374.1 1809.9 378.6 1813.2 381.7C1816.5 384.7 1822.3 388.6 1822.3 390.7C1822.3 392.8 1814.7 393.7 1813.2 394.3" fill="none" stroke="#e6e6f1" stroke-width="5.874909616775127" stroke-linecap="round" stroke-linejoin="round" opacity="0.76" />
<path d="M1825.9 367.2C1827.4 370.2 1831.6 379.5 1834.9 385.3C1838.2 391.0 1842.8 397.0 1845.8 401.5C1848.8 406.1 1851.8 410.6 1853.0 412.4" fill="none" stroke="#e6e6f1" stroke-width="8.81236442516269" stroke-linecap="round" stroke-linejoin="round" opacity="0.57" />
<path d="M1825.9 367.2C1827.4 370.2 1831.6 379.5 1834.9 385.3C1838.2 391.0 1842.8 397.0 1845.8 401.5C1848.8 406.1 1851.8 410.6 1853.0 412.4" fill="none" stroke="#e6e6f1" stroke-width="4.406182212581345" stroke-linecap="round" stroke-linejoin="round" opacity="0.76" />
<path d="M1822.3 329.2C1822.0 331.0 1819.0 337.1 1820.5 340.1C1822.0 343.1 1827.1 346.7 1831.3 347.3C1835.5 347.9 1841.5 344.9 1845.8 343.7C1850.0 342.5 1853.9 338.9 1856.6 340.1C1859.3 341.3 1861.4 346.7 1862.0 350.9C1862.6 355.1 1861.7 361.2 1860.2 365.4C1858.7 369.6 1854.8 373.2 1853.0 376.2C1851.2 379.2 1850.0 382.3 1849.4 383.5" fill="none" stroke="#d0d1e4" stroke-width="2.3499638467100508" stroke-linecap="round" stroke-linejoin="round" opacity="0.54" />
<path d="M1822.3 329.2C1822.0 331.0 1819.0 337.1 1820.5 340.1C1822.0 343.1 1827.1 346.7 1831.3 347.3C1835.5 347.9 1841.5 344.9 1845.8 343.7C1850.0 342.5 1853.9 338.9 1856.6 340.1C1859.3 341.3 1861.4 346.7 1862.0 350.9C1862.6 355.1 1861.7 361.2 1860.2 365.4C1858.7 369.6 1854.8 373.2 1853.0 376.2C1851.2 379.2 1850.0 382.3 1849.4 383.5" fill="none" stroke="#d0d1e4" stroke-width="1.1749819233550254" stroke-linecap="round" stroke-linejoin="round" opacity="0.7200000000000001" />
<path d="M1853.0 394.3C1855.4 394.9 1863.2 396.1 1867.5 397.9C1871.7 399.7 1875.0 404.6 1878.3 405.2C1881.6 405.8 1886.1 400.3 1887.3 401.5C1888.5 402.7 1885.8 410.6 1885.5 412.4" fill="none" stroke="#dcdcec" stroke-width="4.6999276934201015" stroke-linecap="round" stroke-linejoin="round" opacity="0.54" />
<path d="M1853.0 394.3C1855.4 394.9 1863.2 396.1 1867.5 397.9C1871.7 399.7 1875.0 404.6 1878.3 405.2C1881.6 405.8 1886.1 400.3 1887.3 401.5C1888.5 402.7 1885.8 410.6 1885.5 412.4" fill="none" stroke="#dcdcec" stroke-width="2.3499638467100508" stroke-linecap="round" stroke-linejoin="round" opacity="0.7200000000000001" />
<path d="M1811.4 423.2C1813.2 422.0 1818.3 416.6 1822.3 416.0C1826.2 415.4 1831.9 417.2 1834.9 419.6C1837.9 422.0 1840.3 426.2 1840.3 430.5C1840.3 434.7 1837.3 440.7 1834.9 444.9C1832.5 449.1 1829.2 455.2 1825.9 455.8C1822.6 456.4 1817.4 452.2 1815.0 448.5C1812.6 444.9 1812.0 438.3 1811.4 434.1C1810.8 429.9 1811.4 425.0 1811.4 423.2" fill="none" stroke="#dcdcec" stroke-width="2.9374548083875633" stroke-linecap="round" stroke-linejoin="round" opacity="0.54" />
<path d="M1811.4 423.2C1813.2 422.0 1818.3 416.6 1822.3 416.0C1826.2 415.4 1831.9 417.2 1834.9 419.6C1837.9 422.0 1840.3 426.2 1840.3 430.5C1840.3 434.7 1837.3 440.7 1834.9 444.9C1832.5 449.1 1829.2 455.2 1825.9 455.8C1822.6 456.4 1817.4 452.2 1815.0 448.5C1812.6 444.9 1812.0 438.3 1811.4 434.1C1810.8 429.9 1811.4 425.0 1811.4 423.2" fill="none" stroke="#dcdcec" stroke-width="1.4687274041937817" stroke-linecap="round" stroke-linejoin="round" opacity="0.7200000000000001" />
<path d="M1867.5 408.8C1866.0 411.2 1860.8 418.4 1858.4 423.2C1856.0 428.0 1852.7 433.5 1853.0 437.7C1853.3 441.9 1859.0 446.7 1860.2 448.5" fill="none" stroke="#dcdcec" stroke-width="3.5249457700650764" stroke-linecap="round" stroke-linejoin="round" opacity="0.54" />
<path d="M1867.5 408.8C1866.0 411.2 1860.8 418.4 1858.4 423.2C1856.0 428.0 1852.7 433.5 1853.0 437.7C1853.3 441.9 1859.0 446.7 1860.2 448.5" fill="none" stroke="#dcdcec" stroke-width="1.7624728850325382" stroke-linecap="round" stroke-linejoin="round" opacity="0.7200000000000001" />
<path d="M1900.0 332.8C1901.2 335.9 1905.4 344.9 1907.2 350.9C1909.0 356.9 1908.4 363.9 1910.8 369.0C1913.3 374.1 1917.5 378.9 1921.7 381.7C1925.9 384.4 1931.3 384.1 1936.1 385.3C1941.0 386.5 1945.8 388.0 1950.6 388.9C1955.4 389.8 1962.7 390.4 1965.1 390.7" fill="none" stroke="#dcdcec" stroke-width="4.112436731742589" stroke-linecap="round" stroke-linejoin="round" opacity="0.54" />
<path d="M1900.0 332.8C1901.2 335.9 1905.4 344.9 1907.2 350.9C1909.0 356.9 1908.4 363.9 1910.8 369.0C1913.3 374.1 1917.5 378.9 1921.7 381.7C1925.9 384.4 1931.3 384.1 1936.1 385.3C1941.0 386.5 1945.8 388.0 1950.6 388.9C1955.4 389.8 1962.7 390.4 1965.1 390.7" fill="none" stroke="#dcdcec" stroke-width="2.0562183658712945" stroke-linecap="round" stroke-linejoin="round" opacity="0.7200000000000001" />
<path d="M1925.3 332.8C1927.1 335.3 1933.1 342.5 1936.1 347.3C1939.2 352.1 1941.3 356.9 1943.4 361.8C1945.5 366.6 1947.9 373.8 1948.8 376.2" fill="none" stroke="#e6e6f1" stroke-width="14.687274041937817" stroke-linecap="round" stroke-linejoin="round" opacity="0.54" />
<path d="M1925.3 332.8C1927.1 335.3 1933.1 342.5 1936.1 347.3C1939.2 352.1 1941.3 356.9 1943.4 361.8C1945.5 366.6 1947.9 373.8 1948.8 376.2" fill="none" stroke="#e6e6f1" stroke-width="7.343637020968909" stroke-linecap="round" stroke-linejoin="round" opacity="0.7200000000000001" />
<path d="M1914.5 408.8C1916.3 407.6 1921.1 403.3 1925.3 401.5C1929.5 399.7 1935.2 399.1 1939.8 397.9C1944.3 396.7 1950.3 394.9 1952.4 394.3" fill="none" stroke="#dcdcec" stroke-width="7.343637020968909" stroke-linecap="round" stroke-linejoin="round" opacity="0.54" />
<path d="M1914.5 408.8C1916.3 407.6 1921.1 403.3 1925.3 401.5C1929.5 399.7 1935.2 399.1 1939.8 397.9C1944.3 396.7 1950.3 394.9 1952.4 394.3" fill="none" stroke="#dcdcec" stroke-width="3.6718185104844543" stroke-linecap="round" stroke-linejoin="round" opacity="0.7200000000000001" />
<path d="M1916.3 430.5C1918.4 429.6 1924.7 426.2 1928.9 425.0C1933.1 423.8 1939.5 423.5 1941.6 423.2" fill="none" stroke="#dcdcec" stroke-width="7.343637020968909" stroke-linecap="round" stroke-linejoin="round" opacity="0.54" />
<path d="M1916.3 430.5C1918.4 429.6 1924.7 426.2 1928.9 425.0C1933.1 423.8 1939.5 423.5 1941.6 423.2" fill="none" stroke="#dcdcec" stroke-width="3.6718185104844543" stroke-linecap="round" stroke-linejoin="round" opacity="0.7200000000000001" />
<path d="M1968.7 397.9C1968.1 400.9 1966.3 410.6 1965.1 416.0C1963.9 421.4 1962.1 428.0 1961.5 430.5" fill="none" stroke="#dcdcec" stroke-width="4.112436731742589" stroke-linecap="round" stroke-linejoin="round" opacity="0.54" />
<path d="M1968.7 397.9C1968.1 400.9 1966.3 410.6 1965.1 416.0C1963.9 421.4 1962.1 428.0 1961.5 430.5" fill="none" stroke="#dcdcec" stroke-width="2.0562183658712945" stroke-linecap="round" stroke-linejoin="round" opacity="0.7200000000000001" />
<path d="M1939.8 459.4C1941.9 458.2 1948.2 454.6 1952.4 452.2C1956.6 449.7 1963.0 446.1 1965.1 444.9" fill="none" stroke="#e6e6f1" stroke-width="14.687274041937817" stroke-linecap="round" stroke-linejoin="round" opacity="0.54" />
<path d="M1939.8 459.4C1941.9 458.2 1948.2 454.6 1952.4 452.2C1956.6 449.7 1963.0 446.1 1965.1 444.9" fill="none" stroke="#e6e6f1" stroke-width="7.343637020968909" stroke-linecap="round" stroke-linejoin="round" opacity="0.7200000000000001" />
<path d="M1968.7 437.7C1966.0 438.6 1957.8 441.6 1952.4 443.1C1947.0 444.6 1940.7 445.2 1936.1 446.7C1931.6 448.2 1927.4 448.8 1925.3 452.2C1923.2 455.5 1924.7 462.4 1923.5 466.6C1922.3 470.8 1919.6 473.8 1918.1 477.5C1916.6 481.1 1916.3 485.3 1914.5 488.3C1912.6 491.3 1909.6 493.4 1907.2 495.5C1904.8 497.6 1901.2 500.1 1900.0 501.0" fill="none" stroke="#d0d1e4" stroke-width="2.3499638467100508" stroke-linecap="round" stroke-linejoin="round" opacity="0.54" />
<path d="M1968.7 437.7C1966.0 438.6 1957.8 441.6 1952.4 443.1C1947.0 444.6 1940.7 445.2 1936.1 446.7C1931.6 448.2 1927.4 448.8 1925.3 452.2C1923.2 455.5 1924.7 462.4 1923.5 466.6C1922.3 470.8 1919.6 473.8 1918.1 477.5C1916.6 481.1 1916.3 485.3 1914.5 488.3C1912.6 491.3 1909.6 493.4 1907.2 495.5C1904.8 497.6 1901.2 500.1 1900.0 501.0" fill="none" stroke="#d0d1e4" stroke-width="1.1749819233550254" stroke-linecap="round" stroke-linejoin="round" opacity="0.7200000000000001" />
<path d="M1871.1 484.7C1872.3 486.5 1875.9 494.9 1878.3 495.5C1880.7 496.1 1883.7 487.7 1885.5 488.3C1887.3 488.9 1887.9 496.7 1889.1 499.2C1890.4 501.6 1892.2 502.2 1892.8 502.8" fill="none" stroke="#dcdcec" stroke-width="8.81236442516269" stroke-linecap="round" stroke-linejoin="round" opacity="0.54" />
<path d="M1871.1 484.7C1872.3 486.5 1875.9 494.9 1878.3 495.5C1880.7 496.1 1883.7 487.7 1885.5 488.3C1887.3 488.9 1887.9 496.7 1889.1 499.2C1890.4 501.6 1892.2 502.2 1892.8 502.8" fill="none" stroke="#dcdcec" stroke-width="4.406182212581345" stroke-linecap="round" stroke-linejoin="round" opacity="0.7200000000000001" />
<path d="M1867.5 510.0C1868.7 511.8 1872.9 516.6 1874.7 520.8C1876.5 525.1 1877.1 530.5 1878.3 535.3C1879.5 540.1 1881.3 547.4 1881.9 549.8" fill="none" stroke="#e6e6f1" stroke-width="11.749819233550253" stroke-linecap="round" stroke-linejoin="round" opacity="0.54" />
<path d="M1867.5 510.0C1868.7 511.8 1872.9 516.6 1874.7 520.8C1876.5 525.1 1877.1 530.5 1878.3 535.3C1879.5 540.1 1881.3 547.4 1881.9 549.8" fill="none" stroke="#e6e6f1" stroke-width="5.874909616775127" stroke-linecap="round" stroke-linejoin="round" opacity="0.7200000000000001" />
<path d="M1878.3 513.6C1881.3 513.9 1890.4 515.4 1896.4 515.4C1902.4 515.4 1909.0 514.5 1914.5 513.6C1919.9 512.7 1926.5 510.6 1928.9 510.0" fill="none" stroke="#d0d1e4" stroke-width="3.5249457700650764" stroke-linecap="round" stroke-linejoin="round" opacity="0.54" />
<path d="M1878.3 513.6C1881.3 513.9 1890.4 515.4 1896.4 515.4C1902.4 515.4 1909.0 514.5 1914.5 513.6C1919.9 512.7 1926.5 510.6 1928.9 510.0" fill="none" stroke="#d0d1e4" stroke-width="1.7624728850325382" stroke-linecap="round" stroke-linejoin="round" opacity="0.7200000000000001" />
<path d="M1625.2 463.0C1627.0 462.4 1633.1 458.8 1636.1 459.4C1639.1 460.0 1643.3 463.6 1643.3 466.6C1643.3 469.6 1638.5 473.2 1636.1 477.5C1633.7 481.7 1628.8 487.7 1628.8 491.9C1628.8 496.1 1632.5 500.4 1636.1 502.8C1639.7 505.2 1646.3 507.0 1650.5 506.4C1654.8 505.8 1659.0 502.2 1661.4 499.2C1663.8 496.1 1664.4 490.1 1665.0 488.3" fill="none" stroke="#dcdcec" stroke-width="4.6999276934201015" stroke-linecap="round" stroke-linejoin="round" opacity="0.54" />
<path d="M1625.2 463.0C1627.0 462.4 1633.1 458.8 1636.1 459.4C1639.1 460.0 1643.3 463.6 1643.3 466.6C1643.3 469.6 1638.5 473.2 1636.1 477.5C1633.7 481.7 1628.8 487.7 1628.8 491.9C1628.8 496.1 1632.5 500.4 1636.1 502.8C1639.7 505.2 1646.3 507.0 1650.5 506.4C1654.8 505.8 1659.0 502.2 1661.4 499.2C1663.8 496.1 1664.4 490.1 1665.0 488.3" fill="none" stroke="#dcdcec" stroke-width="2.3499638467100508" stroke-linecap="round" stroke-linejoin="round" opacity="0.7200000000000001" />
<path d="M1625.2 524.5C1626.4 526.3 1630.7 531.4 1632.5 535.3C1634.3 539.2 1635.5 545.8 1636.1 548.0" fill="none" stroke="#dcdcec" stroke-width="4.112436731742589" stroke-linecap="round" stroke-linejoin="round" opacity="0.54" />
<path d="M1625.2 524.5C1626.4 526.3 1630.7 531.4 1632.5 535.3C1634.3 539.2 1635.5 545.8 1636.1 548.0" fill="none" stroke="#dcdcec" stroke-width="2.0562183658712945" stroke-linecap="round" stroke-linejoin="round" opacity="0.7200000000000001" />
<path d="M1876.5 416.0C1876.8 418.4 1875.6 428.7 1878.3 430.5C1881.0 432.3 1887.9 427.7 1892.8 426.8C1897.6 425.9 1904.8 425.3 1907.2 425.0" fill="none" stroke="#d0d1e4" stroke-width="1.7624728850325382" stroke-linecap="round" stroke-linejoin="round" opacity="0.54" />
<path d="M1876.5 416.0C1876.8 418.4 1875.6 428.7 1878.3 430.5C1881.0 432.3 1887.9 427.7 1892.8 426.8C1897.6 425.9 1904.8 425.3 1907.2 425.0" fill="none" stroke="#d0d1e4" stroke-width="0.9" stroke-linecap="round" stroke-linejoin="round" opacity="0.7200000000000001" />
<path d="M1670.4 437.7C1671.6 440.1 1675.8 447.3 1677.7 452.2C1679.5 457.0 1680.7 464.2 1681.3 466.6" fill="none" stroke="#b9b9cd" stroke-width="9.987346348517715" stroke-linecap="round" stroke-linejoin="round" opacity="0.44999999999999996" />
<path d="M1670.4 437.7C1671.6 440.1 1675.8 447.3 1677.7 452.2C1679.5 457.0 1680.7 464.2 1681.3 466.6" fill="none" stroke="#b9b9cd" stroke-width="4.993673174258857" stroke-linecap="round" stroke-linejoin="round" opacity="0.6000000000000001" />
<path d="M1947.0 481.1 L1961.5 473.8" fill="none" stroke="#e6e6f1" stroke-width="4.112436731742589" stroke-linecap="round" stroke-linejoin="round" opacity="0.54" />
<path d="M1947.0 481.1 L1961.5 473.8" fill="none" stroke="#e6e6f1" stroke-width="2.0562183658712945" stroke-linecap="round" stroke-linejoin="round" opacity="0.7200000000000001" />
<path d="M1807.8 548.0C1809.3 547.4 1814.1 544.0 1816.8 544.3C1819.6 544.6 1822.9 548.9 1824.1 549.8" fill="none" stroke="#e6e6f1" stroke-width="4.112436731742589" stroke-linecap="round" stroke-linejoin="round" opacity="0.54" />
<path d="M1807.8 548.0C1809.3 547.4 1814.1 544.0 1816.8 544.3C1819.6 544.6 1822.9 548.9 1824.1 549.8" fill="none" stroke="#e6e6f1" stroke-width="2.0562183658712945" stroke-linecap="round" stroke-linejoin="round" opacity="0.7200000000000001" />
<circle cx="1719.2" cy="333.7" r="1.6" fill="#b9b9d0" opacity="0.8"/>
<circle cx="1891.9" cy="465.7" r="1.6" fill="#c5c5d8" opacity="0.8"/>
<circle cx="1888.2" cy="416.9" r="1.6" fill="#8d8a70" opacity="0.7"/>
<circle cx="1898.2" cy="415.1" r="1.4" fill="#6f79b8" opacity="0.8"/>
<circle cx="1731.9" cy="538.0" r="1.6" fill="#5a5540" opacity="0.7"/>
<circle cx="1781.6" cy="336.5" r="1.1" fill="#b0b0c0" opacity="0.7"/>
</g>
<path d="M1704.0 448.8h0.4M1681.8 440.7h0.4M1709.2 445.5h0.4M1685.0 444.4h0.4M1704.5 427.9h0.4M1701.5 441.3h0.4M1687.4 447.0h0.4M1707.6 425.4h0.4M1695.8 440.2h0.4M1681.5 438.2h0.4M1710.1 432.8h0.4M1696.5 450.3h0.4M1708.1 450.8h0.4M1684.1 452.1h0.4M1691.5 433.6h0.4M1686.9 446.6h0.4M1699.4 436.5h0.4M1696.5 438.1h0.4M1699.2 427.6h0.4M1703.4 430.8h0.4M1681.9 450.9h0.4M1684.3 446.4h0.4M1704.8 435.6h0.4M1700.0 430.2h0.4M1687.9 448.8h0.4M1704.3 445.4h0.4M1695.3 424.2h0.4M1705.0 451.0h0.4M1691.0 441.3h0.4M1685.8 451.0h0.4M1703.1 425.1h0.4M1702.8 442.8h0.4M1694.7 440.1h0.4M1709.9 443.0h0.4M1695.8 451.2h0.4M1700.9 445.7h0.4M1698.3 445.1h0.4M1705.0 437.7h0.4M1695.6 429.0h0.4M1701.3 444.3h0.4M1693.9 425.1h0.4M1703.0 442.0h0.4M1701.2 427.6h0.4M1708.5 444.3h0.4M1705.9 427.5h0.4M1689.6 438.6h0.4M1681.4 451.4h0.4M1686.6 427.6h0.4M1705.7 430.1h0.4M1698.9 442.1h0.4M1687.5 424.7h0.4M1702.9 448.5h0.4M1706.1 426.2h0.4M1691.5 436.3h0.4M1682.3 448.8h0.4M1706.7 451.3h0.4M1709.4 447.4h0.4M1690.4 442.1h0.4M1708.1 423.5h0.4M1683.5 451.8h0.4M1632.1 510.6h0.4M1642.6 489.0h0.4M1642.4 509.8h0.4M1652.3 485.1h0.4M1658.5 492.3h0.4M1658.7 497.4h0.4M1660.0 498.9h0.4M1641.6 513.3h0.4M1664.3 498.9h0.4M1647.7 500.7h0.4M1653.3 489.9h0.4M1662.5 494.8h0.4M1664.9 499.7h0.4M1662.0 511.1h0.4M1638.8 482.2h0.4M1649.8 499.8h0.4M1641.0 492.6h0.4M1638.7 484.1h0.4M1645.4 498.1h0.4M1644.7 508.6h0.4M1644.6 505.6h0.4M1656.1 497.5h0.4M1645.7 488.7h0.4M1653.7 509.3h0.4M1664.0 507.2h0.4M1663.9 500.1h0.4M1645.2 513.0h0.4M1653.1 483.4h0.4M1659.7 500.4h0.4M1659.8 494.3h0.4M1651.7 500.5h0.4M1651.1 509.8h0.4M1643.1 503.0h0.4M1662.8 484.0h0.4M1659.8 503.6h0.4M1644.8 482.3h0.4M1646.7 486.5h0.4M1635.9 497.5h0.4M1651.5 511.4h0.4M1651.6 506.1h0.4M1648.6 481.9h0.4M1640.8 484.9h0.4M1650.7 491.0h0.4M1650.9 492.0h0.4M1630.5 488.5h0.4M1662.6 495.7h0.4M1652.8 498.6h0.4M1645.5 503.3h0.4M1661.6 501.6h0.4M1657.4 492.4h0.4M1638.8 481.4h0.4M1648.2 483.1h0.4M1638.6 496.1h0.4M1642.3 487.8h0.4M1644.0 511.0h0.4M1649.2 502.6h0.4M1665.0 501.9h0.4M1663.2 503.7h0.4M1658.1 500.9h0.4M1665.0 499.0h0.4M1721.7 386.8h0.4M1717.3 381.8h0.4M1732.6 375.8h0.4M1723.0 379.2h0.4M1726.8 391.1h0.4M1721.4 385.0h0.4M1716.2 377.8h0.4M1723.2 386.5h0.4M1731.5 391.9h0.4M1724.8 378.3h0.4M1730.5 391.0h0.4M1729.9 387.1h0.4M1727.0 381.2h0.4M1725.9 380.6h0.4M1728.3 391.7h0.4M1721.1 388.6h0.4M1717.5 374.5h0.4M1719.0 378.9h0.4M1723.5 381.0h0.4M1732.0 373.8h0.4M1731.3 377.8h0.4M1721.1 382.8h0.4M1723.7 385.0h0.4M1716.2 385.5h0.4M1716.4 376.1h0.4M1720.7 383.7h0.4M1728.8 373.3h0.4M1716.2 381.6h0.4M1719.8 388.1h0.4M1730.3 392.2h0.4M1831.2 491.5h0.4M1823.1 487.2h0.4M1821.9 487.0h0.4M1828.1 487.9h0.4M1831.1 485.1h0.4M1825.1 490.9h0.4M1829.1 483.1h0.4M1824.7 489.5h0.4M1821.1 489.9h0.4M1830.2 488.1h0.4M1821.7 487.1h0.4M1822.1 490.7h0.4" fill="none" stroke="#d9cfa0" stroke-width="1.0" stroke-linecap="round" stroke-linejoin="round" opacity="0.8" />
<g filter="url(#bl05)">
<path d="M1937.9 344.1l0.3 1.3M1654.6 395.7l-0.2 1.0M1857.6 420.5l-1.3 1.3M1946.6 394.8l0.7 -0.8M1926.6 326.0l0.6 0.8M1685.4 460.4l1.0 -1.3M1650.2 326.7l-0.0 1.5M1771.3 388.7l0.3 -0.4M1678.8 510.0l-0.3 -0.7M1770.7 385.8l-0.2 0.6M1802.2 520.2l1.5 0.6M1932.6 344.1l0.7 1.9M1871.8 485.3l1.3 0.9M1651.1 401.3l-0.4 1.7M1837.8 345.5l0.9 0.2M1880.6 543.3l0.4 2.1M1665.0 383.9l-0.1 0.7M1684.3 449.9l-0.5 -1.1M1893.4 500.2l0.6 1.2M1768.8 430.8l1.3 0.0M1893.8 426.0l1.5 0.7M1782.6 359.1l-0.8 1.7M1652.8 388.5l-0.4 0.5M1886.9 406.3l-0.3 1.0M1947.7 460.1l0.6 -0.1M1651.9 448.7l0.4 1.7M1953.3 451.8l0.9 -1.7M1927.1 422.7l0.3 -0.3M1939.0 397.9l1.3 -0.4M1934.3 358.6l0.1 0.4M1794.4 424.5l0.9 0.9M1954.5 449.6l1.6 -1.1M1952.3 458.8l0.4 -0.6M1747.1 331.9l0.2 1.3M1830.1 373.2l-0.0 1.9M1930.0 401.0l0.8 -0.4M1796.9 436.4l0.3 0.7M1743.7 522.9l0.4 -0.0M1883.2 540.3l0.3 0.9M1859.5 364.3l-0.5 0.8M1729.7 391.7l2.2 0.3M1748.8 422.8l0.4 0.0M1626.0 524.7l0.3 1.8M1734.2 522.1l1.9 0.7M1882.7 540.6l0.8 1.3M1655.1 376.9l-0.3 1.1M1676.6 467.8l0.5 -1.0M1940.7 365.7l0.1 1.9M1953.9 371.4l-0.2 2.0M1653.1 447.2l0.2 0.6M1658.4 337.3l0.3 2.2M1856.7 394.3l1.0 0.0M1874.0 525.3l0.3 1.8M1917.9 430.0l0.4 0.1M1925.4 338.1l1.0 1.1M1933.4 349.3l0.4 1.8M1908.9 359.7l-0.2 1.4M1837.2 476.6l0.4 -0.6M1813.0 515.9l1.2 -0.5M1655.2 351.1l-0.4 0.8M1946.7 365.1l0.5 2.1M1673.0 441.1l0.1 1.6M1658.9 465.8l1.9 1.0M1692.2 528.0l-1.8 1.2M1910.0 366.7l0.7 2.1M1839.8 388.5l0.2 0.3M1923.8 404.3l1.9 -0.2M1934.7 339.2l0.6 0.3M1790.8 436.9l1.5 1.4M1944.3 349.9l1.2 1.2M1928.5 381.9l1.8 -0.3M1648.3 457.7l0.4 1.1M1882.6 543.0l0.1 0.6M1870.4 513.3l0.3 0.5M1711.0 494.4l-0.2 0.2M1796.6 521.5l1.8 -0.8M1630.1 493.8l0.6 1.1M1933.4 395.5l1.9 0.5M1784.4 371.6l0.4 1.9M1963.5 390.9l1.0 0.5M1815.2 449.0l-0.6 -1.3M1774.2 359.0l0.3 2.0M1698.4 547.5l0.7 -1.0M1644.4 463.3l-1.3 1.1M1638.5 474.0l-1.8 1.0M1716.7 535.2l0.4 -0.8M1813.6 446.7l0.2 -0.8M1650.8 445.0l0.6 1.4M1632.1 542.4l-0.2 1.4M1681.3 525.1l-0.3 -0.2M1718.0 394.5l0.5 0.7M1721.1 489.2l-0.9 0.2M1835.6 421.9l0.4 1.3M1711.4 380.8l0.5 0.9M1650.8 390.6l0.2 1.7M1702.7 504.3l-1.2 1.2M1823.1 332.6l-0.8 1.7M1633.4 535.2l0.6 1.2M1714.1 385.6l0.4 0.4M1833.9 417.0l1.1 0.1M1932.2 425.0l0.7 0.1M1676.5 329.7l-0.1 1.4M1652.8 430.2l-0.4 0.9M1791.7 441.0l0.6 0.3M1839.2 435.6l-0.1 1.0M1931.8 328.0l0.2 0.2M1872.4 519.9l0.7 1.0M1905.0 341.5l0.2 1.9M1747.3 342.5l-1.0 1.8M1630.1 458.6l1.5 -0.7M1901.6 339.4l-0.1 1.7M1943.1 350.4l0.2 0.6M1747.6 526.1l1.5 0.4M1754.4 390.2l1.4 0.4M1936.1 386.3l1.7 1.3M1930.9 349.0l0.7 0.5M1955.7 454.9l1.2 -0.6M1868.4 507.4l0.8 1.5M1853.5 395.5l1.5 1.1M1965.6 419.4l-0.3 0.6M1714.1 496.8l-1.2 1.0M1934.9 388.4l1.4 1.0M1929.9 449.2l-1.7 0.5M1946.2 371.2l0.1 1.0M1858.9 455.7l1.2 -0.9M1633.0 479.1l-1.6 1.0M1743.5 368.7l-0.4 1.1M1764.1 332.4l0.2 1.4M1937.6 357.2l1.3 1.2M1927.1 400.8l0.8 -0.5" fill="none" stroke="#5f72c0" stroke-width="3.6" stroke-linecap="round" stroke-linejoin="round" opacity="0.9" />
<path d="M1910.9 490.8l-0.5 1.2M1847.3 470.3l0.5 -0.4M1650.7 424.3l0.6 0.7M1707.8 331.9l-0.1 2.1M1652.2 327.4l0.0 1.9M1666.1 494.7l-0.0 -0.7M1749.2 339.7l-0.3 0.9M1739.4 377.8l-0.6 0.6M1735.8 481.3l-0.7 0.7M1851.7 391.7l1.6 -0.5M1854.8 428.3l-0.1 0.4M1920.4 405.8l1.7 -0.9M1668.8 471.1l1.3 -0.3M1937.7 463.3l1.6 -0.1M1877.4 514.5l0.1 1.0M1851.6 344.9l1.1 -0.8M1639.7 461.2l1.7 1.2M1876.7 485.1l0.1 0.9M1789.5 396.4l-0.5 2.1M1767.9 526.7l1.2 -0.2M1636.0 497.6l0.4 1.2M1835.8 479.7l0.3 -0.3M1964.5 410.3l-0.2 0.7M1851.1 411.8l0.4 0.2M1922.5 468.6l-0.2 0.3M1879.9 496.1l2.0 -0.6M1819.9 447.7l-0.7 -0.4M1726.4 439.2l0.6 1.2M1675.4 502.3l1.0 -0.8M1629.7 532.5l0.8 2.0M1742.5 359.4l-0.3 1.7M1920.3 480.2l-0.4 1.0M1769.0 527.1l1.6 -0.5M1876.4 402.0l0.6 0.9M1711.0 386.0l0.6 0.4M1918.4 376.5l0.3 0.4M1660.2 502.1l0.9 -0.2M1657.8 367.0l-0.1 0.5M1887.5 407.4l0.2 0.4M1960.1 446.9l0.8 -0.5M1821.8 506.5l0.3 -0.4M1875.7 537.2l0.1 0.3M1887.1 490.2l-0.1 2.0M1642.2 508.3l1.7 -0.5M1889.1 488.8l-0.2 1.6M1775.6 343.2l1.2 0.4M1658.0 355.3l-0.8 1.5M1922.6 404.7l0.7 -0.3M1702.4 543.8l1.7 -1.0M1955.9 450.4l1.2 -0.4M1952.9 445.4l1.2 -1.5M1960.7 440.2l-1.5 0.5M1911.5 367.1l2.0 0.7M1655.2 500.6l0.6 -0.9M1741.3 419.5l1.1 0.1M1813.2 392.3l-1.6 0.7M1763.8 392.1l1.0 -0.1M1818.7 455.1l-1.0 -0.0M1821.3 386.8l0.4 1.2M1853.5 432.6l-0.1 0.7M1918.9 513.9l1.4 -1.0M1724.1 486.1l-1.5 1.0M1857.6 395.1l1.2 0.2M1939.9 369.3l0.4 2.1M1928.1 425.2l1.7 0.0M1753.5 529.8l0.3 0.4M1954.3 386.7l1.4 0.5M1878.3 546.0l-0.6 1.9M1856.1 446.2l0.4 0.7M1651.7 435.2l0.7 0.9M1875.1 402.2l2.1 0.0M1704.7 364.1l-0.1 2.2M1950.5 446.9l1.3 -0.6M1756.2 424.0l1.7 0.1M1913.1 513.2l1.2 0.1M1851.8 375.8l-0.5 1.2M1908.2 354.7l-0.4 1.3M1735.5 387.7l-0.4 0.3" fill="none" stroke="#4c60b4" stroke-width="3.3" stroke-linecap="round" stroke-linejoin="round" opacity="0.9" />
<path d="M1785.0 437.6l0.4 0.2M1870.9 514.0l1.0 0.9M1845.3 470.2l1.0 -0.6M1945.6 462.5l0.8 -0.1M1968.8 405.0l-0.9 1.4M1810.8 434.5l-0.1 -0.8M1958.6 451.3l1.6 -0.9M1880.7 494.2l0.2 0.8M1846.2 400.8l1.8 1.2M1647.9 458.9l1.6 0.5M1630.4 525.6l0.0 2.0M1736.5 418.3l0.4 -0.3M1680.0 463.8l0.6 -1.2M1869.1 399.2l2.0 0.7M1937.8 364.6l0.3 1.0M1884.7 402.6l1.2 -0.6M1816.6 513.7l0.2 -1.8M1939.0 382.3l1.1 0.5M1937.0 397.0l1.1 -0.4M1680.1 470.8l0.9 -1.9M1768.3 360.6l-0.2 0.5M1942.3 355.8l1.4 1.2M1712.9 536.6l0.7 -1.8M1875.4 491.4l-0.0 1.1M1947.1 395.5l1.4 0.0M1874.0 523.3l-0.3 1.3M1803.1 521.2l1.8 -1.0M1879.1 403.0l1.1 -0.3M1878.4 491.6l1.6 -1.1M1708.6 348.0l0.8 2.0M1637.8 501.6l1.5 0.8M1863.8 511.2l1.4 1.3M1650.2 396.1l0.7 1.7M1795.9 372.5l0.5 0.3M1826.8 451.4l-0.2 1.8M1923.6 425.5l0.8 0.3M1866.2 407.2l-0.3 0.1M1885.0 413.7l-0.6 0.8M1853.5 375.7l-0.6 0.3M1934.7 339.6l0.7 0.9M1827.1 493.2l0.2 -0.8M1705.5 331.0l0.1 0.9M1941.3 425.1l1.1 -0.0M1736.4 391.5l0.8 0.2M1634.1 480.3l0.1 2.2M1886.0 492.8l-0.0 0.9M1893.6 513.3l1.3 0.0M1886.9 404.1l1.0 -0.1M1905.4 345.9l0.2 0.6M1882.0 528.4l0.4 1.0M1687.8 451.2l-1.5 -1.6M1817.0 417.1l1.0 -0.4" fill="none" stroke="#7c8ccc" stroke-width="3.9" stroke-linecap="round" stroke-linejoin="round" opacity="0.9" />
</g>
<text x="1634.2" y="549.0" font-family='"Liberation Sans", sans-serif' font-size="5.2" fill="#333">50 μm</text>
<path d="M1628.2 551.1v2.2h32v-2.2" fill="none" stroke="#444" stroke-width="0.6" />
</g>
<path d="M1777.1 434.1h0.8M1780.7 435.5h0.8M1784.3 436.8h0.8M1798.8 433.2h0.8M1799.7 435.5h0.8M1663.2 495.5h0.8M1665.0 499.2h0.8M1703.0 472.0h0.8M1853.0 396.1h0.8M1858.4 401.5h0.8M1921.7 408.8h0.8M1936.1 381.7h0.8M1768.0 531.7h0.8" fill="none" stroke="#2a2a20" stroke-width="1.6" stroke-linecap="round" stroke-linejoin="round" opacity="0.85" />
<rect x="1894.60" y="539.80" width="63.20" height="5.60" fill="#000" stroke="none" stroke-width="0" />
<text transform="translate(1889.78,532.60) scale(1.1669,1)" font-family='"Liberation Serif", serif' font-size="21.40" font-weight="normal" fill="#000" stroke="#000" stroke-width="0.35" >100μm</text>
<rect x="1257.40" y="74.10" width="349.50" height="234.00" fill="none" stroke="#000" stroke-width="2.0" />
<rect x="1621.20" y="74.10" width="350.20" height="234.00" fill="none" stroke="#000" stroke-width="2.0" />
<rect x="1257.40" y="324.40" width="349.50" height="234.20" fill="none" stroke="#000" stroke-width="2.0" />
<rect x="1621.20" y="324.40" width="350.20" height="234.20" fill="none" stroke="#000" stroke-width="2.0" />
</g>
<g id="panelD">
<text transform="translate(1.20,634.80)" text-anchor="start" font-family='"Liberation Sans", sans-serif' font-size="34.80" font-weight="bold" fill="#000" stroke="#000" stroke-width="0.35">D</text>
<text transform="translate(270.98,669.20)" font-family='"Liberation Sans", sans-serif' font-size="36.00" font-weight="normal" fill="#000" stroke="#000" stroke-width="0.35" >Overall survival</text>
<line x1="154.30" y1="712.10" x2="154.30" y2="1033.40" stroke="#000" stroke-width="3.6" stroke-linecap="butt" />
<line x1="145.00" y1="1031.60" x2="636.00" y2="1031.60" stroke="#000" stroke-width="3.6" stroke-linecap="butt" />
<line x1="145.00" y1="713.90" x2="154.30" y2="713.90" stroke="#000" stroke-width="3.6" stroke-linecap="butt" />
<text transform="translate(141.00,724.50)" text-anchor="end" font-family='"Liberation Sans", sans-serif' font-size="30.50" font-weight="normal" fill="#000" stroke="#000" stroke-width="0.35">100</text>
<line x1="145.00" y1="777.50" x2="154.30" y2="777.50" stroke="#000" stroke-width="3.6" stroke-linecap="butt" />
<text transform="translate(141.00,788.10)" text-anchor="end" font-family='"Liberation Sans", sans-serif' font-size="30.50" font-weight="normal" fill="#000" stroke="#000" stroke-width="0.35">80</text>
<line x1="145.00" y1="841.00" x2="154.30" y2="841.00" stroke="#000" stroke-width="3.6" stroke-linecap="butt" />
<text transform="translate(141.00,851.60)" text-anchor="end" font-family='"Liberation Sans", sans-serif' font-size="30.50" font-weight="normal" fill="#000" stroke="#000" stroke-width="0.35">60</text>
<line x1="145.00" y1="904.60" x2="154.30" y2="904.60" stroke="#000" stroke-width="3.6" stroke-linecap="butt" />
<text transform="translate(141.00,915.20)" text-anchor="end" font-family='"Liberation Sans", sans-serif' font-size="30.50" font-weight="normal" fill="#000" stroke="#000" stroke-width="0.35">40</text>
<line x1="145.00" y1="968.10" x2="154.30" y2="968.10" stroke="#000" stroke-width="3.6" stroke-linecap="butt" />
<text transform="translate(141.00,978.70)" text-anchor="end" font-family='"Liberation Sans", sans-serif' font-size="30.50" font-weight="normal" fill="#000" stroke="#000" stroke-width="0.35">20</text>
<line x1="145.00" y1="1031.60" x2="154.30" y2="1031.60" stroke="#000" stroke-width="3.6" stroke-linecap="butt" />
<text transform="translate(141.00,1042.20)" text-anchor="end" font-family='"Liberation Sans", sans-serif' font-size="30.50" font-weight="normal" fill="#000" stroke="#000" stroke-width="0.35">0</text>
<line x1="154.30" y1="1031.60" x2="154.30" y2="1041.20" stroke="#000" stroke-width="3.6" stroke-linecap="butt" />
<text transform="translate(153.80,1071.70)" text-anchor="middle" font-family='"Liberation Sans", sans-serif' font-size="30.50" font-weight="normal" fill="#000" stroke="#000" stroke-width="0.35">0</text>
<line x1="250.20" y1="1031.60" x2="250.20" y2="1041.20" stroke="#000" stroke-width="3.6" stroke-linecap="butt" />
<text transform="translate(249.70,1071.70)" text-anchor="middle" font-family='"Liberation Sans", sans-serif' font-size="30.50" font-weight="normal" fill="#000" stroke="#000" stroke-width="0.35">20</text>
<line x1="346.20" y1="1031.60" x2="346.20" y2="1041.20" stroke="#000" stroke-width="3.6" stroke-linecap="butt" />
<text transform="translate(345.70,1071.70)" text-anchor="middle" font-family='"Liberation Sans", sans-serif' font-size="30.50" font-weight="normal" fill="#000" stroke="#000" stroke-width="0.35">40</text>
<line x1="442.20" y1="1031.60" x2="442.20" y2="1041.20" stroke="#000" stroke-width="3.6" stroke-linecap="butt" />
<text transform="translate(441.70,1071.70)" text-anchor="middle" font-family='"Liberation Sans", sans-serif' font-size="30.50" font-weight="normal" fill="#000" stroke="#000" stroke-width="0.35">60</text>
<line x1="538.10" y1="1031.60" x2="538.10" y2="1041.20" stroke="#000" stroke-width="3.6" stroke-linecap="butt" />
<text transform="translate(537.60,1071.70)" text-anchor="middle" font-family='"Liberation Sans", sans-serif' font-size="30.50" font-weight="normal" fill="#000" stroke="#000" stroke-width="0.35">80</text>
<line x1="634.20" y1="1031.60" x2="634.20" y2="1041.20" stroke="#000" stroke-width="3.6" stroke-linecap="butt" />
<text transform="translate(633.70,1071.70)" text-anchor="middle" font-family='"Liberation Sans", sans-serif' font-size="30.50" font-weight="normal" fill="#000" stroke="#000" stroke-width="0.35">100</text>
<text transform="translate(215.17,1120.00)" font-family='"Liberation Sans", sans-serif' font-size="36.25" font-weight="normal" fill="#000" stroke="#000" stroke-width="0.35" >Survival time (months)</text>
<text transform="translate(71.40,1026.05) rotate(-90) scale(0.9450,1)" font-family='"Liberation Sans", sans-serif' font-size="37.68" font-weight="normal" fill="#000" stroke="#000" stroke-width="0.35">Probability of Survival</text>
<text transform="translate(211.69,979.20)" font-family='"Liberation Sans", sans-serif' font-size="36.32" font-weight="normal" fill="#000" stroke="#000" stroke-width="0.35" >P=0.0098</text>
<line x1="461.20" y1="722.70" x2="495.30" y2="722.70" stroke="#0000ff" stroke-width="4.5" stroke-linecap="butt" />
<line x1="478.30" y1="716.50" x2="478.30" y2="722.70" stroke="#0000ff" stroke-width="2.6" stroke-linecap="butt" />
<line x1="461.20" y1="764.50" x2="495.30" y2="764.50" stroke="#ff0000" stroke-width="4.5" stroke-linecap="butt" />
<line x1="478.30" y1="758.30" x2="478.30" y2="764.50" stroke="#ff0000" stroke-width="2.6" stroke-linecap="butt" />
<text transform="translate(513.81,733.30)" font-family='"Liberation Sans", sans-serif' font-size="31.07" font-weight="normal" fill="#000" stroke="#000" stroke-width="0.35" >Fbxo32 (-)</text>
<text transform="translate(513.83,774.80)" font-family='"Liberation Sans", sans-serif' font-size="30.87" font-weight="normal" fill="#000" stroke="#000" stroke-width="0.35" >Fbxo32 (+)</text>
<path d="M154.3 714.0 L178.1 714.0 L178.1 722.7 L207.1 722.7 L207.1 731.4 L269.4 731.4 L269.4 739.9 L298.5 739.9 L298.5 748.4 L336.6 748.4 L336.6 757.1 L351.0 757.1 L351.0 774.9 L400.0 774.9 L403.8 775.2 L403.8 784.2 L423.1 784.2 L423.1 793.2 L471.2 793.2 L471.2 803.4 L481.0 803.4 L481.0 813.9 L500.0 813.9 L500.0 824.4 L519.1 824.4 L519.1 838.1 L610.8 838.1" fill="none" stroke="#0000ff" stroke-width="4.5" stroke-linejoin="miter"/>
<path d="M154.3 714.0 L158.7 714.0 L158.7 718.5 L163.8 718.5 L163.8 722.7 L173.4 722.7 L173.4 727.1 L183.1 727.1 L183.1 735.8 L187.9 735.8 L187.9 740.1 L192.6 740.1 L192.6 744.5 L202.2 744.5 L202.2 752.6 L211.8 752.6 L211.8 757.1 L221.6 757.1 L221.6 761.2 L226.3 761.2 L226.3 765.5 L230.9 765.5 L230.9 769.8 L240.6 769.8 L240.6 778.6 L245.4 778.6 L245.4 783.2 L259.7 783.2 L259.7 787.6 L264.4 787.6 L264.4 791.9 L283.8 791.9 L283.8 796.3 L288.4 796.3 L288.4 801.0 L293.4 801.0 L293.4 809.9 L298.1 809.9 L298.1 815.0 L302.9 815.0 L302.9 819.4 L307.8 819.4 L307.8 824.1 L317.5 824.1 L317.5 828.8 L322.3 828.8 L322.3 833.3 L360.6 833.3 L360.6 838.4 L375.1 838.4 L375.1 843.5 L385.0 843.5 L385.0 848.7 L400.0 848.7 L382.7 848.7 L408.8 848.7 L408.8 854.1 L423.1 854.1 L423.1 859.8 L437.5 859.8 L437.5 865.4 L451.8 865.4 L451.8 870.9 L461.6 870.9 L461.6 876.8 L466.7 876.8 L466.7 889.5 L495.3 889.5 L495.3 897.9 L504.8 897.9 L504.8 906.3 L524.0 906.3 L524.0 915.7 L610.8 915.7" fill="none" stroke="#ff0000" stroke-width="4.5" stroke-linejoin="miter"/>
<path d="M202.2 722.7v-6.3M327.2 748.4v-6.3M389.8 774.9v-6.3M389.6 775.2v-6.3M447.3 793.2v-6.3M461.8 793.2v-6.3M466.7 793.2v-6.3M505.0 824.4v-6.3M509.7 824.4v-6.3M528.7 838.1v-6.3M538.5 838.1v-6.3M553.2 838.1v-6.3M557.9 838.1v-6.3M562.5 838.1v-6.3M572.3 838.1v-6.3M581.9 838.1v-6.3M586.6 838.1v-6.3M601.3 838.1v-6.3M606.0 838.1v-6.3M610.5 838.1v-6.3" fill="none" stroke="#0000ff" stroke-width="2.6" />
<path d="M235.6 769.8v-6.3M279.1 791.9v-6.3M336.8 833.3v-6.3M341.5 833.3v-6.3M356.0 833.3v-6.3M365.7 838.4v-6.3M389.8 848.7v-6.3M389.6 848.7v-6.3M413.4 854.1v-6.3M442.2 865.4v-6.3M471.2 889.5v-6.3M490.3 889.5v-6.3M500.0 897.9v-6.3M533.5 915.7v-6.3M543.1 915.7v-6.3M553.2 915.7v-6.3M557.9 915.7v-6.3M562.5 915.7v-6.3M572.3 915.7v-6.3M576.8 915.7v-6.3M586.6 915.7v-6.3M610.5 915.7v-6.3" fill="none" stroke="#ff0000" stroke-width="2.6" />
</g>
<g id="panelE">
<text transform="translate(776.70,635.50)" text-anchor="start" font-family='"Liberation Sans", sans-serif' font-size="34.60" font-weight="bold" fill="#000" stroke="#000" stroke-width="0.35">E</text>
<rect x="1047.20" y="644.70" width="33.20" height="20.90" fill="#8181ff" stroke="none" stroke-width="0" />
<rect x="1050.90" y="648.40" width="25.80" height="13.50" fill="none" stroke="#3d3dff" stroke-width="2.6" />
<rect x="1047.20" y="673.00" width="33.20" height="21.20" fill="#ff8181" stroke="none" stroke-width="0" />
<rect x="1050.90" y="676.70" width="25.80" height="13.80" fill="none" stroke="#ff3a3a" stroke-width="2.6" />
<text transform="translate(1098.90,664.20)" font-family='"Liberation Sans", sans-serif' font-size="30.01" font-weight="normal" fill="#000" stroke="#000" stroke-width="0.35" >Low  FBXO32</text>
<text transform="translate(1098.90,693.50)" font-family='"Liberation Sans", sans-serif' font-size="30.02" font-weight="normal" fill="#000" stroke="#000" stroke-width="0.35" >High FBXO32</text>
<line x1="919.90" y1="716.20" x2="919.90" y2="1032.80" stroke="#000" stroke-width="3.4" stroke-linecap="butt" />
<line x1="910.80" y1="1031.10" x2="1297.50" y2="1031.10" stroke="#000" stroke-width="3.4" stroke-linecap="butt" />
<line x1="910.80" y1="717.90" x2="919.90" y2="717.90" stroke="#000" stroke-width="3.4" stroke-linecap="butt" />
<text transform="translate(907.60,728.30)" text-anchor="end" font-family='"Liberation Sans", sans-serif' font-size="30.30" font-weight="normal" fill="#000" stroke="#000" stroke-width="0.35">100</text>
<line x1="910.80" y1="796.20" x2="919.90" y2="796.20" stroke="#000" stroke-width="3.4" stroke-linecap="butt" />
<text transform="translate(907.60,806.60)" text-anchor="end" font-family='"Liberation Sans", sans-serif' font-size="30.30" font-weight="normal" fill="#000" stroke="#000" stroke-width="0.35">75</text>
<line x1="910.80" y1="874.50" x2="919.90" y2="874.50" stroke="#000" stroke-width="3.4" stroke-linecap="butt" />
<text transform="translate(907.60,884.90)" text-anchor="end" font-family='"Liberation Sans", sans-serif' font-size="30.30" font-weight="normal" fill="#000" stroke="#000" stroke-width="0.35">50</text>
<line x1="910.80" y1="952.80" x2="919.90" y2="952.80" stroke="#000" stroke-width="3.4" stroke-linecap="butt" />
<text transform="translate(907.60,963.20)" text-anchor="end" font-family='"Liberation Sans", sans-serif' font-size="30.30" font-weight="normal" fill="#000" stroke="#000" stroke-width="0.35">25</text>
<line x1="910.80" y1="1031.10" x2="919.90" y2="1031.10" stroke="#000" stroke-width="3.4" stroke-linecap="butt" />
<text transform="translate(907.60,1041.50)" text-anchor="end" font-family='"Liberation Sans", sans-serif' font-size="30.30" font-weight="normal" fill="#000" stroke="#000" stroke-width="0.35">0</text>
<rect x="973.90" y="718.30" width="107.00" height="137.00" fill="#8181ff" stroke="none" stroke-width="0" />
<rect x="973.90" y="854.10" width="107.00" height="175.50" fill="#ff8181" stroke="none" stroke-width="0" />
<rect x="976.90" y="721.30" width="101.00" height="132.80" fill="none" stroke="#3d3dff" stroke-width="2.0" stroke-opacity="0.9"/>
<line x1="974.40" y1="855.30" x2="1080.40" y2="855.30" stroke="#ff3a3a" stroke-width="2.6" stroke-linecap="butt" />
<line x1="976.90" y1="855.30" x2="976.90" y2="1029.60" stroke="#ff3a3a" stroke-width="2.0" stroke-linecap="butt" />
<line x1="1077.90" y1="855.30" x2="1077.90" y2="1029.60" stroke="#ff3a3a" stroke-width="2.0" stroke-linecap="butt" />
<rect x="1134.90" y="718.30" width="106.70" height="69.30" fill="#8181ff" stroke="none" stroke-width="0" />
<rect x="1134.90" y="786.40" width="106.70" height="243.20" fill="#ff8181" stroke="none" stroke-width="0" />
<rect x="1137.90" y="721.30" width="100.70" height="65.10" fill="none" stroke="#3d3dff" stroke-width="2.0" stroke-opacity="0.9"/>
<line x1="1135.40" y1="787.60" x2="1241.10" y2="787.60" stroke="#ff3a3a" stroke-width="2.6" stroke-linecap="butt" />
<line x1="1137.90" y1="787.60" x2="1137.90" y2="1029.60" stroke="#ff3a3a" stroke-width="2.0" stroke-linecap="butt" />
<line x1="1238.60" y1="787.60" x2="1238.60" y2="1029.60" stroke="#ff3a3a" stroke-width="2.0" stroke-linecap="butt" />
<line x1="1027.70" y1="1031.10" x2="1027.70" y2="1040.40" stroke="#000" stroke-width="3.4" stroke-linecap="butt" />
<line x1="1188.00" y1="1031.10" x2="1188.00" y2="1040.40" stroke="#000" stroke-width="3.4" stroke-linecap="butt" />
<text transform="translate(1027.40,1072.50)" text-anchor="middle" font-family='"Liberation Sans", sans-serif' font-size="36.50" font-weight="normal" fill="#000" stroke="#000" stroke-width="0.35">-</text>
<text transform="translate(1188.00,1072.50)" text-anchor="middle" font-family='"Liberation Sans", sans-serif' font-size="36.50" font-weight="normal" fill="#000" stroke="#000" stroke-width="0.35">+</text>
<text transform="translate(797.38,1074.90)" font-family='"Liberation Sans", sans-serif' font-size="36.47" font-weight="normal" fill="#000" stroke="#000" stroke-width="0.35" >Lymphatic</text>
<text transform="translate(798.26,1117.40)" font-family='"Liberation Sans", sans-serif' font-size="35.96" font-weight="normal" fill="#000" stroke="#000" stroke-width="0.35" >invasion</text>
<text transform="translate(1048.73,1117.40)" font-family='"Liberation Sans", sans-serif' font-size="35.83" font-weight="normal" fill="#000" stroke="#000" stroke-width="0.35" >P=0.017</text>
<text transform="translate(856.50,1003.66) rotate(-90) scale(0.9429,1)" font-family='"Liberation Sans", sans-serif' font-size="37.97" font-weight="normal" fill="#000" stroke="#000" stroke-width="0.35">FBXO32 level (%)</text>
</g>
<g id="panelF">
<text transform="translate(1401.80,635.50)" text-anchor="start" font-family='"Liberation Sans", sans-serif' font-size="34.60" font-weight="bold" fill="#000" stroke="#000" stroke-width="0.35">F</text>
<rect x="1696.60" y="637.60" width="34.00" height="21.40" fill="#8181ff" stroke="none" stroke-width="0" />
<rect x="1700.30" y="641.30" width="26.60" height="14.00" fill="none" stroke="#3d3dff" stroke-width="2.6" />
<rect x="1696.60" y="668.20" width="34.00" height="21.40" fill="#ff8181" stroke="none" stroke-width="0" />
<rect x="1700.30" y="671.90" width="26.60" height="14.00" fill="none" stroke="#ff3a3a" stroke-width="2.6" />
<text transform="translate(1749.48,658.90)" font-family='"Liberation Sans", sans-serif' font-size="30.29" font-weight="normal" fill="#000" stroke="#000" stroke-width="0.35" >Low  FBXO32</text>
<text transform="translate(1749.47,688.80)" font-family='"Liberation Sans", sans-serif' font-size="30.31" font-weight="normal" fill="#000" stroke="#000" stroke-width="0.35" >High FBXO32</text>
<line x1="1559.80" y1="712.10" x2="1559.80" y2="1035.90" stroke="#000" stroke-width="3.4" stroke-linecap="butt" />
<line x1="1550.30" y1="1034.20" x2="1939.50" y2="1034.20" stroke="#000" stroke-width="3.4" stroke-linecap="butt" />
<line x1="1550.30" y1="713.80" x2="1559.80" y2="713.80" stroke="#000" stroke-width="3.4" stroke-linecap="butt" />
<text transform="translate(1546.80,724.20)" text-anchor="end" font-family='"Liberation Sans", sans-serif' font-size="30.30" font-weight="normal" fill="#000" stroke="#000" stroke-width="0.35">100</text>
<line x1="1550.30" y1="793.90" x2="1559.80" y2="793.90" stroke="#000" stroke-width="3.4" stroke-linecap="butt" />
<text transform="translate(1546.80,804.30)" text-anchor="end" font-family='"Liberation Sans", sans-serif' font-size="30.30" font-weight="normal" fill="#000" stroke="#000" stroke-width="0.35">75</text>
<line x1="1550.30" y1="874.00" x2="1559.80" y2="874.00" stroke="#000" stroke-width="3.4" stroke-linecap="butt" />
<text transform="translate(1546.80,884.40)" text-anchor="end" font-family='"Liberation Sans", sans-serif' font-size="30.30" font-weight="normal" fill="#000" stroke="#000" stroke-width="0.35">50</text>
<line x1="1550.30" y1="954.10" x2="1559.80" y2="954.10" stroke="#000" stroke-width="3.4" stroke-linecap="butt" />
<text transform="translate(1546.80,964.50)" text-anchor="end" font-family='"Liberation Sans", sans-serif' font-size="30.30" font-weight="normal" fill="#000" stroke="#000" stroke-width="0.35">25</text>
<line x1="1550.30" y1="1034.20" x2="1559.80" y2="1034.20" stroke="#000" stroke-width="3.4" stroke-linecap="butt" />
<text transform="translate(1546.80,1044.60)" text-anchor="end" font-family='"Liberation Sans", sans-serif' font-size="30.30" font-weight="normal" fill="#000" stroke="#000" stroke-width="0.35">0</text>
<rect x="1598.20" y="714.20" width="74.90" height="157.80" fill="#8181ff" stroke="none" stroke-width="0" />
<rect x="1598.20" y="870.80" width="74.90" height="161.90" fill="#ff8181" stroke="none" stroke-width="0" />
<rect x="1601.20" y="717.20" width="68.90" height="153.60" fill="none" stroke="#3d3dff" stroke-width="2.0" stroke-opacity="0.9"/>
<line x1="1598.70" y1="872.00" x2="1672.60" y2="872.00" stroke="#ff3a3a" stroke-width="2.6" stroke-linecap="butt" />
<line x1="1601.20" y1="872.00" x2="1601.20" y2="1032.70" stroke="#ff3a3a" stroke-width="2.0" stroke-linecap="butt" />
<line x1="1670.10" y1="872.00" x2="1670.10" y2="1032.70" stroke="#ff3a3a" stroke-width="2.0" stroke-linecap="butt" />
<rect x="1711.10" y="714.20" width="75.10" height="80.70" fill="#8181ff" stroke="none" stroke-width="0" />
<rect x="1711.10" y="793.70" width="75.10" height="239.00" fill="#ff8181" stroke="none" stroke-width="0" />
<rect x="1714.10" y="717.20" width="69.10" height="76.50" fill="none" stroke="#3d3dff" stroke-width="2.0" stroke-opacity="0.9"/>
<line x1="1711.60" y1="794.90" x2="1785.70" y2="794.90" stroke="#ff3a3a" stroke-width="2.6" stroke-linecap="butt" />
<line x1="1714.10" y1="794.90" x2="1714.10" y2="1032.70" stroke="#ff3a3a" stroke-width="2.0" stroke-linecap="butt" />
<line x1="1783.20" y1="794.90" x2="1783.20" y2="1032.70" stroke="#ff3a3a" stroke-width="2.0" stroke-linecap="butt" />
<rect x="1824.50" y="714.20" width="75.50" height="72.10" fill="#8181ff" stroke="none" stroke-width="0" />
<rect x="1824.50" y="785.10" width="75.50" height="247.60" fill="#ff8181" stroke="none" stroke-width="0" />
<rect x="1827.50" y="717.20" width="69.50" height="67.90" fill="none" stroke="#3d3dff" stroke-width="2.0" stroke-opacity="0.9"/>
<line x1="1825.00" y1="786.30" x2="1899.50" y2="786.30" stroke="#ff3a3a" stroke-width="2.6" stroke-linecap="butt" />
<line x1="1827.50" y1="786.30" x2="1827.50" y2="1032.70" stroke="#ff3a3a" stroke-width="2.0" stroke-linecap="butt" />
<line x1="1897.00" y1="786.30" x2="1897.00" y2="1032.70" stroke="#ff3a3a" stroke-width="2.0" stroke-linecap="butt" />
<line x1="1634.80" y1="1034.20" x2="1634.80" y2="1044.00" stroke="#000" stroke-width="3.4" stroke-linecap="butt" />
<text transform="translate(1634.80,1074.40)" text-anchor="middle" font-family='"Liberation Serif", serif' font-size="32.00" font-weight="normal" fill="#000" stroke="#000" stroke-width="0.35">I</text>
<line x1="1748.20" y1="1034.20" x2="1748.20" y2="1044.00" stroke="#000" stroke-width="3.4" stroke-linecap="butt" />
<text transform="translate(1748.20,1074.40)" text-anchor="middle" font-family='"Liberation Serif", serif' font-size="32.00" font-weight="normal" fill="#000" stroke="#000" stroke-width="0.35">II</text>
<line x1="1861.60" y1="1034.20" x2="1861.60" y2="1044.00" stroke="#000" stroke-width="3.4" stroke-linecap="butt" />
<text transform="translate(1861.60,1074.40)" text-anchor="middle" font-family='"Liberation Serif", serif' font-size="32.00" font-weight="normal" fill="#000" stroke="#000" stroke-width="0.35">III</text>
<text transform="translate(1478.18,1082.00)" font-family='"Liberation Sans", sans-serif' font-size="36.03" font-weight="normal" fill="#000" stroke="#000" stroke-width="0.35" >TNM</text>
<text transform="translate(1465.59,1124.60)" font-family='"Liberation Sans", sans-serif' font-size="36.84" font-weight="normal" fill="#000" stroke="#000" stroke-width="0.35" >stage</text>
<text transform="translate(1688.61,1124.60)" font-family='"Liberation Sans", sans-serif' font-size="36.17" font-weight="normal" fill="#000" stroke="#000" stroke-width="0.35" >P=0.023</text>
<text transform="translate(1490.30,1018.09) rotate(-90) scale(0.9616,1)" font-family='"Liberation Sans", sans-serif' font-size="37.54" font-weight="normal" fill="#000" stroke="#000" stroke-width="0.35">FBXO32 level (%)</text>
</g>
<g id="panelG">
<text transform="translate(0.20,1186.00)" text-anchor="start" font-family='"Liberation Sans", sans-serif' font-size="34.60" font-weight="bold" fill="#000" stroke="#000" stroke-width="0.35">G</text>
<line x1="272.00" y1="1226.10" x2="272.00" y2="1592.30" stroke="#000" stroke-width="3.4" stroke-linecap="butt" />
<line x1="260.50" y1="1590.60" x2="816.50" y2="1590.60" stroke="#000" stroke-width="3.4" stroke-linecap="butt" />
<line x1="260.50" y1="1227.80" x2="272.00" y2="1227.80" stroke="#000" stroke-width="3.4" stroke-linecap="butt" />
<text transform="translate(257.60,1238.40)" text-anchor="end" font-family='"Liberation Sans", sans-serif' font-size="30.40" font-weight="normal" fill="#000" stroke="#000" stroke-width="0.35">2.5</text>
<line x1="260.50" y1="1300.40" x2="272.00" y2="1300.40" stroke="#000" stroke-width="3.4" stroke-linecap="butt" />
<text transform="translate(257.60,1311.00)" text-anchor="end" font-family='"Liberation Sans", sans-serif' font-size="30.40" font-weight="normal" fill="#000" stroke="#000" stroke-width="0.35">2.0</text>
<line x1="260.50" y1="1372.90" x2="272.00" y2="1372.90" stroke="#000" stroke-width="3.4" stroke-linecap="butt" />
<text transform="translate(257.60,1383.50)" text-anchor="end" font-family='"Liberation Sans", sans-serif' font-size="30.40" font-weight="normal" fill="#000" stroke="#000" stroke-width="0.35">1.5</text>
<line x1="260.50" y1="1445.50" x2="272.00" y2="1445.50" stroke="#000" stroke-width="3.4" stroke-linecap="butt" />
<text transform="translate(257.60,1456.10)" text-anchor="end" font-family='"Liberation Sans", sans-serif' font-size="30.40" font-weight="normal" fill="#000" stroke="#000" stroke-width="0.35">1.0</text>
<line x1="260.50" y1="1518.00" x2="272.00" y2="1518.00" stroke="#000" stroke-width="3.4" stroke-linecap="butt" />
<text transform="translate(257.60,1528.60)" text-anchor="end" font-family='"Liberation Sans", sans-serif' font-size="30.40" font-weight="normal" fill="#000" stroke="#000" stroke-width="0.35">0.5</text>
<line x1="260.50" y1="1590.60" x2="272.00" y2="1590.60" stroke="#000" stroke-width="3.4" stroke-linecap="butt" />
<text transform="translate(257.60,1601.20)" text-anchor="end" font-family='"Liberation Sans", sans-serif' font-size="30.40" font-weight="normal" fill="#000" stroke="#000" stroke-width="0.35">0.0</text>
<line x1="315.95" y1="1540.20" x2="315.95" y2="1546.25" stroke="#000" stroke-width="3.3" stroke-linecap="butt" />
<line x1="305.15" y1="1540.20" x2="326.75" y2="1540.20" stroke="#000" stroke-width="3.3" stroke-linecap="butt" />
<rect x="296.27" y="1546.65" width="39.35" height="43.95" fill="#ffffff" stroke="#000" stroke-width="4.8" />
<line x1="315.95" y1="1590.60" x2="315.95" y2="1601.80" stroke="#000" stroke-width="3.4" stroke-linecap="butt" />
<text transform="translate(323.15,1629.00) rotate(-45)" text-anchor="end" font-family='"Liberation Sans", sans-serif' font-size="30.00" font-weight="normal" fill="#000" stroke="#000" stroke-width="0.35">BEAS-2B</text>
<line x1="380.76" y1="1317.01" x2="380.76" y2="1332.38" stroke="#000" stroke-width="3.3" stroke-linecap="butt" />
<line x1="369.96" y1="1317.01" x2="391.56" y2="1317.01" stroke="#000" stroke-width="3.3" stroke-linecap="butt" />
<rect x="361.08" y="1332.78" width="39.35" height="257.82" fill="#d6d6d6" stroke="#000" stroke-width="4.8" />
<line x1="380.76" y1="1590.60" x2="380.76" y2="1601.80" stroke="#000" stroke-width="3.4" stroke-linecap="butt" />
<text transform="translate(380.76,1321.21)" text-anchor="middle" font-family='"Liberation Sans", sans-serif' font-size="30.50" font-weight="normal" fill="#000" stroke="#000" stroke-width="0.35">***</text>
<text transform="translate(387.96,1629.00) rotate(-45)" text-anchor="end" font-family='"Liberation Sans", sans-serif' font-size="30.00" font-weight="normal" fill="#000" stroke="#000" stroke-width="0.35">A549</text>
<line x1="446.18" y1="1244.51" x2="446.18" y2="1282.56" stroke="#000" stroke-width="3.3" stroke-linecap="butt" />
<line x1="435.38" y1="1244.51" x2="456.98" y2="1244.51" stroke="#000" stroke-width="3.3" stroke-linecap="butt" />
<rect x="426.70" y="1282.96" width="38.95" height="307.64" fill="#a3a3a8" stroke="#000" stroke-width="4.8" />
<line x1="446.18" y1="1590.60" x2="446.18" y2="1601.80" stroke="#000" stroke-width="3.4" stroke-linecap="butt" />
<text transform="translate(446.18,1248.71)" text-anchor="middle" font-family='"Liberation Sans", sans-serif' font-size="30.50" font-weight="normal" fill="#000" stroke="#000" stroke-width="0.35">**</text>
<text transform="translate(453.38,1629.00) rotate(-45)" text-anchor="end" font-family='"Liberation Sans", sans-serif' font-size="30.00" font-weight="normal" fill="#000" stroke="#000" stroke-width="0.35">PC9</text>
<line x1="510.99" y1="1360.76" x2="510.99" y2="1375.32" stroke="#000" stroke-width="3.3" stroke-linecap="butt" />
<line x1="500.19" y1="1360.76" x2="521.79" y2="1360.76" stroke="#000" stroke-width="3.3" stroke-linecap="butt" />
<rect x="491.51" y="1375.72" width="38.95" height="214.88" fill="#828282" stroke="#000" stroke-width="4.8" />
<line x1="510.99" y1="1590.60" x2="510.99" y2="1601.80" stroke="#000" stroke-width="3.4" stroke-linecap="butt" />
<text transform="translate(510.99,1364.96)" text-anchor="middle" font-family='"Liberation Sans", sans-serif' font-size="30.50" font-weight="normal" fill="#000" stroke="#000" stroke-width="0.35">***</text>
<text transform="translate(518.19,1629.00) rotate(-45)" text-anchor="end" font-family='"Liberation Sans", sans-serif' font-size="30.00" font-weight="normal" fill="#000" stroke="#000" stroke-width="0.35">H520</text>
<line x1="576.61" y1="1359.54" x2="576.61" y2="1376.94" stroke="#000" stroke-width="3.3" stroke-linecap="butt" />
<line x1="565.81" y1="1359.54" x2="587.41" y2="1359.54" stroke="#000" stroke-width="3.3" stroke-linecap="butt" />
<rect x="557.13" y="1377.34" width="38.95" height="213.26" fill="#626262" stroke="#000" stroke-width="4.8" />
<line x1="576.61" y1="1590.60" x2="576.61" y2="1601.80" stroke="#000" stroke-width="3.4" stroke-linecap="butt" />
<text transform="translate(576.61,1363.74)" text-anchor="middle" font-family='"Liberation Sans", sans-serif' font-size="30.50" font-weight="normal" fill="#000" stroke="#000" stroke-width="0.35">***</text>
<text transform="translate(583.81,1629.00) rotate(-45)" text-anchor="end" font-family='"Liberation Sans", sans-serif' font-size="30.00" font-weight="normal" fill="#000" stroke="#000" stroke-width="0.35">H1299</text>
<line x1="641.82" y1="1337.27" x2="641.82" y2="1353.85" stroke="#000" stroke-width="3.3" stroke-linecap="butt" />
<line x1="631.02" y1="1337.27" x2="652.62" y2="1337.27" stroke="#000" stroke-width="3.3" stroke-linecap="butt" />
<rect x="622.35" y="1354.25" width="38.95" height="236.35" fill="#424242" stroke="#000" stroke-width="4.8" />
<line x1="641.82" y1="1590.60" x2="641.82" y2="1601.80" stroke="#000" stroke-width="3.4" stroke-linecap="butt" />
<text transform="translate(641.82,1341.47)" text-anchor="middle" font-family='"Liberation Sans", sans-serif' font-size="30.50" font-weight="normal" fill="#000" stroke="#000" stroke-width="0.35">***</text>
<text transform="translate(649.02,1629.00) rotate(-45)" text-anchor="end" font-family='"Liberation Sans", sans-serif' font-size="30.00" font-weight="normal" fill="#000" stroke="#000" stroke-width="0.35">H1975</text>
<line x1="707.04" y1="1515.90" x2="707.04" y2="1531.67" stroke="#000" stroke-width="3.3" stroke-linecap="butt" />
<line x1="696.24" y1="1515.90" x2="717.84" y2="1515.90" stroke="#000" stroke-width="3.3" stroke-linecap="butt" />
<rect x="687.56" y="1532.07" width="38.95" height="58.53" fill="#212121" stroke="#000" stroke-width="4.8" />
<line x1="707.04" y1="1590.60" x2="707.04" y2="1601.80" stroke="#000" stroke-width="3.4" stroke-linecap="butt" />
<text transform="translate(707.04,1503.90)" text-anchor="middle" font-family='"Liberation Sans", sans-serif' font-size="23.00" font-weight="normal" fill="#000" stroke="#000" stroke-width="0.35">ns</text>
<text transform="translate(714.24,1629.00) rotate(-45)" text-anchor="end" font-family='"Liberation Sans", sans-serif' font-size="30.00" font-weight="normal" fill="#000" stroke="#000" stroke-width="0.35">H460</text>
<line x1="772.25" y1="1489.57" x2="772.25" y2="1499.27" stroke="#000" stroke-width="3.3" stroke-linecap="butt" />
<line x1="761.45" y1="1489.57" x2="783.05" y2="1489.57" stroke="#000" stroke-width="3.3" stroke-linecap="butt" />
<rect x="752.78" y="1499.67" width="38.95" height="90.93" fill="#000000" stroke="#000" stroke-width="4.8" />
<line x1="772.25" y1="1590.60" x2="772.25" y2="1601.80" stroke="#000" stroke-width="3.4" stroke-linecap="butt" />
<text transform="translate(772.25,1493.77)" text-anchor="middle" font-family='"Liberation Sans", sans-serif' font-size="30.50" font-weight="normal" fill="#000" stroke="#000" stroke-width="0.35">**</text>
<text transform="translate(779.45,1629.00) rotate(-45)" text-anchor="end" font-family='"Liberation Sans", sans-serif' font-size="30.00" font-weight="normal" fill="#000" stroke="#000" stroke-width="0.35">HCC827</text>
<line x1="260.50" y1="1590.60" x2="816.50" y2="1590.60" stroke="#000" stroke-width="3.4" stroke-linecap="butt" />
<text transform="translate(154.50,1648.06) rotate(-90) scale(0.9092,1)" font-family='"Liberation Sans", sans-serif' font-size="37.97" font-weight="normal" fill="#000" stroke="#000" stroke-width="0.35">Relative expression of FBXO32</text>
</g>
<g id="panelH">
<text transform="translate(925.70,1184.60)" text-anchor="start" font-family='"Liberation Sans", sans-serif' font-size="34.70" font-weight="bold" fill="#000" stroke="#000" stroke-width="0.35">H</text>
<defs>
<filter id="blurA" x="-20%" y="-50%" width="140%" height="200%"><feGaussianBlur stdDeviation="3.2 2.6"/></filter>
<filter id="blurF" x="-20%" y="-60%" width="140%" height="220%"><feGaussianBlur stdDeviation="4.2 3.4"/></filter>
<filter id="blurB" x="-20%" y="-50%" width="140%" height="200%"><feGaussianBlur stdDeviation="5 4"/></filter>
<linearGradient id="bg1" x1="0" x2="1" y1="0" y2="0"><stop offset="0" stop-color="#d2d2d2"/><stop offset="0.5" stop-color="#c9c9c9"/><stop offset="1" stop-color="#dcdcdc"/></linearGradient>
<clipPath id="clip1"><rect x="1107.5" y="1247" width="582.5" height="60.5"/></clipPath>
<clipPath id="clip2"><rect x="1107.5" y="1328.5" width="582.5" height="60"/></clipPath>
</defs>
<rect x="1107.50" y="1247.00" width="582.50" height="60.50" fill="url(#bg1)" stroke="none" stroke-width="0" />
<g clip-path="url(#clip1)">
<g filter="url(#blurB)" fill="#000">
<ellipse cx="1223.5" cy="1279" rx="34.5" ry="18.0" opacity="0.35"/>
<ellipse cx="1291.0" cy="1280" rx="34.0" ry="19.0" opacity="0.35"/>
<ellipse cx="1359.0" cy="1281" rx="33.0" ry="16.0" opacity="0.3"/>
<ellipse cx="1430.5" cy="1281" rx="32.5" ry="16.0" opacity="0.3"/>
<ellipse cx="1500.5" cy="1282" rx="34.5" ry="18.0" opacity="0.35"/>
</g>
<g filter="url(#blurA)" fill="#000">
<rect x="1195" y="1267.0" width="58" height="23" rx="11.5" opacity="1"/>
<rect x="1263" y="1266.5" width="57" height="26" rx="13.0" opacity="1"/>
<rect x="1332" y="1271.5" width="55" height="19" rx="9.5" opacity="1"/>
<rect x="1404" y="1272.0" width="54" height="19" rx="9.5" opacity="1"/>
<rect x="1471" y="1270.0" width="58" height="24" rx="12.0" opacity="1"/>
</g>
<g filter="url(#blurF)" fill="#000">
<rect x="1112" y="1271.0" width="34" height="17" rx="8.5" opacity="0.42"/>
<rect x="1138" y="1273.0" width="50" height="15" rx="7.5" opacity="0.14"/>
<rect x="1541" y="1274.0" width="56" height="15" rx="7.5" opacity="0.4"/>
<rect x="1609" y="1273.5" width="43" height="15" rx="7.5" opacity="0.55"/>
<rect x="1640" y="1275.0" width="34" height="14" rx="7.0" opacity="0.36"/>
</g></g>
<rect x="1107.50" y="1247.00" width="582.50" height="60.50" fill="none" stroke="#000" stroke-width="1.8" />
<rect x="1107.50" y="1328.50" width="582.50" height="60.00" fill="url(#bg1)" stroke="none" stroke-width="0" />
<g clip-path="url(#clip2)">
<g filter="url(#blurB)" fill="#000">
<ellipse cx="1147.0" cy="1360" rx="34.0" ry="14" opacity="0.3"/>
<ellipse cx="1218.5" cy="1360" rx="34.5" ry="14" opacity="0.3"/>
<ellipse cx="1290.5" cy="1360" rx="32.5" ry="14" opacity="0.3"/>
<ellipse cx="1362.0" cy="1360" rx="34.0" ry="14" opacity="0.3"/>
<ellipse cx="1431.0" cy="1360" rx="33.0" ry="14" opacity="0.3"/>
<ellipse cx="1502.5" cy="1360" rx="34.5" ry="14" opacity="0.3"/>
<ellipse cx="1573.0" cy="1360" rx="35.0" ry="14" opacity="0.3"/>
<ellipse cx="1646.0" cy="1360" rx="35.0" ry="14" opacity="0.3"/>
</g>
<g filter="url(#blurA)" fill="#000">
<rect x="1117" y="1351.0" width="60" height="17" rx="8.5"/>
<rect x="1188" y="1350.8" width="61" height="18" rx="9.0"/>
<rect x="1262" y="1352.0" width="57" height="16" rx="8.0"/>
<rect x="1332" y="1351.2" width="60" height="17.5" rx="8.8"/>
<rect x="1402" y="1351.5" width="58" height="17" rx="8.5"/>
<rect x="1472" y="1351.0" width="61" height="18" rx="9.0"/>
<rect x="1542" y="1350.5" width="62" height="18" rx="9.0"/>
<rect x="1615" y="1348.8" width="62" height="17.5" rx="8.8" transform="rotate(-3 1646 1357.5)"/>
</g></g>
<rect x="1107.50" y="1328.50" width="582.50" height="60.00" fill="none" stroke="#000" stroke-width="1.8" />
<text transform="translate(964.94,1286.80) scale(0.9706,1)" font-family='"Liberation Sans", sans-serif' font-size="34.20" font-weight="normal" fill="#000" stroke="#000" stroke-width="0.35" >FBXO32</text>
<text transform="translate(954.96,1369.30)" font-family='"Liberation Sans", sans-serif' font-size="33.46" font-weight="normal" fill="#000" stroke="#000" stroke-width="0.35" >α-Tubulin</text>
<text transform="translate(1717.65,1288.80)" font-family='"Liberation Sans", sans-serif' font-size="32.40" font-weight="normal" fill="#000" stroke="#000" stroke-width="0.35" >42kDa</text>
<text transform="translate(1716.99,1370.80)" font-family='"Liberation Sans", sans-serif' font-size="32.63" font-weight="normal" fill="#000" stroke="#000" stroke-width="0.35" >52kDa</text>
<text transform="translate(1164.70,1425.50) rotate(-60)" text-anchor="end" font-family='"Liberation Sans", sans-serif' font-size="32.30" font-weight="normal" fill="#000" stroke="#000" stroke-width="0.35">BEAS-2B</text>
<text transform="translate(1237.60,1425.50) rotate(-60)" text-anchor="end" font-family='"Liberation Sans", sans-serif' font-size="32.30" font-weight="normal" fill="#000" stroke="#000" stroke-width="0.35">A549</text>
<text transform="translate(1310.50,1425.50) rotate(-60)" text-anchor="end" font-family='"Liberation Sans", sans-serif' font-size="32.30" font-weight="normal" fill="#000" stroke="#000" stroke-width="0.35">PC-9</text>
<text transform="translate(1381.80,1425.50) rotate(-60)" text-anchor="end" font-family='"Liberation Sans", sans-serif' font-size="32.30" font-weight="normal" fill="#000" stroke="#000" stroke-width="0.35">H520</text>
<text transform="translate(1451.50,1425.50) rotate(-60)" text-anchor="end" font-family='"Liberation Sans", sans-serif' font-size="32.30" font-weight="normal" fill="#000" stroke="#000" stroke-width="0.35">H1299</text>
<text transform="translate(1521.00,1425.50) rotate(-60)" text-anchor="end" font-family='"Liberation Sans", sans-serif' font-size="32.30" font-weight="normal" fill="#000" stroke="#000" stroke-width="0.35">H1975</text>
<text transform="translate(1592.40,1425.50) rotate(-60)" text-anchor="end" font-family='"Liberation Sans", sans-serif' font-size="32.30" font-weight="normal" fill="#000" stroke="#000" stroke-width="0.35">H460</text>
<text transform="translate(1660.50,1425.50) rotate(-60)" text-anchor="end" font-family='"Liberation Sans", sans-serif' font-size="32.30" font-weight="normal" fill="#000" stroke="#000" stroke-width="0.35">HCC827</text>
</g>
</svg>
</body></html>
